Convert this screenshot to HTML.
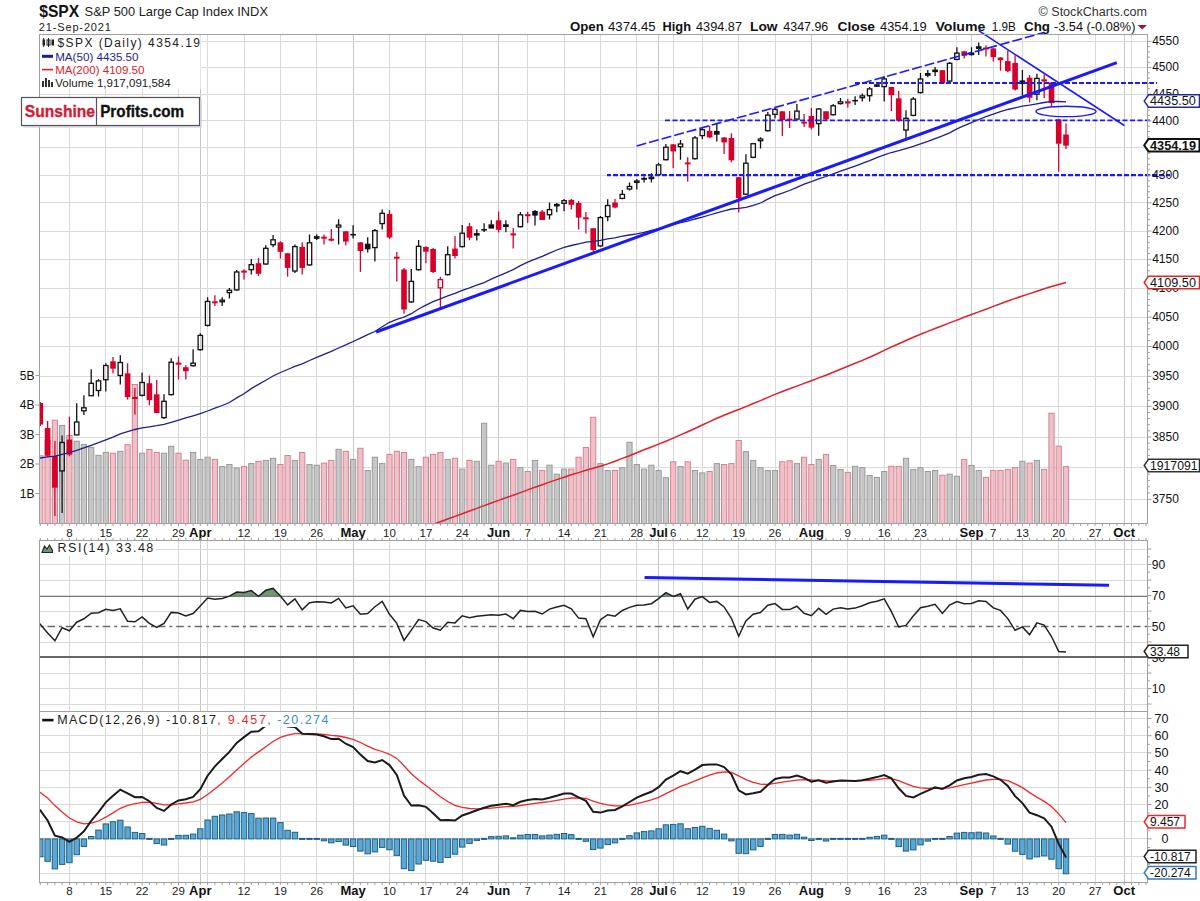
<!DOCTYPE html>
<html><head><meta charset="utf-8"><style>
html,body{margin:0;padding:0;background:#fff;width:1200px;height:901px;overflow:hidden}
svg{position:absolute;left:0;top:0}
text{font-family:"Liberation Sans", sans-serif}
</style></head><body>
<svg width="1200" height="901" viewBox="0 0 1200 901">
<defs><clipPath id="pc"><rect x="39.5" y="34.5" width="1108.0" height="489.0"/></clipPath>
<clipPath id="rc"><rect x="39.5" y="540.5" width="1108.0" height="171.0"/></clipPath>
<clipPath id="mc"><rect x="39.5" y="711.5" width="1108.0" height="171.0"/></clipPath></defs>
<g shape-rendering="crispEdges"><line x1="69.4" y1="34.5" x2="69.4" y2="523.5" stroke="#dadada"/>
<line x1="105.8" y1="34.5" x2="105.8" y2="523.5" stroke="#dadada"/>
<line x1="142.1" y1="34.5" x2="142.1" y2="523.5" stroke="#dadada"/>
<line x1="178.5" y1="34.5" x2="178.5" y2="523.5" stroke="#dadada"/>
<line x1="207.6" y1="34.5" x2="207.6" y2="523.5" stroke="#dadada"/>
<line x1="244.0" y1="34.5" x2="244.0" y2="523.5" stroke="#dadada"/>
<line x1="280.4" y1="34.5" x2="280.4" y2="523.5" stroke="#dadada"/>
<line x1="316.7" y1="34.5" x2="316.7" y2="523.5" stroke="#dadada"/>
<line x1="353.1" y1="34.5" x2="353.1" y2="523.5" stroke="#dadada"/>
<line x1="389.5" y1="34.5" x2="389.5" y2="523.5" stroke="#dadada"/>
<line x1="425.9" y1="34.5" x2="425.9" y2="523.5" stroke="#dadada"/>
<line x1="462.2" y1="34.5" x2="462.2" y2="523.5" stroke="#dadada"/>
<line x1="498.6" y1="34.5" x2="498.6" y2="523.5" stroke="#dadada"/>
<line x1="527.7" y1="34.5" x2="527.7" y2="523.5" stroke="#dadada"/>
<line x1="564.1" y1="34.5" x2="564.1" y2="523.5" stroke="#dadada"/>
<line x1="600.4" y1="34.5" x2="600.4" y2="523.5" stroke="#dadada"/>
<line x1="636.8" y1="34.5" x2="636.8" y2="523.5" stroke="#dadada"/>
<line x1="673.2" y1="34.5" x2="673.2" y2="523.5" stroke="#dadada"/>
<line x1="702.3" y1="34.5" x2="702.3" y2="523.5" stroke="#dadada"/>
<line x1="738.7" y1="34.5" x2="738.7" y2="523.5" stroke="#dadada"/>
<line x1="775.0" y1="34.5" x2="775.0" y2="523.5" stroke="#dadada"/>
<line x1="811.4" y1="34.5" x2="811.4" y2="523.5" stroke="#dadada"/>
<line x1="847.8" y1="34.5" x2="847.8" y2="523.5" stroke="#dadada"/>
<line x1="884.2" y1="34.5" x2="884.2" y2="523.5" stroke="#dadada"/>
<line x1="920.5" y1="34.5" x2="920.5" y2="523.5" stroke="#dadada"/>
<line x1="956.9" y1="34.5" x2="956.9" y2="523.5" stroke="#dadada"/>
<line x1="993.3" y1="34.5" x2="993.3" y2="523.5" stroke="#dadada"/>
<line x1="1022.4" y1="34.5" x2="1022.4" y2="523.5" stroke="#dadada"/>
<line x1="1058.7" y1="34.5" x2="1058.7" y2="523.5" stroke="#dadada"/>
<line x1="1095.1" y1="34.5" x2="1095.1" y2="523.5" stroke="#dadada"/>
<line x1="1131.5" y1="34.5" x2="1131.5" y2="523.5" stroke="#dadada"/>
<line x1="200.3" y1="34.5" x2="200.3" y2="523.5" stroke="#c8c8c8"/>
<line x1="353.1" y1="34.5" x2="353.1" y2="523.5" stroke="#c8c8c8"/>
<line x1="498.6" y1="34.5" x2="498.6" y2="523.5" stroke="#c8c8c8"/>
<line x1="658.6" y1="34.5" x2="658.6" y2="523.5" stroke="#c8c8c8"/>
<line x1="811.4" y1="34.5" x2="811.4" y2="523.5" stroke="#c8c8c8"/>
<line x1="971.5" y1="34.5" x2="971.5" y2="523.5" stroke="#c8c8c8"/>
<line x1="1124.2" y1="34.5" x2="1124.2" y2="523.5" stroke="#c8c8c8"/>
<line x1="39.5" y1="499.3" x2="1147.5" y2="499.3" stroke="#dadada"/>
<line x1="39.5" y1="467.9" x2="1147.5" y2="467.9" stroke="#dadada"/>
<line x1="39.5" y1="437.0" x2="1147.5" y2="437.0" stroke="#dadada"/>
<line x1="39.5" y1="406.4" x2="1147.5" y2="406.4" stroke="#dadada"/>
<line x1="39.5" y1="376.3" x2="1147.5" y2="376.3" stroke="#dadada"/>
<line x1="39.5" y1="346.5" x2="1147.5" y2="346.5" stroke="#dadada"/>
<line x1="39.5" y1="317.1" x2="1147.5" y2="317.1" stroke="#dadada"/>
<line x1="39.5" y1="288.0" x2="1147.5" y2="288.0" stroke="#dadada"/>
<line x1="39.5" y1="259.3" x2="1147.5" y2="259.3" stroke="#dadada"/>
<line x1="39.5" y1="231.0" x2="1147.5" y2="231.0" stroke="#dadada"/>
<line x1="39.5" y1="202.9" x2="1147.5" y2="202.9" stroke="#dadada"/>
<line x1="39.5" y1="175.2" x2="1147.5" y2="175.2" stroke="#dadada"/>
<line x1="39.5" y1="147.9" x2="1147.5" y2="147.9" stroke="#dadada"/>
<line x1="39.5" y1="120.8" x2="1147.5" y2="120.8" stroke="#dadada"/>
<line x1="39.5" y1="94.1" x2="1147.5" y2="94.1" stroke="#dadada"/>
<line x1="39.5" y1="67.6" x2="1147.5" y2="67.6" stroke="#dadada"/>
<line x1="39.5" y1="41.4" x2="1147.5" y2="41.4" stroke="#dadada"/>
<line x1="69.4" y1="540.5" x2="69.4" y2="711.5" stroke="#dadada"/>
<line x1="105.8" y1="540.5" x2="105.8" y2="711.5" stroke="#dadada"/>
<line x1="142.1" y1="540.5" x2="142.1" y2="711.5" stroke="#dadada"/>
<line x1="178.5" y1="540.5" x2="178.5" y2="711.5" stroke="#dadada"/>
<line x1="207.6" y1="540.5" x2="207.6" y2="711.5" stroke="#dadada"/>
<line x1="244.0" y1="540.5" x2="244.0" y2="711.5" stroke="#dadada"/>
<line x1="280.4" y1="540.5" x2="280.4" y2="711.5" stroke="#dadada"/>
<line x1="316.7" y1="540.5" x2="316.7" y2="711.5" stroke="#dadada"/>
<line x1="353.1" y1="540.5" x2="353.1" y2="711.5" stroke="#dadada"/>
<line x1="389.5" y1="540.5" x2="389.5" y2="711.5" stroke="#dadada"/>
<line x1="425.9" y1="540.5" x2="425.9" y2="711.5" stroke="#dadada"/>
<line x1="462.2" y1="540.5" x2="462.2" y2="711.5" stroke="#dadada"/>
<line x1="498.6" y1="540.5" x2="498.6" y2="711.5" stroke="#dadada"/>
<line x1="527.7" y1="540.5" x2="527.7" y2="711.5" stroke="#dadada"/>
<line x1="564.1" y1="540.5" x2="564.1" y2="711.5" stroke="#dadada"/>
<line x1="600.4" y1="540.5" x2="600.4" y2="711.5" stroke="#dadada"/>
<line x1="636.8" y1="540.5" x2="636.8" y2="711.5" stroke="#dadada"/>
<line x1="673.2" y1="540.5" x2="673.2" y2="711.5" stroke="#dadada"/>
<line x1="702.3" y1="540.5" x2="702.3" y2="711.5" stroke="#dadada"/>
<line x1="738.7" y1="540.5" x2="738.7" y2="711.5" stroke="#dadada"/>
<line x1="775.0" y1="540.5" x2="775.0" y2="711.5" stroke="#dadada"/>
<line x1="811.4" y1="540.5" x2="811.4" y2="711.5" stroke="#dadada"/>
<line x1="847.8" y1="540.5" x2="847.8" y2="711.5" stroke="#dadada"/>
<line x1="884.2" y1="540.5" x2="884.2" y2="711.5" stroke="#dadada"/>
<line x1="920.5" y1="540.5" x2="920.5" y2="711.5" stroke="#dadada"/>
<line x1="956.9" y1="540.5" x2="956.9" y2="711.5" stroke="#dadada"/>
<line x1="993.3" y1="540.5" x2="993.3" y2="711.5" stroke="#dadada"/>
<line x1="1022.4" y1="540.5" x2="1022.4" y2="711.5" stroke="#dadada"/>
<line x1="1058.7" y1="540.5" x2="1058.7" y2="711.5" stroke="#dadada"/>
<line x1="1095.1" y1="540.5" x2="1095.1" y2="711.5" stroke="#dadada"/>
<line x1="1131.5" y1="540.5" x2="1131.5" y2="711.5" stroke="#dadada"/>
<line x1="200.3" y1="540.5" x2="200.3" y2="711.5" stroke="#c8c8c8"/>
<line x1="353.1" y1="540.5" x2="353.1" y2="711.5" stroke="#c8c8c8"/>
<line x1="498.6" y1="540.5" x2="498.6" y2="711.5" stroke="#c8c8c8"/>
<line x1="658.6" y1="540.5" x2="658.6" y2="711.5" stroke="#c8c8c8"/>
<line x1="811.4" y1="540.5" x2="811.4" y2="711.5" stroke="#c8c8c8"/>
<line x1="971.5" y1="540.5" x2="971.5" y2="711.5" stroke="#c8c8c8"/>
<line x1="1124.2" y1="540.5" x2="1124.2" y2="711.5" stroke="#c8c8c8"/>
<line x1="39.5" y1="704.0" x2="1147.5" y2="704.0" stroke="#dadada"/>
<line x1="39.5" y1="688.5" x2="1147.5" y2="688.5" stroke="#dadada"/>
<line x1="39.5" y1="673.0" x2="1147.5" y2="673.0" stroke="#dadada"/>
<line x1="39.5" y1="642.0" x2="1147.5" y2="642.0" stroke="#dadada"/>
<line x1="39.5" y1="611.0" x2="1147.5" y2="611.0" stroke="#dadada"/>
<line x1="39.5" y1="580.0" x2="1147.5" y2="580.0" stroke="#dadada"/>
<line x1="39.5" y1="564.5" x2="1147.5" y2="564.5" stroke="#dadada"/>
<line x1="39.5" y1="549.0" x2="1147.5" y2="549.0" stroke="#dadada"/>
<line x1="69.4" y1="711.5" x2="69.4" y2="882.5" stroke="#dadada"/>
<line x1="105.8" y1="711.5" x2="105.8" y2="882.5" stroke="#dadada"/>
<line x1="142.1" y1="711.5" x2="142.1" y2="882.5" stroke="#dadada"/>
<line x1="178.5" y1="711.5" x2="178.5" y2="882.5" stroke="#dadada"/>
<line x1="207.6" y1="711.5" x2="207.6" y2="882.5" stroke="#dadada"/>
<line x1="244.0" y1="711.5" x2="244.0" y2="882.5" stroke="#dadada"/>
<line x1="280.4" y1="711.5" x2="280.4" y2="882.5" stroke="#dadada"/>
<line x1="316.7" y1="711.5" x2="316.7" y2="882.5" stroke="#dadada"/>
<line x1="353.1" y1="711.5" x2="353.1" y2="882.5" stroke="#dadada"/>
<line x1="389.5" y1="711.5" x2="389.5" y2="882.5" stroke="#dadada"/>
<line x1="425.9" y1="711.5" x2="425.9" y2="882.5" stroke="#dadada"/>
<line x1="462.2" y1="711.5" x2="462.2" y2="882.5" stroke="#dadada"/>
<line x1="498.6" y1="711.5" x2="498.6" y2="882.5" stroke="#dadada"/>
<line x1="527.7" y1="711.5" x2="527.7" y2="882.5" stroke="#dadada"/>
<line x1="564.1" y1="711.5" x2="564.1" y2="882.5" stroke="#dadada"/>
<line x1="600.4" y1="711.5" x2="600.4" y2="882.5" stroke="#dadada"/>
<line x1="636.8" y1="711.5" x2="636.8" y2="882.5" stroke="#dadada"/>
<line x1="673.2" y1="711.5" x2="673.2" y2="882.5" stroke="#dadada"/>
<line x1="702.3" y1="711.5" x2="702.3" y2="882.5" stroke="#dadada"/>
<line x1="738.7" y1="711.5" x2="738.7" y2="882.5" stroke="#dadada"/>
<line x1="775.0" y1="711.5" x2="775.0" y2="882.5" stroke="#dadada"/>
<line x1="811.4" y1="711.5" x2="811.4" y2="882.5" stroke="#dadada"/>
<line x1="847.8" y1="711.5" x2="847.8" y2="882.5" stroke="#dadada"/>
<line x1="884.2" y1="711.5" x2="884.2" y2="882.5" stroke="#dadada"/>
<line x1="920.5" y1="711.5" x2="920.5" y2="882.5" stroke="#dadada"/>
<line x1="956.9" y1="711.5" x2="956.9" y2="882.5" stroke="#dadada"/>
<line x1="993.3" y1="711.5" x2="993.3" y2="882.5" stroke="#dadada"/>
<line x1="1022.4" y1="711.5" x2="1022.4" y2="882.5" stroke="#dadada"/>
<line x1="1058.7" y1="711.5" x2="1058.7" y2="882.5" stroke="#dadada"/>
<line x1="1095.1" y1="711.5" x2="1095.1" y2="882.5" stroke="#dadada"/>
<line x1="1131.5" y1="711.5" x2="1131.5" y2="882.5" stroke="#dadada"/>
<line x1="200.3" y1="711.5" x2="200.3" y2="882.5" stroke="#c8c8c8"/>
<line x1="353.1" y1="711.5" x2="353.1" y2="882.5" stroke="#c8c8c8"/>
<line x1="498.6" y1="711.5" x2="498.6" y2="882.5" stroke="#c8c8c8"/>
<line x1="658.6" y1="711.5" x2="658.6" y2="882.5" stroke="#c8c8c8"/>
<line x1="811.4" y1="711.5" x2="811.4" y2="882.5" stroke="#c8c8c8"/>
<line x1="971.5" y1="711.5" x2="971.5" y2="882.5" stroke="#c8c8c8"/>
<line x1="1124.2" y1="711.5" x2="1124.2" y2="882.5" stroke="#c8c8c8"/>
<line x1="39.5" y1="873.3" x2="1147.5" y2="873.3" stroke="#dadada"/>
<line x1="39.5" y1="856.1" x2="1147.5" y2="856.1" stroke="#dadada"/>
<line x1="39.5" y1="838.9" x2="1147.5" y2="838.9" stroke="#dadada"/>
<line x1="39.5" y1="821.7" x2="1147.5" y2="821.7" stroke="#dadada"/>
<line x1="39.5" y1="804.5" x2="1147.5" y2="804.5" stroke="#dadada"/>
<line x1="39.5" y1="787.3" x2="1147.5" y2="787.3" stroke="#dadada"/>
<line x1="39.5" y1="770.1" x2="1147.5" y2="770.1" stroke="#dadada"/>
<line x1="39.5" y1="752.9" x2="1147.5" y2="752.9" stroke="#dadada"/>
<line x1="39.5" y1="735.7" x2="1147.5" y2="735.7" stroke="#dadada"/>
<line x1="39.5" y1="718.5" x2="1147.5" y2="718.5" stroke="#dadada"/></g>
<g clip-path="url(#pc)"><rect x="37.7" y="455.7" width="5.2" height="67.8" fill="#ebb7c1" stroke="#d9808f" stroke-width="1" fill-opacity="0.85"/>
<rect x="45.0" y="440.0" width="5.2" height="83.5" fill="#ebb7c1" stroke="#d9808f" stroke-width="1" fill-opacity="0.85"/>
<rect x="52.3" y="420.2" width="5.2" height="103.3" fill="#ebb7c1" stroke="#d9808f" stroke-width="1" fill-opacity="0.85"/>
<rect x="59.5" y="425.4" width="5.2" height="98.1" fill="#bdbdbd" stroke="#9a9a9a" stroke-width="1" fill-opacity="0.85"/>
<rect x="66.8" y="435.5" width="5.2" height="88.0" fill="#ebb7c1" stroke="#d9808f" stroke-width="1" fill-opacity="0.85"/>
<rect x="74.1" y="441.2" width="5.2" height="82.3" fill="#bdbdbd" stroke="#9a9a9a" stroke-width="1" fill-opacity="0.85"/>
<rect x="81.3" y="444.4" width="5.2" height="79.1" fill="#bdbdbd" stroke="#9a9a9a" stroke-width="1" fill-opacity="0.85"/>
<rect x="88.6" y="447.3" width="5.2" height="76.2" fill="#bdbdbd" stroke="#9a9a9a" stroke-width="1" fill-opacity="0.85"/>
<rect x="95.9" y="455.3" width="5.2" height="68.2" fill="#bdbdbd" stroke="#9a9a9a" stroke-width="1" fill-opacity="0.85"/>
<rect x="103.2" y="452.4" width="5.2" height="71.1" fill="#bdbdbd" stroke="#9a9a9a" stroke-width="1" fill-opacity="0.85"/>
<rect x="110.4" y="453.2" width="5.2" height="70.3" fill="#ebb7c1" stroke="#d9808f" stroke-width="1" fill-opacity="0.85"/>
<rect x="117.7" y="451.3" width="5.2" height="72.2" fill="#bdbdbd" stroke="#9a9a9a" stroke-width="1" fill-opacity="0.85"/>
<rect x="125.0" y="444.7" width="5.2" height="78.8" fill="#ebb7c1" stroke="#d9808f" stroke-width="1" fill-opacity="0.85"/>
<rect x="132.3" y="384.5" width="5.2" height="139.0" fill="#ebb7c1" stroke="#d9808f" stroke-width="1" fill-opacity="0.85"/>
<rect x="139.5" y="453.2" width="5.2" height="70.3" fill="#bdbdbd" stroke="#9a9a9a" stroke-width="1" fill-opacity="0.85"/>
<rect x="146.8" y="449.5" width="5.2" height="74.0" fill="#ebb7c1" stroke="#d9808f" stroke-width="1" fill-opacity="0.85"/>
<rect x="154.1" y="452.4" width="5.2" height="71.1" fill="#ebb7c1" stroke="#d9808f" stroke-width="1" fill-opacity="0.85"/>
<rect x="161.4" y="453.2" width="5.2" height="70.3" fill="#bdbdbd" stroke="#9a9a9a" stroke-width="1" fill-opacity="0.85"/>
<rect x="168.6" y="446.3" width="5.2" height="77.2" fill="#bdbdbd" stroke="#9a9a9a" stroke-width="1" fill-opacity="0.85"/>
<rect x="175.9" y="453.2" width="5.2" height="70.3" fill="#ebb7c1" stroke="#d9808f" stroke-width="1" fill-opacity="0.85"/>
<rect x="183.2" y="460.2" width="5.2" height="63.3" fill="#ebb7c1" stroke="#d9808f" stroke-width="1" fill-opacity="0.85"/>
<rect x="190.5" y="452.4" width="5.2" height="71.1" fill="#bdbdbd" stroke="#9a9a9a" stroke-width="1" fill-opacity="0.85"/>
<rect x="197.7" y="459.4" width="5.2" height="64.1" fill="#bdbdbd" stroke="#9a9a9a" stroke-width="1" fill-opacity="0.85"/>
<rect x="205.0" y="457.2" width="5.2" height="66.3" fill="#bdbdbd" stroke="#9a9a9a" stroke-width="1" fill-opacity="0.85"/>
<rect x="212.3" y="459.4" width="5.2" height="64.1" fill="#ebb7c1" stroke="#d9808f" stroke-width="1" fill-opacity="0.85"/>
<rect x="219.6" y="466.6" width="5.2" height="56.9" fill="#bdbdbd" stroke="#9a9a9a" stroke-width="1" fill-opacity="0.85"/>
<rect x="226.8" y="464.5" width="5.2" height="59.0" fill="#bdbdbd" stroke="#9a9a9a" stroke-width="1" fill-opacity="0.85"/>
<rect x="234.1" y="468.0" width="5.2" height="55.5" fill="#bdbdbd" stroke="#9a9a9a" stroke-width="1" fill-opacity="0.85"/>
<rect x="241.4" y="466.6" width="5.2" height="56.9" fill="#ebb7c1" stroke="#d9808f" stroke-width="1" fill-opacity="0.85"/>
<rect x="248.7" y="463.6" width="5.2" height="59.9" fill="#bdbdbd" stroke="#9a9a9a" stroke-width="1" fill-opacity="0.85"/>
<rect x="255.9" y="461.3" width="5.2" height="62.2" fill="#ebb7c1" stroke="#d9808f" stroke-width="1" fill-opacity="0.85"/>
<rect x="263.2" y="460.4" width="5.2" height="63.1" fill="#bdbdbd" stroke="#9a9a9a" stroke-width="1" fill-opacity="0.85"/>
<rect x="270.5" y="458.3" width="5.2" height="65.2" fill="#bdbdbd" stroke="#9a9a9a" stroke-width="1" fill-opacity="0.85"/>
<rect x="277.8" y="464.5" width="5.2" height="59.0" fill="#ebb7c1" stroke="#d9808f" stroke-width="1" fill-opacity="0.85"/>
<rect x="285.0" y="455.5" width="5.2" height="68.0" fill="#ebb7c1" stroke="#d9808f" stroke-width="1" fill-opacity="0.85"/>
<rect x="292.3" y="460.4" width="5.2" height="63.1" fill="#bdbdbd" stroke="#9a9a9a" stroke-width="1" fill-opacity="0.85"/>
<rect x="299.6" y="452.5" width="5.2" height="71.0" fill="#ebb7c1" stroke="#d9808f" stroke-width="1" fill-opacity="0.85"/>
<rect x="306.9" y="464.5" width="5.2" height="59.0" fill="#bdbdbd" stroke="#9a9a9a" stroke-width="1" fill-opacity="0.85"/>
<rect x="314.1" y="465.2" width="5.2" height="58.3" fill="#bdbdbd" stroke="#9a9a9a" stroke-width="1" fill-opacity="0.85"/>
<rect x="321.4" y="463.1" width="5.2" height="60.4" fill="#ebb7c1" stroke="#d9808f" stroke-width="1" fill-opacity="0.85"/>
<rect x="328.7" y="460.4" width="5.2" height="63.1" fill="#ebb7c1" stroke="#d9808f" stroke-width="1" fill-opacity="0.85"/>
<rect x="336.0" y="449.3" width="5.2" height="74.2" fill="#bdbdbd" stroke="#9a9a9a" stroke-width="1" fill-opacity="0.85"/>
<rect x="343.2" y="451.3" width="5.2" height="72.2" fill="#ebb7c1" stroke="#d9808f" stroke-width="1" fill-opacity="0.85"/>
<rect x="350.5" y="459.4" width="5.2" height="64.1" fill="#bdbdbd" stroke="#9a9a9a" stroke-width="1" fill-opacity="0.85"/>
<rect x="357.8" y="448.3" width="5.2" height="75.2" fill="#ebb7c1" stroke="#d9808f" stroke-width="1" fill-opacity="0.85"/>
<rect x="365.1" y="470.5" width="5.2" height="53.0" fill="#bdbdbd" stroke="#9a9a9a" stroke-width="1" fill-opacity="0.85"/>
<rect x="372.3" y="457.2" width="5.2" height="66.3" fill="#bdbdbd" stroke="#9a9a9a" stroke-width="1" fill-opacity="0.85"/>
<rect x="379.6" y="463.4" width="5.2" height="60.1" fill="#bdbdbd" stroke="#9a9a9a" stroke-width="1" fill-opacity="0.85"/>
<rect x="386.9" y="454.4" width="5.2" height="69.1" fill="#ebb7c1" stroke="#d9808f" stroke-width="1" fill-opacity="0.85"/>
<rect x="394.2" y="451.3" width="5.2" height="72.2" fill="#ebb7c1" stroke="#d9808f" stroke-width="1" fill-opacity="0.85"/>
<rect x="401.4" y="452.5" width="5.2" height="71.0" fill="#ebb7c1" stroke="#d9808f" stroke-width="1" fill-opacity="0.85"/>
<rect x="408.7" y="459.4" width="5.2" height="64.1" fill="#bdbdbd" stroke="#9a9a9a" stroke-width="1" fill-opacity="0.85"/>
<rect x="416.0" y="466.6" width="5.2" height="56.9" fill="#bdbdbd" stroke="#9a9a9a" stroke-width="1" fill-opacity="0.85"/>
<rect x="423.3" y="457.2" width="5.2" height="66.3" fill="#ebb7c1" stroke="#d9808f" stroke-width="1" fill-opacity="0.85"/>
<rect x="430.5" y="454.4" width="5.2" height="69.1" fill="#ebb7c1" stroke="#d9808f" stroke-width="1" fill-opacity="0.85"/>
<rect x="437.8" y="452.5" width="5.2" height="71.0" fill="#ebb7c1" stroke="#d9808f" stroke-width="1" fill-opacity="0.85"/>
<rect x="445.1" y="459.4" width="5.2" height="64.1" fill="#bdbdbd" stroke="#9a9a9a" stroke-width="1" fill-opacity="0.85"/>
<rect x="452.4" y="458.3" width="5.2" height="65.2" fill="#ebb7c1" stroke="#d9808f" stroke-width="1" fill-opacity="0.85"/>
<rect x="459.6" y="469.1" width="5.2" height="54.4" fill="#bdbdbd" stroke="#9a9a9a" stroke-width="1" fill-opacity="0.85"/>
<rect x="466.9" y="460.4" width="5.2" height="63.1" fill="#ebb7c1" stroke="#d9808f" stroke-width="1" fill-opacity="0.85"/>
<rect x="474.2" y="461.3" width="5.2" height="62.2" fill="#bdbdbd" stroke="#9a9a9a" stroke-width="1" fill-opacity="0.85"/>
<rect x="481.5" y="423.3" width="5.2" height="100.2" fill="#bdbdbd" stroke="#9a9a9a" stroke-width="1" fill-opacity="0.85"/>
<rect x="488.7" y="465.2" width="5.2" height="58.3" fill="#bdbdbd" stroke="#9a9a9a" stroke-width="1" fill-opacity="0.85"/>
<rect x="496.0" y="461.3" width="5.2" height="62.2" fill="#ebb7c1" stroke="#d9808f" stroke-width="1" fill-opacity="0.85"/>
<rect x="503.3" y="463.1" width="5.2" height="60.4" fill="#bdbdbd" stroke="#9a9a9a" stroke-width="1" fill-opacity="0.85"/>
<rect x="510.6" y="459.4" width="5.2" height="64.1" fill="#ebb7c1" stroke="#d9808f" stroke-width="1" fill-opacity="0.85"/>
<rect x="517.8" y="467.7" width="5.2" height="55.8" fill="#bdbdbd" stroke="#9a9a9a" stroke-width="1" fill-opacity="0.85"/>
<rect x="525.1" y="471.5" width="5.2" height="52.0" fill="#ebb7c1" stroke="#d9808f" stroke-width="1" fill-opacity="0.85"/>
<rect x="532.4" y="460.4" width="5.2" height="63.1" fill="#bdbdbd" stroke="#9a9a9a" stroke-width="1" fill-opacity="0.85"/>
<rect x="539.6" y="470.5" width="5.2" height="53.0" fill="#ebb7c1" stroke="#d9808f" stroke-width="1" fill-opacity="0.85"/>
<rect x="546.9" y="465.2" width="5.2" height="58.3" fill="#bdbdbd" stroke="#9a9a9a" stroke-width="1" fill-opacity="0.85"/>
<rect x="554.2" y="474.2" width="5.2" height="49.3" fill="#bdbdbd" stroke="#9a9a9a" stroke-width="1" fill-opacity="0.85"/>
<rect x="561.5" y="469.1" width="5.2" height="54.4" fill="#bdbdbd" stroke="#9a9a9a" stroke-width="1" fill-opacity="0.85"/>
<rect x="568.7" y="469.1" width="5.2" height="54.4" fill="#ebb7c1" stroke="#d9808f" stroke-width="1" fill-opacity="0.85"/>
<rect x="576.0" y="457.2" width="5.2" height="66.3" fill="#ebb7c1" stroke="#d9808f" stroke-width="1" fill-opacity="0.85"/>
<rect x="583.3" y="447.5" width="5.2" height="76.0" fill="#ebb7c1" stroke="#d9808f" stroke-width="1" fill-opacity="0.85"/>
<rect x="590.6" y="417.3" width="5.2" height="106.2" fill="#ebb7c1" stroke="#d9808f" stroke-width="1" fill-opacity="0.85"/>
<rect x="597.8" y="463.6" width="5.2" height="59.9" fill="#bdbdbd" stroke="#9a9a9a" stroke-width="1" fill-opacity="0.85"/>
<rect x="605.1" y="470.5" width="5.2" height="53.0" fill="#bdbdbd" stroke="#9a9a9a" stroke-width="1" fill-opacity="0.85"/>
<rect x="612.4" y="470.5" width="5.2" height="53.0" fill="#ebb7c1" stroke="#d9808f" stroke-width="1" fill-opacity="0.85"/>
<rect x="619.7" y="467.7" width="5.2" height="55.8" fill="#bdbdbd" stroke="#9a9a9a" stroke-width="1" fill-opacity="0.85"/>
<rect x="626.9" y="442.3" width="5.2" height="81.2" fill="#bdbdbd" stroke="#9a9a9a" stroke-width="1" fill-opacity="0.85"/>
<rect x="634.2" y="464.5" width="5.2" height="59.0" fill="#bdbdbd" stroke="#9a9a9a" stroke-width="1" fill-opacity="0.85"/>
<rect x="641.5" y="469.1" width="5.2" height="54.4" fill="#bdbdbd" stroke="#9a9a9a" stroke-width="1" fill-opacity="0.85"/>
<rect x="648.8" y="465.2" width="5.2" height="58.3" fill="#bdbdbd" stroke="#9a9a9a" stroke-width="1" fill-opacity="0.85"/>
<rect x="656.0" y="470.5" width="5.2" height="53.0" fill="#bdbdbd" stroke="#9a9a9a" stroke-width="1" fill-opacity="0.85"/>
<rect x="663.3" y="477.7" width="5.2" height="45.8" fill="#bdbdbd" stroke="#9a9a9a" stroke-width="1" fill-opacity="0.85"/>
<rect x="670.6" y="461.8" width="5.2" height="61.7" fill="#ebb7c1" stroke="#d9808f" stroke-width="1" fill-opacity="0.85"/>
<rect x="677.9" y="466.6" width="5.2" height="56.9" fill="#bdbdbd" stroke="#9a9a9a" stroke-width="1" fill-opacity="0.85"/>
<rect x="685.1" y="461.8" width="5.2" height="61.7" fill="#ebb7c1" stroke="#d9808f" stroke-width="1" fill-opacity="0.85"/>
<rect x="692.4" y="470.5" width="5.2" height="53.0" fill="#bdbdbd" stroke="#9a9a9a" stroke-width="1" fill-opacity="0.85"/>
<rect x="699.7" y="472.9" width="5.2" height="50.6" fill="#bdbdbd" stroke="#9a9a9a" stroke-width="1" fill-opacity="0.85"/>
<rect x="707.0" y="471.5" width="5.2" height="52.0" fill="#ebb7c1" stroke="#d9808f" stroke-width="1" fill-opacity="0.85"/>
<rect x="714.2" y="463.6" width="5.2" height="59.9" fill="#bdbdbd" stroke="#9a9a9a" stroke-width="1" fill-opacity="0.85"/>
<rect x="721.5" y="464.5" width="5.2" height="59.0" fill="#ebb7c1" stroke="#d9808f" stroke-width="1" fill-opacity="0.85"/>
<rect x="728.8" y="463.6" width="5.2" height="59.9" fill="#ebb7c1" stroke="#d9808f" stroke-width="1" fill-opacity="0.85"/>
<rect x="736.1" y="440.5" width="5.2" height="83.0" fill="#ebb7c1" stroke="#d9808f" stroke-width="1" fill-opacity="0.85"/>
<rect x="743.3" y="451.6" width="5.2" height="71.9" fill="#bdbdbd" stroke="#9a9a9a" stroke-width="1" fill-opacity="0.85"/>
<rect x="750.6" y="460.4" width="5.2" height="63.1" fill="#bdbdbd" stroke="#9a9a9a" stroke-width="1" fill-opacity="0.85"/>
<rect x="757.9" y="467.7" width="5.2" height="55.8" fill="#bdbdbd" stroke="#9a9a9a" stroke-width="1" fill-opacity="0.85"/>
<rect x="765.2" y="470.5" width="5.2" height="53.0" fill="#bdbdbd" stroke="#9a9a9a" stroke-width="1" fill-opacity="0.85"/>
<rect x="772.4" y="470.5" width="5.2" height="53.0" fill="#bdbdbd" stroke="#9a9a9a" stroke-width="1" fill-opacity="0.85"/>
<rect x="779.7" y="461.8" width="5.2" height="61.7" fill="#ebb7c1" stroke="#d9808f" stroke-width="1" fill-opacity="0.85"/>
<rect x="787.0" y="460.8" width="5.2" height="62.7" fill="#ebb7c1" stroke="#d9808f" stroke-width="1" fill-opacity="0.85"/>
<rect x="794.3" y="463.6" width="5.2" height="59.9" fill="#bdbdbd" stroke="#9a9a9a" stroke-width="1" fill-opacity="0.85"/>
<rect x="801.5" y="457.2" width="5.2" height="66.3" fill="#ebb7c1" stroke="#d9808f" stroke-width="1" fill-opacity="0.85"/>
<rect x="808.8" y="464.5" width="5.2" height="59.0" fill="#ebb7c1" stroke="#d9808f" stroke-width="1" fill-opacity="0.85"/>
<rect x="816.1" y="459.4" width="5.2" height="64.1" fill="#bdbdbd" stroke="#9a9a9a" stroke-width="1" fill-opacity="0.85"/>
<rect x="823.4" y="454.4" width="5.2" height="69.1" fill="#ebb7c1" stroke="#d9808f" stroke-width="1" fill-opacity="0.85"/>
<rect x="830.6" y="465.5" width="5.2" height="58.0" fill="#bdbdbd" stroke="#9a9a9a" stroke-width="1" fill-opacity="0.85"/>
<rect x="837.9" y="469.4" width="5.2" height="54.1" fill="#bdbdbd" stroke="#9a9a9a" stroke-width="1" fill-opacity="0.85"/>
<rect x="845.2" y="472.4" width="5.2" height="51.1" fill="#ebb7c1" stroke="#d9808f" stroke-width="1" fill-opacity="0.85"/>
<rect x="852.5" y="466.3" width="5.2" height="57.2" fill="#bdbdbd" stroke="#9a9a9a" stroke-width="1" fill-opacity="0.85"/>
<rect x="859.7" y="467.7" width="5.2" height="55.8" fill="#bdbdbd" stroke="#9a9a9a" stroke-width="1" fill-opacity="0.85"/>
<rect x="867.0" y="475.6" width="5.2" height="47.9" fill="#bdbdbd" stroke="#9a9a9a" stroke-width="1" fill-opacity="0.85"/>
<rect x="874.3" y="477.4" width="5.2" height="46.1" fill="#bdbdbd" stroke="#9a9a9a" stroke-width="1" fill-opacity="0.85"/>
<rect x="881.6" y="471.5" width="5.2" height="52.0" fill="#bdbdbd" stroke="#9a9a9a" stroke-width="1" fill-opacity="0.85"/>
<rect x="888.8" y="466.3" width="5.2" height="57.2" fill="#ebb7c1" stroke="#d9808f" stroke-width="1" fill-opacity="0.85"/>
<rect x="896.1" y="466.3" width="5.2" height="57.2" fill="#ebb7c1" stroke="#d9808f" stroke-width="1" fill-opacity="0.85"/>
<rect x="903.4" y="458.3" width="5.2" height="65.2" fill="#bdbdbd" stroke="#9a9a9a" stroke-width="1" fill-opacity="0.85"/>
<rect x="910.7" y="469.4" width="5.2" height="54.1" fill="#bdbdbd" stroke="#9a9a9a" stroke-width="1" fill-opacity="0.85"/>
<rect x="917.9" y="467.7" width="5.2" height="55.8" fill="#bdbdbd" stroke="#9a9a9a" stroke-width="1" fill-opacity="0.85"/>
<rect x="925.2" y="471.5" width="5.2" height="52.0" fill="#bdbdbd" stroke="#9a9a9a" stroke-width="1" fill-opacity="0.85"/>
<rect x="932.5" y="470.5" width="5.2" height="53.0" fill="#bdbdbd" stroke="#9a9a9a" stroke-width="1" fill-opacity="0.85"/>
<rect x="939.8" y="475.2" width="5.2" height="48.3" fill="#ebb7c1" stroke="#d9808f" stroke-width="1" fill-opacity="0.85"/>
<rect x="947.0" y="474.2" width="5.2" height="49.3" fill="#bdbdbd" stroke="#9a9a9a" stroke-width="1" fill-opacity="0.85"/>
<rect x="954.3" y="476.3" width="5.2" height="47.2" fill="#bdbdbd" stroke="#9a9a9a" stroke-width="1" fill-opacity="0.85"/>
<rect x="961.6" y="459.4" width="5.2" height="64.1" fill="#ebb7c1" stroke="#d9808f" stroke-width="1" fill-opacity="0.85"/>
<rect x="968.9" y="465.5" width="5.2" height="58.0" fill="#bdbdbd" stroke="#9a9a9a" stroke-width="1" fill-opacity="0.85"/>
<rect x="976.1" y="470.5" width="5.2" height="53.0" fill="#bdbdbd" stroke="#9a9a9a" stroke-width="1" fill-opacity="0.85"/>
<rect x="983.4" y="477.4" width="5.2" height="46.1" fill="#ebb7c1" stroke="#d9808f" stroke-width="1" fill-opacity="0.85"/>
<rect x="990.7" y="470.5" width="5.2" height="53.0" fill="#ebb7c1" stroke="#d9808f" stroke-width="1" fill-opacity="0.85"/>
<rect x="997.9" y="470.5" width="5.2" height="53.0" fill="#ebb7c1" stroke="#d9808f" stroke-width="1" fill-opacity="0.85"/>
<rect x="1005.2" y="469.4" width="5.2" height="54.1" fill="#ebb7c1" stroke="#d9808f" stroke-width="1" fill-opacity="0.85"/>
<rect x="1012.5" y="467.7" width="5.2" height="55.8" fill="#ebb7c1" stroke="#d9808f" stroke-width="1" fill-opacity="0.85"/>
<rect x="1019.8" y="461.3" width="5.2" height="62.2" fill="#bdbdbd" stroke="#9a9a9a" stroke-width="1" fill-opacity="0.85"/>
<rect x="1027.0" y="463.1" width="5.2" height="60.4" fill="#ebb7c1" stroke="#d9808f" stroke-width="1" fill-opacity="0.85"/>
<rect x="1034.3" y="460.4" width="5.2" height="63.1" fill="#bdbdbd" stroke="#9a9a9a" stroke-width="1" fill-opacity="0.85"/>
<rect x="1041.6" y="469.4" width="5.2" height="54.1" fill="#ebb7c1" stroke="#d9808f" stroke-width="1" fill-opacity="0.85"/>
<rect x="1048.9" y="413.2" width="5.2" height="110.3" fill="#ebb7c1" stroke="#d9808f" stroke-width="1" fill-opacity="0.85"/>
<rect x="1056.1" y="446.1" width="5.2" height="77.4" fill="#ebb7c1" stroke="#d9808f" stroke-width="1" fill-opacity="0.85"/>
<rect x="1063.4" y="466.6" width="5.2" height="56.9" fill="#ebb7c1" stroke="#d9808f" stroke-width="1" fill-opacity="0.85"/>
<line x1="40.3" y1="402.0" x2="40.3" y2="403.5" stroke="#d8002a" stroke-width="1.3"/>
<line x1="40.3" y1="424.0" x2="40.3" y2="426.0" stroke="#d8002a" stroke-width="1.3"/>
<rect x="37.5" y="403.0" width="5.6" height="21.5" fill="#d8002a"/>
<line x1="47.6" y1="421.0" x2="47.6" y2="428.5" stroke="#d8002a" stroke-width="1.3"/>
<line x1="47.6" y1="455.2" x2="47.6" y2="457.0" stroke="#d8002a" stroke-width="1.3"/>
<rect x="44.8" y="428.0" width="5.6" height="27.7" fill="#d8002a"/>
<line x1="54.9" y1="441.0" x2="54.9" y2="456.5" stroke="#d8002a" stroke-width="1.3"/>
<line x1="54.9" y1="487.2" x2="54.9" y2="516.0" stroke="#d8002a" stroke-width="1.3"/>
<rect x="52.1" y="456.0" width="5.6" height="31.7" fill="#d8002a"/>
<line x1="62.1" y1="435.4" x2="62.1" y2="442.4" stroke="#111" stroke-width="1.3"/>
<line x1="62.1" y1="471.0" x2="62.1" y2="513.0" stroke="#111" stroke-width="1.3"/>
<rect x="59.9" y="442.5" width="4.3999999999999995" height="28.4" fill="none" stroke="#111" stroke-width="1.3"/>
<line x1="69.4" y1="416.7" x2="69.4" y2="440.1" stroke="#d8002a" stroke-width="1.3"/>
<line x1="69.4" y1="454.2" x2="69.4" y2="456.3" stroke="#d8002a" stroke-width="1.3"/>
<rect x="66.6" y="439.6" width="5.6" height="15.1" fill="#d8002a"/>
<line x1="76.7" y1="403.3" x2="76.7" y2="421.9" stroke="#111" stroke-width="1.3"/>
<rect x="74.5" y="422.0" width="4.3999999999999995" height="12.9" fill="none" stroke="#111" stroke-width="1.3"/>
<line x1="83.9" y1="395.2" x2="83.9" y2="407.7" stroke="#111" stroke-width="1.3"/>
<line x1="83.9" y1="410.9" x2="83.9" y2="415.0" stroke="#111" stroke-width="1.3"/>
<rect x="81.7" y="407.8" width="4.3999999999999995" height="3.0" fill="none" stroke="#111" stroke-width="1.3"/>
<line x1="91.2" y1="369.2" x2="91.2" y2="383.2" stroke="#111" stroke-width="1.3"/>
<rect x="89.0" y="383.3" width="4.3999999999999995" height="12.4" fill="none" stroke="#111" stroke-width="1.3"/>
<line x1="98.5" y1="379.0" x2="98.5" y2="380.8" stroke="#111" stroke-width="1.3"/>
<line x1="98.5" y1="390.6" x2="98.5" y2="396.6" stroke="#111" stroke-width="1.3"/>
<rect x="96.3" y="380.9" width="4.3999999999999995" height="9.6" fill="none" stroke="#111" stroke-width="1.3"/>
<line x1="105.8" y1="363.3" x2="105.8" y2="365.4" stroke="#111" stroke-width="1.3"/>
<line x1="105.8" y1="379.8" x2="105.8" y2="391.6" stroke="#111" stroke-width="1.3"/>
<rect x="103.6" y="365.5" width="4.3999999999999995" height="14.2" fill="none" stroke="#111" stroke-width="1.3"/>
<line x1="113.0" y1="357.0" x2="113.0" y2="361.8" stroke="#d8002a" stroke-width="1.3"/>
<line x1="113.0" y1="368.2" x2="113.0" y2="373.6" stroke="#d8002a" stroke-width="1.3"/>
<rect x="110.2" y="361.3" width="5.6" height="7.4" fill="#d8002a"/>
<line x1="120.3" y1="355.2" x2="120.3" y2="362.4" stroke="#111" stroke-width="1.3"/>
<line x1="120.3" y1="375.6" x2="120.3" y2="384.4" stroke="#111" stroke-width="1.3"/>
<rect x="118.1" y="362.5" width="4.3999999999999995" height="13.0" fill="none" stroke="#111" stroke-width="1.3"/>
<line x1="127.6" y1="363.3" x2="127.6" y2="373.8" stroke="#d8002a" stroke-width="1.3"/>
<line x1="127.6" y1="396.6" x2="127.6" y2="399.4" stroke="#d8002a" stroke-width="1.3"/>
<rect x="124.8" y="373.3" width="5.6" height="23.8" fill="#d8002a"/>
<line x1="134.9" y1="388.0" x2="134.9" y2="397.5" stroke="#d8002a" stroke-width="1.3"/>
<line x1="134.9" y1="398.5" x2="134.9" y2="414.5" stroke="#d8002a" stroke-width="1.3"/>
<rect x="132.1" y="397.0" width="5.6" height="2.0" fill="#d8002a"/>
<line x1="142.1" y1="372.6" x2="142.1" y2="382.4" stroke="#111" stroke-width="1.3"/>
<line x1="142.1" y1="395.4" x2="142.1" y2="396.5" stroke="#111" stroke-width="1.3"/>
<rect x="139.9" y="382.5" width="4.3999999999999995" height="12.8" fill="none" stroke="#111" stroke-width="1.3"/>
<line x1="149.4" y1="375.6" x2="149.4" y2="383.7" stroke="#d8002a" stroke-width="1.3"/>
<line x1="149.4" y1="399.6" x2="149.4" y2="405.2" stroke="#d8002a" stroke-width="1.3"/>
<rect x="146.6" y="383.2" width="5.6" height="16.9" fill="#d8002a"/>
<line x1="156.7" y1="379.9" x2="156.7" y2="394.8" stroke="#d8002a" stroke-width="1.3"/>
<rect x="153.9" y="394.3" width="5.6" height="18.7" fill="#d8002a"/>
<line x1="164.0" y1="394.3" x2="164.0" y2="401.2" stroke="#111" stroke-width="1.3"/>
<line x1="164.0" y1="417.7" x2="164.0" y2="419.0" stroke="#111" stroke-width="1.3"/>
<rect x="161.8" y="401.3" width="4.3999999999999995" height="16.3" fill="none" stroke="#111" stroke-width="1.3"/>
<line x1="171.2" y1="358.3" x2="171.2" y2="362.1" stroke="#111" stroke-width="1.3"/>
<line x1="171.2" y1="394.7" x2="171.2" y2="395.5" stroke="#111" stroke-width="1.3"/>
<rect x="169.0" y="362.2" width="4.3999999999999995" height="32.4" fill="none" stroke="#111" stroke-width="1.3"/>
<line x1="178.5" y1="356.6" x2="178.5" y2="363.1" stroke="#d8002a" stroke-width="1.3"/>
<line x1="178.5" y1="364.1" x2="178.5" y2="379.6" stroke="#d8002a" stroke-width="1.3"/>
<rect x="175.7" y="362.6" width="5.6" height="2.0" fill="#d8002a"/>
<line x1="185.8" y1="365.2" x2="185.8" y2="367.7" stroke="#d8002a" stroke-width="1.3"/>
<line x1="185.8" y1="370.7" x2="185.8" y2="379.6" stroke="#d8002a" stroke-width="1.3"/>
<rect x="183.0" y="367.2" width="5.6" height="4.0" fill="#d8002a"/>
<line x1="193.1" y1="349.3" x2="193.1" y2="363.1" stroke="#111" stroke-width="1.3"/>
<line x1="193.1" y1="365.8" x2="193.1" y2="366.5" stroke="#111" stroke-width="1.3"/>
<rect x="190.9" y="363.2" width="4.3999999999999995" height="2.5" fill="none" stroke="#111" stroke-width="1.3"/>
<line x1="200.3" y1="333.3" x2="200.3" y2="335.3" stroke="#111" stroke-width="1.3"/>
<line x1="200.3" y1="349.8" x2="200.3" y2="350.5" stroke="#111" stroke-width="1.3"/>
<rect x="198.1" y="335.4" width="4.3999999999999995" height="14.3" fill="none" stroke="#111" stroke-width="1.3"/>
<line x1="207.6" y1="297.2" x2="207.6" y2="301.3" stroke="#111" stroke-width="1.3"/>
<line x1="207.6" y1="325.5" x2="207.6" y2="326.5" stroke="#111" stroke-width="1.3"/>
<rect x="205.4" y="301.4" width="4.3999999999999995" height="24.0" fill="none" stroke="#111" stroke-width="1.3"/>
<line x1="214.9" y1="295.2" x2="214.9" y2="301.8" stroke="#d8002a" stroke-width="1.3"/>
<line x1="214.9" y1="302.8" x2="214.9" y2="305.9" stroke="#d8002a" stroke-width="1.3"/>
<rect x="212.1" y="301.3" width="5.6" height="2.0" fill="#d8002a"/>
<line x1="222.2" y1="297.2" x2="222.2" y2="300.1" stroke="#111" stroke-width="1.3"/>
<line x1="222.2" y1="301.8" x2="222.2" y2="305.9" stroke="#111" stroke-width="1.3"/>
<rect x="220.0" y="300.2" width="4.3999999999999995" height="1.5" fill="none" stroke="#111" stroke-width="1.3"/>
<line x1="229.4" y1="287.9" x2="229.4" y2="290.2" stroke="#111" stroke-width="1.3"/>
<line x1="229.4" y1="292.7" x2="229.4" y2="298.5" stroke="#111" stroke-width="1.3"/>
<rect x="227.2" y="290.3" width="4.3999999999999995" height="2.3" fill="none" stroke="#111" stroke-width="1.3"/>
<line x1="236.7" y1="269.9" x2="236.7" y2="271.9" stroke="#111" stroke-width="1.3"/>
<line x1="236.7" y1="290.0" x2="236.7" y2="290.8" stroke="#111" stroke-width="1.3"/>
<rect x="234.5" y="272.0" width="4.3999999999999995" height="17.9" fill="none" stroke="#111" stroke-width="1.3"/>
<line x1="244.0" y1="269.2" x2="244.0" y2="271.1" stroke="#d8002a" stroke-width="1.3"/>
<line x1="244.0" y1="272.1" x2="244.0" y2="279.6" stroke="#d8002a" stroke-width="1.3"/>
<rect x="241.2" y="270.6" width="5.6" height="2.0" fill="#d8002a"/>
<line x1="251.3" y1="258.9" x2="251.3" y2="264.6" stroke="#111" stroke-width="1.3"/>
<line x1="251.3" y1="269.8" x2="251.3" y2="274.6" stroke="#111" stroke-width="1.3"/>
<rect x="249.1" y="264.7" width="4.3999999999999995" height="5.0" fill="none" stroke="#111" stroke-width="1.3"/>
<line x1="258.5" y1="257.9" x2="258.5" y2="263.7" stroke="#d8002a" stroke-width="1.3"/>
<line x1="258.5" y1="273.3" x2="258.5" y2="275.9" stroke="#d8002a" stroke-width="1.3"/>
<rect x="255.7" y="263.2" width="5.6" height="10.6" fill="#d8002a"/>
<line x1="265.8" y1="245.3" x2="265.8" y2="248.2" stroke="#111" stroke-width="1.3"/>
<line x1="265.8" y1="264.1" x2="265.8" y2="264.8" stroke="#111" stroke-width="1.3"/>
<rect x="263.6" y="248.3" width="4.3999999999999995" height="15.7" fill="none" stroke="#111" stroke-width="1.3"/>
<line x1="273.1" y1="234.9" x2="273.1" y2="239.7" stroke="#111" stroke-width="1.3"/>
<line x1="273.1" y1="244.8" x2="273.1" y2="247.3" stroke="#111" stroke-width="1.3"/>
<rect x="270.9" y="239.8" width="4.3999999999999995" height="4.9" fill="none" stroke="#111" stroke-width="1.3"/>
<line x1="280.4" y1="241.3" x2="280.4" y2="242.8" stroke="#d8002a" stroke-width="1.3"/>
<line x1="280.4" y1="251.3" x2="280.4" y2="258.6" stroke="#d8002a" stroke-width="1.3"/>
<rect x="277.6" y="242.3" width="5.6" height="9.5" fill="#d8002a"/>
<line x1="287.6" y1="253.0" x2="287.6" y2="253.8" stroke="#d8002a" stroke-width="1.3"/>
<line x1="287.6" y1="267.4" x2="287.6" y2="276.6" stroke="#d8002a" stroke-width="1.3"/>
<rect x="284.8" y="253.3" width="5.6" height="14.6" fill="#d8002a"/>
<line x1="294.9" y1="244.6" x2="294.9" y2="246.5" stroke="#111" stroke-width="1.3"/>
<line x1="294.9" y1="271.1" x2="294.9" y2="273.0" stroke="#111" stroke-width="1.3"/>
<rect x="292.7" y="246.6" width="4.3999999999999995" height="24.4" fill="none" stroke="#111" stroke-width="1.3"/>
<line x1="302.2" y1="242.3" x2="302.2" y2="247.4" stroke="#d8002a" stroke-width="1.3"/>
<line x1="302.2" y1="267.4" x2="302.2" y2="274.6" stroke="#d8002a" stroke-width="1.3"/>
<rect x="299.4" y="246.9" width="5.6" height="21.0" fill="#d8002a"/>
<line x1="309.5" y1="234.4" x2="309.5" y2="242.7" stroke="#111" stroke-width="1.3"/>
<line x1="309.5" y1="265.0" x2="309.5" y2="265.8" stroke="#111" stroke-width="1.3"/>
<rect x="307.3" y="242.8" width="4.3999999999999995" height="22.1" fill="none" stroke="#111" stroke-width="1.3"/>
<line x1="316.7" y1="234.4" x2="316.7" y2="236.6" stroke="#111" stroke-width="1.3"/>
<line x1="316.7" y1="238.4" x2="316.7" y2="240.0" stroke="#111" stroke-width="1.3"/>
<rect x="313.9" y="236.1" width="5.6" height="2.8" fill="#111"/>
<line x1="324.0" y1="234.4" x2="324.0" y2="237.2" stroke="#d8002a" stroke-width="1.3"/>
<line x1="324.0" y1="238.2" x2="324.0" y2="244.6" stroke="#d8002a" stroke-width="1.3"/>
<rect x="321.2" y="236.7" width="5.6" height="2.0" fill="#d8002a"/>
<line x1="331.3" y1="229.0" x2="331.3" y2="239.2" stroke="#d8002a" stroke-width="1.3"/>
<line x1="331.3" y1="240.2" x2="331.3" y2="241.5" stroke="#d8002a" stroke-width="1.3"/>
<rect x="328.5" y="238.7" width="5.6" height="2.0" fill="#d8002a"/>
<line x1="338.6" y1="219.3" x2="338.6" y2="225.0" stroke="#111" stroke-width="1.3"/>
<line x1="338.6" y1="227.2" x2="338.6" y2="244.6" stroke="#111" stroke-width="1.3"/>
<rect x="336.4" y="225.1" width="4.3999999999999995" height="2.0" fill="none" stroke="#111" stroke-width="1.3"/>
<line x1="345.8" y1="231.0" x2="345.8" y2="231.8" stroke="#d8002a" stroke-width="1.3"/>
<line x1="345.8" y1="241.1" x2="345.8" y2="245.5" stroke="#d8002a" stroke-width="1.3"/>
<rect x="343.0" y="231.3" width="5.6" height="10.3" fill="#d8002a"/>
<line x1="353.1" y1="225.3" x2="353.1" y2="234.4" stroke="#111" stroke-width="1.3"/>
<line x1="353.1" y1="235.0" x2="353.1" y2="238.6" stroke="#111" stroke-width="1.3"/>
<rect x="350.3" y="233.9" width="5.6" height="1.6" fill="#111"/>
<line x1="360.4" y1="242.0" x2="360.4" y2="242.8" stroke="#d8002a" stroke-width="1.3"/>
<line x1="360.4" y1="250.5" x2="360.4" y2="271.9" stroke="#d8002a" stroke-width="1.3"/>
<rect x="357.6" y="242.3" width="5.6" height="8.7" fill="#d8002a"/>
<line x1="367.7" y1="237.3" x2="367.7" y2="244.2" stroke="#111" stroke-width="1.3"/>
<line x1="367.7" y1="248.8" x2="367.7" y2="252.6" stroke="#111" stroke-width="1.3"/>
<rect x="364.9" y="243.7" width="5.6" height="5.6" fill="#111"/>
<line x1="374.9" y1="229.0" x2="374.9" y2="230.5" stroke="#111" stroke-width="1.3"/>
<line x1="374.9" y1="247.7" x2="374.9" y2="261.5" stroke="#111" stroke-width="1.3"/>
<rect x="372.7" y="230.6" width="4.3999999999999995" height="17.0" fill="none" stroke="#111" stroke-width="1.3"/>
<line x1="382.2" y1="209.6" x2="382.2" y2="213.2" stroke="#111" stroke-width="1.3"/>
<line x1="382.2" y1="223.7" x2="382.2" y2="229.6" stroke="#111" stroke-width="1.3"/>
<rect x="380.0" y="213.3" width="4.3999999999999995" height="10.3" fill="none" stroke="#111" stroke-width="1.3"/>
<line x1="389.5" y1="210.0" x2="389.5" y2="214.5" stroke="#d8002a" stroke-width="1.3"/>
<line x1="389.5" y1="237.0" x2="389.5" y2="239.0" stroke="#d8002a" stroke-width="1.3"/>
<rect x="386.7" y="214.0" width="5.6" height="23.5" fill="#d8002a"/>
<line x1="396.8" y1="251.9" x2="396.8" y2="257.2" stroke="#d8002a" stroke-width="1.3"/>
<line x1="396.8" y1="258.2" x2="396.8" y2="281.5" stroke="#d8002a" stroke-width="1.3"/>
<rect x="394.0" y="256.7" width="5.6" height="2.0" fill="#d8002a"/>
<line x1="404.0" y1="267.9" x2="404.0" y2="270.0" stroke="#d8002a" stroke-width="1.3"/>
<line x1="404.0" y1="309.0" x2="404.0" y2="313.8" stroke="#d8002a" stroke-width="1.3"/>
<rect x="401.2" y="269.5" width="5.6" height="40.0" fill="#d8002a"/>
<line x1="411.3" y1="269.0" x2="411.3" y2="281.3" stroke="#111" stroke-width="1.3"/>
<line x1="411.3" y1="302.0" x2="411.3" y2="303.0" stroke="#111" stroke-width="1.3"/>
<rect x="409.1" y="281.4" width="4.3999999999999995" height="20.5" fill="none" stroke="#111" stroke-width="1.3"/>
<line x1="418.6" y1="240.0" x2="418.6" y2="246.2" stroke="#111" stroke-width="1.3"/>
<line x1="418.6" y1="269.8" x2="418.6" y2="270.6" stroke="#111" stroke-width="1.3"/>
<rect x="416.4" y="246.3" width="4.3999999999999995" height="23.4" fill="none" stroke="#111" stroke-width="1.3"/>
<line x1="425.9" y1="246.5" x2="425.9" y2="247.4" stroke="#d8002a" stroke-width="1.3"/>
<line x1="425.9" y1="251.2" x2="425.9" y2="263.2" stroke="#d8002a" stroke-width="1.3"/>
<rect x="423.1" y="246.9" width="5.6" height="4.8" fill="#d8002a"/>
<line x1="433.1" y1="248.0" x2="433.1" y2="249.5" stroke="#d8002a" stroke-width="1.3"/>
<line x1="433.1" y1="271.5" x2="433.1" y2="273.0" stroke="#d8002a" stroke-width="1.3"/>
<rect x="430.3" y="249.0" width="5.6" height="23.0" fill="#d8002a"/>
<line x1="440.4" y1="277.0" x2="440.4" y2="279.5" stroke="#d8002a" stroke-width="1.3"/>
<line x1="440.4" y1="287.9" x2="440.4" y2="308.1" stroke="#d8002a" stroke-width="1.3"/>
<rect x="438.2" y="279.6" width="4.3999999999999995" height="8.2" fill="none" stroke="#d8002a" stroke-width="1.3"/>
<line x1="447.7" y1="246.2" x2="447.7" y2="254.6" stroke="#111" stroke-width="1.3"/>
<line x1="447.7" y1="274.7" x2="447.7" y2="275.5" stroke="#111" stroke-width="1.3"/>
<rect x="445.5" y="254.7" width="4.3999999999999995" height="19.9" fill="none" stroke="#111" stroke-width="1.3"/>
<line x1="455.0" y1="235.9" x2="455.0" y2="249.1" stroke="#d8002a" stroke-width="1.3"/>
<line x1="455.0" y1="255.5" x2="455.0" y2="258.5" stroke="#d8002a" stroke-width="1.3"/>
<rect x="452.2" y="248.6" width="5.6" height="7.4" fill="#d8002a"/>
<line x1="462.2" y1="224.9" x2="462.2" y2="233.1" stroke="#111" stroke-width="1.3"/>
<line x1="462.2" y1="246.7" x2="462.2" y2="247.5" stroke="#111" stroke-width="1.3"/>
<rect x="460.0" y="233.2" width="4.3999999999999995" height="13.4" fill="none" stroke="#111" stroke-width="1.3"/>
<line x1="469.5" y1="223.0" x2="469.5" y2="226.7" stroke="#d8002a" stroke-width="1.3"/>
<line x1="469.5" y1="237.2" x2="469.5" y2="240.3" stroke="#d8002a" stroke-width="1.3"/>
<rect x="466.7" y="226.2" width="5.6" height="11.5" fill="#d8002a"/>
<line x1="476.8" y1="229.3" x2="476.8" y2="233.6" stroke="#111" stroke-width="1.3"/>
<line x1="476.8" y1="235.1" x2="476.8" y2="240.6" stroke="#111" stroke-width="1.3"/>
<rect x="474.6" y="233.7" width="4.3999999999999995" height="1.3" fill="none" stroke="#111" stroke-width="1.3"/>
<line x1="484.1" y1="223.3" x2="484.1" y2="229.5" stroke="#111" stroke-width="1.3"/>
<line x1="484.1" y1="230.1" x2="484.1" y2="231.9" stroke="#111" stroke-width="1.3"/>
<rect x="481.3" y="229.0" width="5.6" height="1.6" fill="#111"/>
<line x1="491.3" y1="220.3" x2="491.3" y2="224.8" stroke="#111" stroke-width="1.3"/>
<rect x="488.5" y="224.3" width="5.6" height="4.3" fill="#111"/>
<line x1="498.6" y1="211.5" x2="498.6" y2="220.8" stroke="#d8002a" stroke-width="1.3"/>
<line x1="498.6" y1="229.3" x2="498.6" y2="232.6" stroke="#d8002a" stroke-width="1.3"/>
<rect x="495.8" y="220.3" width="5.6" height="9.5" fill="#d8002a"/>
<line x1="505.9" y1="220.3" x2="505.9" y2="224.7" stroke="#111" stroke-width="1.3"/>
<line x1="505.9" y1="226.5" x2="505.9" y2="232.3" stroke="#111" stroke-width="1.3"/>
<rect x="503.1" y="224.2" width="5.6" height="2.8" fill="#111"/>
<line x1="513.2" y1="227.9" x2="513.2" y2="233.9" stroke="#d8002a" stroke-width="1.3"/>
<line x1="513.2" y1="234.9" x2="513.2" y2="248.6" stroke="#d8002a" stroke-width="1.3"/>
<rect x="510.4" y="233.4" width="5.6" height="2.0" fill="#d8002a"/>
<line x1="520.4" y1="212.0" x2="520.4" y2="214.7" stroke="#111" stroke-width="1.3"/>
<line x1="520.4" y1="226.8" x2="520.4" y2="227.6" stroke="#111" stroke-width="1.3"/>
<rect x="518.2" y="214.8" width="4.3999999999999995" height="11.9" fill="none" stroke="#111" stroke-width="1.3"/>
<line x1="527.7" y1="211.9" x2="527.7" y2="214.7" stroke="#d8002a" stroke-width="1.3"/>
<line x1="527.7" y1="215.7" x2="527.7" y2="222.9" stroke="#d8002a" stroke-width="1.3"/>
<rect x="524.9" y="214.2" width="5.6" height="2.0" fill="#d8002a"/>
<line x1="535.0" y1="210.0" x2="535.0" y2="211.4" stroke="#111" stroke-width="1.3"/>
<line x1="535.0" y1="215.1" x2="535.0" y2="225.6" stroke="#111" stroke-width="1.3"/>
<rect x="532.2" y="210.9" width="5.6" height="4.7" fill="#111"/>
<line x1="542.2" y1="210.0" x2="542.2" y2="212.1" stroke="#d8002a" stroke-width="1.3"/>
<rect x="539.4" y="211.6" width="5.6" height="8.4" fill="#d8002a"/>
<line x1="549.5" y1="202.5" x2="549.5" y2="209.5" stroke="#111" stroke-width="1.3"/>
<line x1="549.5" y1="214.8" x2="549.5" y2="219.6" stroke="#111" stroke-width="1.3"/>
<rect x="547.3" y="209.6" width="4.3999999999999995" height="5.1" fill="none" stroke="#111" stroke-width="1.3"/>
<line x1="556.8" y1="203.0" x2="556.8" y2="204.4" stroke="#111" stroke-width="1.3"/>
<line x1="556.8" y1="205.9" x2="556.8" y2="212.3" stroke="#111" stroke-width="1.3"/>
<rect x="554.6" y="204.5" width="4.3999999999999995" height="1.3" fill="none" stroke="#111" stroke-width="1.3"/>
<line x1="564.1" y1="199.0" x2="564.1" y2="200.6" stroke="#111" stroke-width="1.3"/>
<line x1="564.1" y1="203.4" x2="564.1" y2="211.3" stroke="#111" stroke-width="1.3"/>
<rect x="561.9" y="200.7" width="4.3999999999999995" height="2.6" fill="none" stroke="#111" stroke-width="1.3"/>
<line x1="571.3" y1="199.0" x2="571.3" y2="200.4" stroke="#d8002a" stroke-width="1.3"/>
<line x1="571.3" y1="204.3" x2="571.3" y2="209.6" stroke="#d8002a" stroke-width="1.3"/>
<rect x="568.5" y="199.9" width="5.6" height="4.9" fill="#d8002a"/>
<line x1="578.6" y1="201.0" x2="578.6" y2="203.5" stroke="#d8002a" stroke-width="1.3"/>
<line x1="578.6" y1="217.1" x2="578.6" y2="229.6" stroke="#d8002a" stroke-width="1.3"/>
<rect x="575.8" y="203.0" width="5.6" height="14.6" fill="#d8002a"/>
<line x1="585.9" y1="211.9" x2="585.9" y2="217.8" stroke="#d8002a" stroke-width="1.3"/>
<line x1="585.9" y1="218.8" x2="585.9" y2="233.6" stroke="#d8002a" stroke-width="1.3"/>
<rect x="583.1" y="217.3" width="5.6" height="2.0" fill="#d8002a"/>
<line x1="593.2" y1="228.0" x2="593.2" y2="228.7" stroke="#d8002a" stroke-width="1.3"/>
<line x1="593.2" y1="249.5" x2="593.2" y2="251.5" stroke="#d8002a" stroke-width="1.3"/>
<rect x="590.4" y="228.2" width="5.6" height="21.8" fill="#d8002a"/>
<line x1="600.4" y1="215.9" x2="600.4" y2="217.5" stroke="#111" stroke-width="1.3"/>
<line x1="600.4" y1="246.0" x2="600.4" y2="246.8" stroke="#111" stroke-width="1.3"/>
<rect x="598.2" y="217.6" width="4.3999999999999995" height="28.3" fill="none" stroke="#111" stroke-width="1.3"/>
<line x1="607.7" y1="199.2" x2="607.7" y2="205.4" stroke="#111" stroke-width="1.3"/>
<line x1="607.7" y1="216.7" x2="607.7" y2="221.2" stroke="#111" stroke-width="1.3"/>
<rect x="605.5" y="205.5" width="4.3999999999999995" height="11.1" fill="none" stroke="#111" stroke-width="1.3"/>
<line x1="615.0" y1="199.0" x2="615.0" y2="203.0" stroke="#d8002a" stroke-width="1.3"/>
<line x1="615.0" y1="207.0" x2="615.0" y2="208.2" stroke="#d8002a" stroke-width="1.3"/>
<rect x="612.2" y="202.5" width="5.6" height="5.0" fill="#d8002a"/>
<line x1="622.3" y1="189.9" x2="622.3" y2="194.3" stroke="#111" stroke-width="1.3"/>
<line x1="622.3" y1="198.5" x2="622.3" y2="199.3" stroke="#111" stroke-width="1.3"/>
<rect x="620.1" y="194.4" width="4.3999999999999995" height="4.0" fill="none" stroke="#111" stroke-width="1.3"/>
<line x1="629.5" y1="182.6" x2="629.5" y2="186.4" stroke="#111" stroke-width="1.3"/>
<line x1="629.5" y1="189.1" x2="629.5" y2="190.6" stroke="#111" stroke-width="1.3"/>
<rect x="627.3" y="186.5" width="4.3999999999999995" height="2.5" fill="none" stroke="#111" stroke-width="1.3"/>
<line x1="636.8" y1="179.2" x2="636.8" y2="180.9" stroke="#111" stroke-width="1.3"/>
<line x1="636.8" y1="182.5" x2="636.8" y2="189.6" stroke="#111" stroke-width="1.3"/>
<rect x="634.6" y="181.0" width="4.3999999999999995" height="1.4" fill="none" stroke="#111" stroke-width="1.3"/>
<line x1="644.1" y1="176.6" x2="644.1" y2="178.3" stroke="#111" stroke-width="1.3"/>
<line x1="644.1" y1="179.3" x2="644.1" y2="182.6" stroke="#111" stroke-width="1.3"/>
<rect x="641.3" y="177.8" width="5.6" height="2.0" fill="#111"/>
<line x1="651.4" y1="173.2" x2="651.4" y2="177.1" stroke="#111" stroke-width="1.3"/>
<line x1="651.4" y1="178.7" x2="651.4" y2="182.6" stroke="#111" stroke-width="1.3"/>
<rect x="649.2" y="177.2" width="4.3999999999999995" height="1.4" fill="none" stroke="#111" stroke-width="1.3"/>
<line x1="658.6" y1="163.0" x2="658.6" y2="164.8" stroke="#111" stroke-width="1.3"/>
<line x1="658.6" y1="174.7" x2="658.6" y2="175.5" stroke="#111" stroke-width="1.3"/>
<rect x="656.4" y="164.9" width="4.3999999999999995" height="9.7" fill="none" stroke="#111" stroke-width="1.3"/>
<line x1="665.9" y1="144.0" x2="665.9" y2="147.1" stroke="#111" stroke-width="1.3"/>
<line x1="665.9" y1="159.8" x2="665.9" y2="160.6" stroke="#111" stroke-width="1.3"/>
<rect x="663.7" y="147.2" width="4.3999999999999995" height="12.5" fill="none" stroke="#111" stroke-width="1.3"/>
<line x1="673.2" y1="144.0" x2="673.2" y2="144.9" stroke="#d8002a" stroke-width="1.3"/>
<line x1="673.2" y1="150.9" x2="673.2" y2="167.9" stroke="#d8002a" stroke-width="1.3"/>
<rect x="670.4" y="144.4" width="5.6" height="7.0" fill="#d8002a"/>
<line x1="680.5" y1="140.0" x2="680.5" y2="143.9" stroke="#111" stroke-width="1.3"/>
<line x1="680.5" y1="146.8" x2="680.5" y2="159.7" stroke="#111" stroke-width="1.3"/>
<rect x="678.3" y="144.0" width="4.3999999999999995" height="2.7" fill="none" stroke="#111" stroke-width="1.3"/>
<line x1="687.7" y1="157.3" x2="687.7" y2="162.9" stroke="#d8002a" stroke-width="1.3"/>
<line x1="687.7" y1="163.9" x2="687.7" y2="181.5" stroke="#d8002a" stroke-width="1.3"/>
<rect x="684.9" y="162.4" width="5.6" height="2.0" fill="#d8002a"/>
<line x1="695.0" y1="136.0" x2="695.0" y2="137.8" stroke="#111" stroke-width="1.3"/>
<line x1="695.0" y1="158.8" x2="695.0" y2="159.6" stroke="#111" stroke-width="1.3"/>
<rect x="692.8" y="137.9" width="4.3999999999999995" height="20.8" fill="none" stroke="#111" stroke-width="1.3"/>
<line x1="702.3" y1="127.3" x2="702.3" y2="129.6" stroke="#111" stroke-width="1.3"/>
<line x1="702.3" y1="135.7" x2="702.3" y2="139.3" stroke="#111" stroke-width="1.3"/>
<rect x="700.1" y="129.7" width="4.3999999999999995" height="5.9" fill="none" stroke="#111" stroke-width="1.3"/>
<line x1="709.6" y1="126.0" x2="709.6" y2="131.4" stroke="#d8002a" stroke-width="1.3"/>
<line x1="709.6" y1="136.9" x2="709.6" y2="138.3" stroke="#d8002a" stroke-width="1.3"/>
<rect x="706.8" y="130.9" width="5.6" height="6.5" fill="#d8002a"/>
<line x1="716.8" y1="124.0" x2="716.8" y2="131.4" stroke="#111" stroke-width="1.3"/>
<line x1="716.8" y1="134.2" x2="716.8" y2="141.5" stroke="#111" stroke-width="1.3"/>
<rect x="714.0" y="130.9" width="5.6" height="3.8" fill="#111"/>
<line x1="724.1" y1="137.0" x2="724.1" y2="138.0" stroke="#d8002a" stroke-width="1.3"/>
<line x1="724.1" y1="141.9" x2="724.1" y2="153.9" stroke="#d8002a" stroke-width="1.3"/>
<rect x="721.3" y="137.5" width="5.6" height="4.9" fill="#d8002a"/>
<line x1="731.4" y1="133.3" x2="731.4" y2="138.5" stroke="#d8002a" stroke-width="1.3"/>
<line x1="731.4" y1="159.8" x2="731.4" y2="162.3" stroke="#d8002a" stroke-width="1.3"/>
<rect x="728.6" y="138.0" width="5.6" height="22.3" fill="#d8002a"/>
<line x1="738.7" y1="177.0" x2="738.7" y2="177.7" stroke="#d8002a" stroke-width="1.3"/>
<line x1="738.7" y1="197.7" x2="738.7" y2="212.5" stroke="#d8002a" stroke-width="1.3"/>
<rect x="735.9" y="177.2" width="5.6" height="21.0" fill="#d8002a"/>
<line x1="745.9" y1="154.3" x2="745.9" y2="163.1" stroke="#111" stroke-width="1.3"/>
<line x1="745.9" y1="194.3" x2="745.9" y2="195.1" stroke="#111" stroke-width="1.3"/>
<rect x="743.7" y="163.2" width="4.3999999999999995" height="31.0" fill="none" stroke="#111" stroke-width="1.3"/>
<line x1="753.2" y1="143.0" x2="753.2" y2="143.6" stroke="#111" stroke-width="1.3"/>
<line x1="753.2" y1="157.4" x2="753.2" y2="158.2" stroke="#111" stroke-width="1.3"/>
<rect x="751.0" y="143.7" width="4.3999999999999995" height="13.6" fill="none" stroke="#111" stroke-width="1.3"/>
<line x1="760.5" y1="137.3" x2="760.5" y2="138.9" stroke="#111" stroke-width="1.3"/>
<line x1="760.5" y1="140.8" x2="760.5" y2="148.6" stroke="#111" stroke-width="1.3"/>
<rect x="758.3" y="139.0" width="4.3999999999999995" height="1.7" fill="none" stroke="#111" stroke-width="1.3"/>
<line x1="767.8" y1="112.0" x2="767.8" y2="115.0" stroke="#111" stroke-width="1.3"/>
<line x1="767.8" y1="130.8" x2="767.8" y2="131.6" stroke="#111" stroke-width="1.3"/>
<rect x="765.6" y="115.1" width="4.3999999999999995" height="15.6" fill="none" stroke="#111" stroke-width="1.3"/>
<line x1="775.0" y1="107.3" x2="775.0" y2="109.3" stroke="#111" stroke-width="1.3"/>
<line x1="775.0" y1="114.4" x2="775.0" y2="118.6" stroke="#111" stroke-width="1.3"/>
<rect x="772.8" y="109.4" width="4.3999999999999995" height="4.9" fill="none" stroke="#111" stroke-width="1.3"/>
<line x1="782.3" y1="111.0" x2="782.3" y2="111.8" stroke="#d8002a" stroke-width="1.3"/>
<line x1="782.3" y1="119.5" x2="782.3" y2="135.9" stroke="#d8002a" stroke-width="1.3"/>
<rect x="779.5" y="111.3" width="5.6" height="8.7" fill="#d8002a"/>
<line x1="789.6" y1="110.9" x2="789.6" y2="119.1" stroke="#d8002a" stroke-width="1.3"/>
<line x1="789.6" y1="120.1" x2="789.6" y2="127.9" stroke="#d8002a" stroke-width="1.3"/>
<rect x="786.8" y="118.6" width="5.6" height="2.0" fill="#d8002a"/>
<line x1="796.9" y1="104.0" x2="796.9" y2="111.0" stroke="#111" stroke-width="1.3"/>
<line x1="796.9" y1="119.2" x2="796.9" y2="120.0" stroke="#111" stroke-width="1.3"/>
<rect x="794.7" y="111.1" width="4.3999999999999995" height="8.0" fill="none" stroke="#111" stroke-width="1.3"/>
<line x1="804.1" y1="114.0" x2="804.1" y2="122.1" stroke="#d8002a" stroke-width="1.3"/>
<line x1="804.1" y1="123.1" x2="804.1" y2="126.9" stroke="#d8002a" stroke-width="1.3"/>
<rect x="801.3" y="121.6" width="5.6" height="2.0" fill="#d8002a"/>
<line x1="811.4" y1="108.0" x2="811.4" y2="116.5" stroke="#d8002a" stroke-width="1.3"/>
<line x1="811.4" y1="127.2" x2="811.4" y2="129.5" stroke="#d8002a" stroke-width="1.3"/>
<rect x="808.6" y="116.0" width="5.6" height="11.7" fill="#d8002a"/>
<line x1="818.7" y1="108.0" x2="818.7" y2="108.9" stroke="#111" stroke-width="1.3"/>
<line x1="818.7" y1="123.7" x2="818.7" y2="135.7" stroke="#111" stroke-width="1.3"/>
<rect x="816.5" y="109.0" width="4.3999999999999995" height="14.6" fill="none" stroke="#111" stroke-width="1.3"/>
<line x1="826.0" y1="111.0" x2="826.0" y2="111.8" stroke="#d8002a" stroke-width="1.3"/>
<line x1="826.0" y1="118.9" x2="826.0" y2="120.0" stroke="#d8002a" stroke-width="1.3"/>
<rect x="823.2" y="111.3" width="5.6" height="8.1" fill="#d8002a"/>
<line x1="833.2" y1="104.0" x2="833.2" y2="105.7" stroke="#111" stroke-width="1.3"/>
<line x1="833.2" y1="114.8" x2="833.2" y2="115.6" stroke="#111" stroke-width="1.3"/>
<rect x="831.0" y="105.8" width="4.3999999999999995" height="8.9" fill="none" stroke="#111" stroke-width="1.3"/>
<line x1="840.5" y1="98.0" x2="840.5" y2="101.7" stroke="#111" stroke-width="1.3"/>
<line x1="840.5" y1="103.7" x2="840.5" y2="104.5" stroke="#111" stroke-width="1.3"/>
<rect x="838.3" y="101.8" width="4.3999999999999995" height="1.8" fill="none" stroke="#111" stroke-width="1.3"/>
<line x1="847.8" y1="98.9" x2="847.8" y2="101.8" stroke="#d8002a" stroke-width="1.3"/>
<line x1="847.8" y1="103.0" x2="847.8" y2="107.6" stroke="#d8002a" stroke-width="1.3"/>
<rect x="845.0" y="101.3" width="5.6" height="2.2" fill="#d8002a"/>
<line x1="855.1" y1="96.3" x2="855.1" y2="100.4" stroke="#111" stroke-width="1.3"/>
<line x1="855.1" y1="101.0" x2="855.1" y2="105.0" stroke="#111" stroke-width="1.3"/>
<rect x="852.3" y="99.9" width="5.6" height="1.6" fill="#111"/>
<line x1="862.3" y1="93.6" x2="862.3" y2="95.8" stroke="#111" stroke-width="1.3"/>
<line x1="862.3" y1="97.8" x2="862.3" y2="101.6" stroke="#111" stroke-width="1.3"/>
<rect x="860.1" y="95.9" width="4.3999999999999995" height="1.8" fill="none" stroke="#111" stroke-width="1.3"/>
<line x1="869.6" y1="87.0" x2="869.6" y2="88.8" stroke="#111" stroke-width="1.3"/>
<line x1="869.6" y1="95.8" x2="869.6" y2="101.6" stroke="#111" stroke-width="1.3"/>
<rect x="867.4" y="88.9" width="4.3999999999999995" height="6.8" fill="none" stroke="#111" stroke-width="1.3"/>
<line x1="876.9" y1="84.3" x2="876.9" y2="84.8" stroke="#111" stroke-width="1.3"/>
<line x1="876.9" y1="86.3" x2="876.9" y2="87.0" stroke="#111" stroke-width="1.3"/>
<rect x="874.7" y="84.9" width="4.3999999999999995" height="1.3" fill="none" stroke="#111" stroke-width="1.3"/>
<line x1="884.2" y1="76.3" x2="884.2" y2="78.8" stroke="#111" stroke-width="1.3"/>
<line x1="884.2" y1="86.7" x2="884.2" y2="101.6" stroke="#111" stroke-width="1.3"/>
<rect x="882.0" y="78.9" width="4.3999999999999995" height="7.7" fill="none" stroke="#111" stroke-width="1.3"/>
<line x1="891.4" y1="86.7" x2="891.4" y2="87.5" stroke="#d8002a" stroke-width="1.3"/>
<line x1="891.4" y1="94.6" x2="891.4" y2="110.9" stroke="#d8002a" stroke-width="1.3"/>
<rect x="888.6" y="87.0" width="5.6" height="8.1" fill="#d8002a"/>
<line x1="898.7" y1="91.0" x2="898.7" y2="98.8" stroke="#d8002a" stroke-width="1.3"/>
<line x1="898.7" y1="120.2" x2="898.7" y2="121.8" stroke="#d8002a" stroke-width="1.3"/>
<rect x="895.9" y="98.3" width="5.6" height="22.4" fill="#d8002a"/>
<line x1="906.0" y1="110.3" x2="906.0" y2="118.2" stroke="#111" stroke-width="1.3"/>
<line x1="906.0" y1="130.1" x2="906.0" y2="138.2" stroke="#111" stroke-width="1.3"/>
<rect x="903.8" y="118.3" width="4.3999999999999995" height="11.7" fill="none" stroke="#111" stroke-width="1.3"/>
<line x1="913.3" y1="97.0" x2="913.3" y2="99.0" stroke="#111" stroke-width="1.3"/>
<line x1="913.3" y1="115.5" x2="913.3" y2="116.3" stroke="#111" stroke-width="1.3"/>
<rect x="911.1" y="99.1" width="4.3999999999999995" height="16.3" fill="none" stroke="#111" stroke-width="1.3"/>
<line x1="920.5" y1="72.9" x2="920.5" y2="78.9" stroke="#111" stroke-width="1.3"/>
<line x1="920.5" y1="92.7" x2="920.5" y2="93.5" stroke="#111" stroke-width="1.3"/>
<rect x="918.3" y="79.0" width="4.3999999999999995" height="13.6" fill="none" stroke="#111" stroke-width="1.3"/>
<line x1="927.8" y1="70.0" x2="927.8" y2="73.5" stroke="#111" stroke-width="1.3"/>
<line x1="927.8" y1="75.3" x2="927.8" y2="77.3" stroke="#111" stroke-width="1.3"/>
<rect x="925.0" y="73.0" width="5.6" height="2.8" fill="#111"/>
<line x1="935.1" y1="67.0" x2="935.1" y2="70.1" stroke="#111" stroke-width="1.3"/>
<line x1="935.1" y1="71.6" x2="935.1" y2="75.9" stroke="#111" stroke-width="1.3"/>
<rect x="932.9" y="70.2" width="4.3999999999999995" height="1.3" fill="none" stroke="#111" stroke-width="1.3"/>
<line x1="942.4" y1="70.0" x2="942.4" y2="70.7" stroke="#d8002a" stroke-width="1.3"/>
<line x1="942.4" y1="82.9" x2="942.4" y2="83.6" stroke="#d8002a" stroke-width="1.3"/>
<rect x="939.6" y="70.2" width="5.6" height="13.2" fill="#d8002a"/>
<line x1="949.6" y1="62.0" x2="949.6" y2="63.2" stroke="#111" stroke-width="1.3"/>
<line x1="949.6" y1="81.2" x2="949.6" y2="82.0" stroke="#111" stroke-width="1.3"/>
<rect x="947.4" y="63.3" width="4.3999999999999995" height="17.8" fill="none" stroke="#111" stroke-width="1.3"/>
<line x1="956.9" y1="47.3" x2="956.9" y2="53.0" stroke="#111" stroke-width="1.3"/>
<line x1="956.9" y1="59.5" x2="956.9" y2="60.3" stroke="#111" stroke-width="1.3"/>
<rect x="954.7" y="53.1" width="4.3999999999999995" height="6.3" fill="none" stroke="#111" stroke-width="1.3"/>
<line x1="964.2" y1="51.0" x2="964.2" y2="51.8" stroke="#d8002a" stroke-width="1.3"/>
<line x1="964.2" y1="55.2" x2="964.2" y2="58.6" stroke="#d8002a" stroke-width="1.3"/>
<rect x="961.4" y="51.3" width="5.6" height="4.4" fill="#d8002a"/>
<line x1="971.5" y1="47.3" x2="971.5" y2="52.9" stroke="#111" stroke-width="1.3"/>
<line x1="971.5" y1="54.7" x2="971.5" y2="55.6" stroke="#111" stroke-width="1.3"/>
<rect x="968.7" y="52.4" width="5.6" height="2.8" fill="#111"/>
<line x1="978.7" y1="42.6" x2="978.7" y2="46.7" stroke="#111" stroke-width="1.3"/>
<line x1="978.7" y1="48.5" x2="978.7" y2="55.0" stroke="#111" stroke-width="1.3"/>
<rect x="975.9" y="46.2" width="5.6" height="2.8" fill="#111"/>
<line x1="986.0" y1="45.3" x2="986.0" y2="48.0" stroke="#d8002a" stroke-width="1.3"/>
<line x1="986.0" y1="49.0" x2="986.0" y2="56.6" stroke="#d8002a" stroke-width="1.3"/>
<rect x="983.2" y="47.5" width="5.6" height="2.0" fill="#d8002a"/>
<line x1="993.3" y1="48.0" x2="993.3" y2="48.9" stroke="#d8002a" stroke-width="1.3"/>
<line x1="993.3" y1="56.6" x2="993.3" y2="61.4" stroke="#d8002a" stroke-width="1.3"/>
<rect x="990.5" y="48.4" width="5.6" height="8.7" fill="#d8002a"/>
<line x1="1000.5" y1="57.3" x2="1000.5" y2="58.0" stroke="#d8002a" stroke-width="1.3"/>
<line x1="1000.5" y1="59.7" x2="1000.5" y2="70.7" stroke="#d8002a" stroke-width="1.3"/>
<rect x="997.7" y="57.5" width="5.6" height="2.7" fill="#d8002a"/>
<line x1="1007.8" y1="50.5" x2="1007.8" y2="61.6" stroke="#d8002a" stroke-width="1.3"/>
<line x1="1007.8" y1="70.6" x2="1007.8" y2="72.3" stroke="#d8002a" stroke-width="1.3"/>
<rect x="1005.0" y="61.1" width="5.6" height="10.0" fill="#d8002a"/>
<line x1="1015.1" y1="55.2" x2="1015.1" y2="63.5" stroke="#d8002a" stroke-width="1.3"/>
<line x1="1015.1" y1="89.0" x2="1015.1" y2="90.5" stroke="#d8002a" stroke-width="1.3"/>
<rect x="1012.3" y="63.0" width="5.6" height="26.5" fill="#d8002a"/>
<line x1="1022.4" y1="70.0" x2="1022.4" y2="80.9" stroke="#111" stroke-width="1.3"/>
<line x1="1022.4" y1="83.6" x2="1022.4" y2="95.6" stroke="#111" stroke-width="1.3"/>
<rect x="1019.6" y="80.4" width="5.6" height="3.7" fill="#111"/>
<line x1="1029.6" y1="75.1" x2="1029.6" y2="78.2" stroke="#d8002a" stroke-width="1.3"/>
<line x1="1029.6" y1="97.3" x2="1029.6" y2="102.6" stroke="#d8002a" stroke-width="1.3"/>
<rect x="1026.8" y="77.7" width="5.6" height="20.1" fill="#d8002a"/>
<line x1="1036.9" y1="73.8" x2="1036.9" y2="78.3" stroke="#111" stroke-width="1.3"/>
<line x1="1036.9" y1="94.3" x2="1036.9" y2="100.3" stroke="#111" stroke-width="1.3"/>
<rect x="1034.7" y="78.4" width="4.3999999999999995" height="15.8" fill="none" stroke="#111" stroke-width="1.3"/>
<line x1="1044.2" y1="74.6" x2="1044.2" y2="79.8" stroke="#d8002a" stroke-width="1.3"/>
<line x1="1044.2" y1="81.0" x2="1044.2" y2="97.9" stroke="#d8002a" stroke-width="1.3"/>
<rect x="1041.4" y="79.3" width="5.6" height="2.2" fill="#d8002a"/>
<line x1="1051.5" y1="82.0" x2="1051.5" y2="82.9" stroke="#d8002a" stroke-width="1.3"/>
<line x1="1051.5" y1="102.6" x2="1051.5" y2="106.5" stroke="#d8002a" stroke-width="1.3"/>
<rect x="1048.7" y="82.4" width="5.6" height="20.7" fill="#d8002a"/>
<line x1="1058.7" y1="119.0" x2="1058.7" y2="119.8" stroke="#d8002a" stroke-width="1.3"/>
<line x1="1058.7" y1="143.2" x2="1058.7" y2="171.7" stroke="#d8002a" stroke-width="1.3"/>
<rect x="1055.9" y="119.3" width="5.6" height="24.4" fill="#d8002a"/>
<line x1="1066.0" y1="123.5" x2="1066.0" y2="135.0" stroke="#d8002a" stroke-width="1.3"/>
<line x1="1066.0" y1="145.1" x2="1066.0" y2="148.9" stroke="#d8002a" stroke-width="1.3"/>
<rect x="1063.2" y="134.5" width="5.6" height="11.1" fill="#d8002a"/>
<polyline points="435.5,523.5 440.4,521.7 447.7,519.0 455.0,516.4 462.2,513.7 469.5,511.0 476.8,508.4 484.1,505.6 491.3,503.0 498.6,500.4 505.9,497.8 513.2,495.2 520.4,492.6 527.7,489.9 535.0,487.3 542.2,484.7 549.5,482.1 556.8,479.6 564.1,477.2 571.3,474.8 578.6,472.6 585.9,470.3 593.2,468.3 600.4,466.3 607.7,463.9 615.0,461.3 622.3,458.4 629.5,455.7 636.8,452.7 644.1,449.8 651.4,447.0 658.6,444.1 665.9,441.2 673.2,438.1 680.5,434.9 687.7,431.7 695.0,428.5 702.3,425.0 709.6,421.6 716.8,418.3 724.1,415.2 731.4,412.2 738.7,409.5 745.9,406.6 753.2,403.5 760.5,400.6 767.8,397.4 775.0,394.4 782.3,391.5 789.6,388.8 796.9,386.1 804.1,383.4 811.4,380.7 818.7,377.9 826.0,375.2 833.2,372.2 840.5,369.2 847.8,366.2 855.1,363.3 862.3,360.4 869.6,357.2 876.9,354.0 884.2,350.4 891.4,347.0 898.7,343.7 906.0,340.5 913.3,337.3 920.5,334.2 927.8,331.4 935.1,328.5 942.4,325.8 949.6,322.9 956.9,320.1 964.2,317.3 971.5,314.5 978.7,311.9 986.0,309.2 993.3,306.4 1000.5,303.7 1007.8,301.0 1015.1,298.4 1022.4,296.0 1029.6,293.6 1036.9,291.2 1044.2,288.7 1051.5,286.5 1058.7,284.5 1066.0,282.5" fill="none" stroke="#e0202a" stroke-width="1.5"/>
<polyline points="39.5,458.3 40.3,458.0 47.6,456.8 54.9,456.1 62.1,454.3 69.4,452.6 76.7,450.3 83.9,447.9 91.2,445.4 98.5,442.7 105.8,439.8 113.0,437.2 120.3,433.9 127.6,431.6 134.9,429.5 142.1,427.9 149.4,426.8 156.7,425.7 164.0,424.4 171.2,422.4 178.5,420.2 185.8,417.9 193.1,415.8 200.3,413.7 207.6,411.0 214.9,408.2 222.2,405.5 229.4,402.5 236.7,397.9 244.0,393.8 251.3,388.6 258.5,384.4 265.8,380.2 273.1,376.0 280.4,372.5 287.6,369.5 294.9,366.4 302.2,363.8 309.5,360.5 316.7,357.3 324.0,354.3 331.3,351.4 338.6,348.0 345.8,344.9 353.1,341.5 360.4,338.1 367.7,334.7 374.9,331.5 382.2,326.7 389.5,322.3 396.8,319.4 404.0,317.1 411.3,313.7 418.6,309.0 425.9,305.2 433.1,301.7 440.4,298.9 447.7,295.8 455.0,293.3 462.2,290.4 469.5,287.9 476.8,285.2 484.1,282.6 491.3,279.2 498.6,275.9 505.9,272.8 513.2,269.6 520.4,265.7 527.7,262.1 535.0,259.2 542.2,256.4 549.5,253.2 556.8,250.0 564.1,247.4 571.3,245.5 578.6,243.8 585.9,242.1 593.2,241.4 600.4,240.3 607.7,238.9 615.0,237.8 622.3,236.2 629.5,235.0 636.8,233.8 644.1,232.3 651.4,230.5 658.6,228.8 665.9,226.4 673.2,224.5 680.5,222.6 687.7,221.1 695.0,219.0 702.3,217.1 709.6,215.0 716.8,212.9 724.1,210.8 731.4,209.0 738.7,208.3 745.9,207.3 753.2,205.4 760.5,203.0 767.8,199.2 775.0,195.7 782.3,193.2 789.6,190.5 796.9,187.3 804.1,184.2 811.4,181.7 818.7,178.8 826.0,176.5 833.2,173.8 840.5,171.2 847.8,168.6 855.1,166.1 862.3,163.4 869.6,160.6 876.9,157.6 884.2,154.9 891.4,152.5 898.7,150.6 906.0,148.6 913.3,146.4 920.5,143.8 927.8,141.3 935.1,138.6 942.4,135.9 949.6,132.8 956.9,128.9 964.2,125.7 971.5,122.7 978.7,119.5 986.0,116.6 993.3,114.1 1000.5,111.7 1007.8,109.5 1015.1,107.8 1022.4,106.2 1029.6,105.2 1036.9,103.8 1044.2,102.5 1051.5,101.3 1058.7,101.5 1066.0,101.8" fill="none" stroke="#1f1f8f" stroke-width="1.3"/></g>
<g><line x1="376.0" y1="332.0" x2="1116.8" y2="62.7" stroke="#1a1aff" stroke-width="3"/>
<line x1="607.0" y1="175.2" x2="1170.0" y2="175.2" stroke="#1a1aff" stroke-width="2.2" stroke-dasharray="5 2" stroke-dashoffset="1"/>

<line x1="665.0" y1="120.4" x2="1150.0" y2="120.4" stroke="#1a1aff" stroke-width="1.6" stroke-dasharray="5 2.5" stroke-dashoffset="0"/>
<line x1="855.0" y1="83.0" x2="1157.0" y2="83.0" stroke="#1a1aff" stroke-width="2.2" stroke-dasharray="5 2" stroke-dashoffset="0"/>
<line x1="636.6" y1="146.0" x2="1044.0" y2="32.5" stroke="#1a1aff" stroke-width="1.6" stroke-dasharray="10 3" stroke-dashoffset="0"/>
<line x1="978.7" y1="30.7" x2="1124.3" y2="125.5" stroke="#1a1aff" stroke-width="1.5"/>
<ellipse cx="1066" cy="111.4" rx="30" ry="5.2" fill="none" stroke="#1a1aff" stroke-width="1.4"/>
<line x1="644.6" y1="577.5" x2="1109.0" y2="585.3" stroke="#1a1aff" stroke-width="3"/></g>
<g clip-path="url(#rc)"><polygon points="228.8,596.3 229.4,596.1 236.7,592.1 244.0,592.4 251.3,590.6 258.4,596.3 258.4,596.3 228.8,596.3" fill="#6f9772"/>
<polygon points="258.7,596.3 265.8,590.3 273.1,588.4 280.4,596.0 280.6,596.3 280.6,596.3 258.7,596.3" fill="#6f9772"/>
<polygon points="661.5,596.3 665.9,592.6 672.9,596.3 672.9,596.3 661.5,596.3" fill="#6f9772"/>
<polygon points="673.6,596.3 680.5,593.7 681.7,596.3 681.7,596.3 673.6,596.3" fill="#6f9772"/>
<line x1="39.5" y1="596.3" x2="1147.5" y2="596.3" stroke="#777" stroke-width="1.3"/>
<line x1="39.5" y1="657" x2="1147.5" y2="657" stroke="#666" stroke-width="2.2"/>
<line x1="39.5" y1="626.5" x2="1147.5" y2="626.5" stroke="#6a6a6a" stroke-width="1.6" stroke-dasharray="7.6 4 2.9 3.9" stroke-dashoffset="10.5"/>
<polyline points="39.5,623.6 40.3,624.2 47.6,633.1 54.9,640.8 62.1,627.7 69.4,630.8 76.7,622.2 83.9,618.8 91.2,613.2 98.5,612.7 105.8,609.2 113.0,610.5 120.3,608.8 127.6,621.3 134.9,621.8 142.1,617.0 149.4,623.3 156.7,627.5 164.0,623.5 171.2,612.4 178.5,613.1 185.8,616.0 193.1,613.5 200.3,605.9 207.6,598.1 214.9,599.2 222.2,598.4 229.4,596.1 236.7,592.1 244.0,592.4 251.3,590.6 258.5,596.4 265.8,590.3 273.1,588.4 280.4,596.0 287.6,604.9 294.9,598.9 302.2,609.8 309.5,602.7 316.7,601.7 324.0,601.9 331.3,603.0 338.6,598.4 345.8,607.9 353.1,605.8 360.4,614.2 367.7,613.6 374.9,606.7 382.2,601.3 389.5,614.3 396.8,623.4 404.0,640.4 411.3,630.1 418.6,619.6 425.9,621.6 433.1,628.0 440.4,630.2 447.7,622.2 455.0,622.9 462.2,615.8 469.5,617.7 476.8,616.3 484.1,615.4 491.3,614.8 498.6,615.3 505.9,614.0 513.2,618.7 520.4,610.4 527.7,611.4 535.0,611.3 542.2,614.0 549.5,609.1 556.8,607.1 564.1,605.3 571.3,608.9 578.6,618.1 585.9,618.8 593.2,636.8 600.4,619.8 607.7,614.7 615.0,616.2 622.3,610.5 629.5,607.4 636.8,605.3 644.1,605.0 651.4,603.7 658.6,598.7 665.9,592.6 673.2,596.4 680.5,593.7 687.7,609.0 695.0,599.2 702.3,596.6 709.6,602.4 716.8,601.4 724.1,606.9 731.4,618.3 738.7,636.2 745.9,621.0 753.2,614.2 760.5,612.6 767.8,605.2 775.0,603.6 782.3,609.4 789.6,609.6 796.9,606.2 804.1,613.3 811.4,615.7 818.7,608.3 826.0,614.4 833.2,609.1 840.5,607.7 847.8,609.0 855.1,608.1 862.3,605.7 869.6,602.8 876.9,601.3 884.2,598.8 891.4,611.7 898.7,627.0 906.0,625.4 913.3,615.9 920.5,607.7 927.8,606.3 935.1,604.3 942.4,613.4 949.6,605.1 956.9,601.5 964.2,603.7 971.5,603.4 978.7,600.7 986.0,601.4 993.3,607.9 1000.5,610.4 1007.8,618.6 1015.1,630.3 1022.4,626.9 1029.6,634.7 1036.9,622.9 1044.2,625.1 1051.5,636.5 1058.7,651.5 1066.0,652.1" fill="none" stroke="#222" stroke-width="1.5"/></g>
<g clip-path="url(#mc)"><rect x="37.6" y="838.9" width="5.4" height="17.9" fill="#5aa7d3" stroke="#1f5f87" stroke-width="1"/>
<rect x="44.9" y="838.9" width="5.4" height="22.4" fill="#5aa7d3" stroke="#1f5f87" stroke-width="1"/>
<rect x="52.2" y="838.9" width="5.4" height="30.0" fill="#5aa7d3" stroke="#1f5f87" stroke-width="1"/>
<rect x="59.4" y="838.9" width="5.4" height="25.5" fill="#5aa7d3" stroke="#1f5f87" stroke-width="1"/>
<rect x="66.7" y="838.9" width="5.4" height="23.8" fill="#5aa7d3" stroke="#1f5f87" stroke-width="1"/>
<rect x="74.0" y="838.9" width="5.4" height="15.8" fill="#5aa7d3" stroke="#1f5f87" stroke-width="1"/>
<rect x="81.2" y="838.9" width="5.4" height="7.5" fill="#5aa7d3" stroke="#1f5f87" stroke-width="1"/>
<rect x="88.5" y="836.5" width="5.4" height="2.4" fill="#5aa7d3" stroke="#1f5f87" stroke-width="1"/>
<rect x="95.8" y="830.1" width="5.4" height="8.8" fill="#5aa7d3" stroke="#1f5f87" stroke-width="1"/>
<rect x="103.1" y="823.9" width="5.4" height="15.0" fill="#5aa7d3" stroke="#1f5f87" stroke-width="1"/>
<rect x="110.3" y="821.7" width="5.4" height="17.2" fill="#5aa7d3" stroke="#1f5f87" stroke-width="1"/>
<rect x="117.6" y="820.2" width="5.4" height="18.7" fill="#5aa7d3" stroke="#1f5f87" stroke-width="1"/>
<rect x="124.9" y="827.0" width="5.4" height="11.9" fill="#5aa7d3" stroke="#1f5f87" stroke-width="1"/>
<rect x="132.2" y="832.4" width="5.4" height="6.5" fill="#5aa7d3" stroke="#1f5f87" stroke-width="1"/>
<rect x="139.4" y="833.5" width="5.4" height="5.4" fill="#5aa7d3" stroke="#1f5f87" stroke-width="1"/>
<rect x="146.7" y="838.4" width="5.4" height="1.0" fill="#5aa7d3" stroke="#1f5f87" stroke-width="1"/>
<rect x="154.0" y="838.9" width="5.4" height="4.7" fill="#5aa7d3" stroke="#1f5f87" stroke-width="1"/>
<rect x="161.3" y="838.9" width="5.4" height="6.1" fill="#5aa7d3" stroke="#1f5f87" stroke-width="1"/>
<rect x="168.5" y="838.4" width="5.4" height="1.0" fill="#5aa7d3" stroke="#1f5f87" stroke-width="1"/>
<rect x="175.8" y="835.4" width="5.4" height="3.5" fill="#5aa7d3" stroke="#1f5f87" stroke-width="1"/>
<rect x="183.1" y="835.3" width="5.4" height="3.6" fill="#5aa7d3" stroke="#1f5f87" stroke-width="1"/>
<rect x="190.4" y="834.1" width="5.4" height="4.8" fill="#5aa7d3" stroke="#1f5f87" stroke-width="1"/>
<rect x="197.6" y="828.8" width="5.4" height="10.1" fill="#5aa7d3" stroke="#1f5f87" stroke-width="1"/>
<rect x="204.9" y="820.0" width="5.4" height="18.9" fill="#5aa7d3" stroke="#1f5f87" stroke-width="1"/>
<rect x="212.2" y="816.3" width="5.4" height="22.6" fill="#5aa7d3" stroke="#1f5f87" stroke-width="1"/>
<rect x="219.5" y="815.0" width="5.4" height="23.9" fill="#5aa7d3" stroke="#1f5f87" stroke-width="1"/>
<rect x="226.7" y="814.0" width="5.4" height="24.9" fill="#5aa7d3" stroke="#1f5f87" stroke-width="1"/>
<rect x="234.0" y="811.8" width="5.4" height="27.1" fill="#5aa7d3" stroke="#1f5f87" stroke-width="1"/>
<rect x="241.3" y="812.6" width="5.4" height="26.3" fill="#5aa7d3" stroke="#1f5f87" stroke-width="1"/>
<rect x="248.6" y="813.6" width="5.4" height="25.3" fill="#5aa7d3" stroke="#1f5f87" stroke-width="1"/>
<rect x="255.8" y="818.2" width="5.4" height="20.7" fill="#5aa7d3" stroke="#1f5f87" stroke-width="1"/>
<rect x="263.1" y="818.0" width="5.4" height="20.9" fill="#5aa7d3" stroke="#1f5f87" stroke-width="1"/>
<rect x="270.4" y="818.1" width="5.4" height="20.8" fill="#5aa7d3" stroke="#1f5f87" stroke-width="1"/>
<rect x="277.7" y="822.6" width="5.4" height="16.3" fill="#5aa7d3" stroke="#1f5f87" stroke-width="1"/>
<rect x="284.9" y="830.3" width="5.4" height="8.6" fill="#5aa7d3" stroke="#1f5f87" stroke-width="1"/>
<rect x="292.2" y="832.3" width="5.4" height="6.6" fill="#5aa7d3" stroke="#1f5f87" stroke-width="1"/>
<rect x="299.5" y="838.4" width="5.4" height="1.0" fill="#5aa7d3" stroke="#1f5f87" stroke-width="1"/>
<rect x="306.8" y="838.4" width="5.4" height="1.0" fill="#5aa7d3" stroke="#1f5f87" stroke-width="1"/>
<rect x="314.0" y="838.4" width="5.4" height="1.0" fill="#5aa7d3" stroke="#1f5f87" stroke-width="1"/>
<rect x="321.3" y="838.9" width="5.4" height="1.9" fill="#5aa7d3" stroke="#1f5f87" stroke-width="1"/>
<rect x="328.6" y="838.9" width="5.4" height="3.9" fill="#5aa7d3" stroke="#1f5f87" stroke-width="1"/>
<rect x="335.9" y="838.9" width="5.4" height="2.7" fill="#5aa7d3" stroke="#1f5f87" stroke-width="1"/>
<rect x="343.1" y="838.9" width="5.4" height="6.2" fill="#5aa7d3" stroke="#1f5f87" stroke-width="1"/>
<rect x="350.4" y="838.9" width="5.4" height="7.6" fill="#5aa7d3" stroke="#1f5f87" stroke-width="1"/>
<rect x="357.7" y="838.9" width="5.4" height="12.2" fill="#5aa7d3" stroke="#1f5f87" stroke-width="1"/>
<rect x="365.0" y="838.9" width="5.4" height="14.9" fill="#5aa7d3" stroke="#1f5f87" stroke-width="1"/>
<rect x="372.2" y="838.9" width="5.4" height="13.0" fill="#5aa7d3" stroke="#1f5f87" stroke-width="1"/>
<rect x="379.5" y="838.9" width="5.4" height="8.5" fill="#5aa7d3" stroke="#1f5f87" stroke-width="1"/>
<rect x="386.8" y="838.9" width="5.4" height="10.9" fill="#5aa7d3" stroke="#1f5f87" stroke-width="1"/>
<rect x="394.1" y="838.9" width="5.4" height="16.5" fill="#5aa7d3" stroke="#1f5f87" stroke-width="1"/>
<rect x="401.3" y="838.9" width="5.4" height="29.8" fill="#5aa7d3" stroke="#1f5f87" stroke-width="1"/>
<rect x="408.6" y="838.9" width="5.4" height="31.7" fill="#5aa7d3" stroke="#1f5f87" stroke-width="1"/>
<rect x="415.9" y="838.9" width="5.4" height="25.1" fill="#5aa7d3" stroke="#1f5f87" stroke-width="1"/>
<rect x="423.2" y="838.9" width="5.4" height="21.4" fill="#5aa7d3" stroke="#1f5f87" stroke-width="1"/>
<rect x="430.4" y="838.9" width="5.4" height="22.3" fill="#5aa7d3" stroke="#1f5f87" stroke-width="1"/>
<rect x="437.7" y="838.9" width="5.4" height="23.5" fill="#5aa7d3" stroke="#1f5f87" stroke-width="1"/>
<rect x="445.0" y="838.9" width="5.4" height="18.6" fill="#5aa7d3" stroke="#1f5f87" stroke-width="1"/>
<rect x="452.3" y="838.9" width="5.4" height="15.3" fill="#5aa7d3" stroke="#1f5f87" stroke-width="1"/>
<rect x="459.5" y="838.9" width="5.4" height="8.2" fill="#5aa7d3" stroke="#1f5f87" stroke-width="1"/>
<rect x="466.8" y="838.9" width="5.4" height="4.5" fill="#5aa7d3" stroke="#1f5f87" stroke-width="1"/>
<rect x="474.1" y="838.9" width="5.4" height="1.5" fill="#5aa7d3" stroke="#1f5f87" stroke-width="1"/>
<rect x="481.4" y="838.4" width="5.4" height="1.0" fill="#5aa7d3" stroke="#1f5f87" stroke-width="1"/>
<rect x="488.6" y="836.6" width="5.4" height="2.3" fill="#5aa7d3" stroke="#1f5f87" stroke-width="1"/>
<rect x="495.9" y="836.3" width="5.4" height="2.6" fill="#5aa7d3" stroke="#1f5f87" stroke-width="1"/>
<rect x="503.2" y="835.9" width="5.4" height="3.0" fill="#5aa7d3" stroke="#1f5f87" stroke-width="1"/>
<rect x="510.5" y="837.8" width="5.4" height="1.1" fill="#5aa7d3" stroke="#1f5f87" stroke-width="1"/>
<rect x="517.7" y="835.2" width="5.4" height="3.7" fill="#5aa7d3" stroke="#1f5f87" stroke-width="1"/>
<rect x="525.0" y="834.5" width="5.4" height="4.4" fill="#5aa7d3" stroke="#1f5f87" stroke-width="1"/>
<rect x="532.3" y="834.5" width="5.4" height="4.4" fill="#5aa7d3" stroke="#1f5f87" stroke-width="1"/>
<rect x="539.5" y="835.9" width="5.4" height="3.0" fill="#5aa7d3" stroke="#1f5f87" stroke-width="1"/>
<rect x="546.8" y="835.1" width="5.4" height="3.8" fill="#5aa7d3" stroke="#1f5f87" stroke-width="1"/>
<rect x="554.1" y="834.3" width="5.4" height="4.6" fill="#5aa7d3" stroke="#1f5f87" stroke-width="1"/>
<rect x="561.4" y="833.5" width="5.4" height="5.4" fill="#5aa7d3" stroke="#1f5f87" stroke-width="1"/>
<rect x="568.6" y="834.6" width="5.4" height="4.3" fill="#5aa7d3" stroke="#1f5f87" stroke-width="1"/>
<rect x="575.9" y="838.4" width="5.4" height="1.0" fill="#5aa7d3" stroke="#1f5f87" stroke-width="1"/>
<rect x="583.2" y="838.9" width="5.4" height="2.4" fill="#5aa7d3" stroke="#1f5f87" stroke-width="1"/>
<rect x="590.5" y="838.9" width="5.4" height="10.6" fill="#5aa7d3" stroke="#1f5f87" stroke-width="1"/>
<rect x="597.7" y="838.9" width="5.4" height="9.2" fill="#5aa7d3" stroke="#1f5f87" stroke-width="1"/>
<rect x="605.0" y="838.9" width="5.4" height="5.7" fill="#5aa7d3" stroke="#1f5f87" stroke-width="1"/>
<rect x="612.3" y="838.9" width="5.4" height="4.0" fill="#5aa7d3" stroke="#1f5f87" stroke-width="1"/>
<rect x="619.6" y="838.4" width="5.4" height="1.0" fill="#5aa7d3" stroke="#1f5f87" stroke-width="1"/>
<rect x="626.8" y="835.7" width="5.4" height="3.2" fill="#5aa7d3" stroke="#1f5f87" stroke-width="1"/>
<rect x="634.1" y="832.9" width="5.4" height="6.0" fill="#5aa7d3" stroke="#1f5f87" stroke-width="1"/>
<rect x="641.4" y="831.6" width="5.4" height="7.3" fill="#5aa7d3" stroke="#1f5f87" stroke-width="1"/>
<rect x="648.7" y="830.9" width="5.4" height="8.0" fill="#5aa7d3" stroke="#1f5f87" stroke-width="1"/>
<rect x="655.9" y="828.8" width="5.4" height="10.1" fill="#5aa7d3" stroke="#1f5f87" stroke-width="1"/>
<rect x="663.2" y="824.8" width="5.4" height="14.1" fill="#5aa7d3" stroke="#1f5f87" stroke-width="1"/>
<rect x="670.5" y="824.4" width="5.4" height="14.5" fill="#5aa7d3" stroke="#1f5f87" stroke-width="1"/>
<rect x="677.8" y="823.8" width="5.4" height="15.1" fill="#5aa7d3" stroke="#1f5f87" stroke-width="1"/>
<rect x="685.0" y="828.7" width="5.4" height="10.2" fill="#5aa7d3" stroke="#1f5f87" stroke-width="1"/>
<rect x="692.3" y="827.5" width="5.4" height="11.4" fill="#5aa7d3" stroke="#1f5f87" stroke-width="1"/>
<rect x="699.6" y="826.3" width="5.4" height="12.6" fill="#5aa7d3" stroke="#1f5f87" stroke-width="1"/>
<rect x="706.9" y="828.4" width="5.4" height="10.5" fill="#5aa7d3" stroke="#1f5f87" stroke-width="1"/>
<rect x="714.1" y="830.3" width="5.4" height="8.6" fill="#5aa7d3" stroke="#1f5f87" stroke-width="1"/>
<rect x="721.4" y="834.1" width="5.4" height="4.8" fill="#5aa7d3" stroke="#1f5f87" stroke-width="1"/>
<rect x="728.7" y="838.9" width="5.4" height="2.0" fill="#5aa7d3" stroke="#1f5f87" stroke-width="1"/>
<rect x="736.0" y="838.9" width="5.4" height="14.4" fill="#5aa7d3" stroke="#1f5f87" stroke-width="1"/>
<rect x="743.2" y="838.9" width="5.4" height="14.8" fill="#5aa7d3" stroke="#1f5f87" stroke-width="1"/>
<rect x="750.5" y="838.9" width="5.4" height="11.0" fill="#5aa7d3" stroke="#1f5f87" stroke-width="1"/>
<rect x="757.8" y="838.9" width="5.4" height="7.5" fill="#5aa7d3" stroke="#1f5f87" stroke-width="1"/>
<rect x="765.1" y="838.4" width="5.4" height="1.0" fill="#5aa7d3" stroke="#1f5f87" stroke-width="1"/>
<rect x="772.3" y="834.5" width="5.4" height="4.4" fill="#5aa7d3" stroke="#1f5f87" stroke-width="1"/>
<rect x="779.6" y="834.4" width="5.4" height="4.5" fill="#5aa7d3" stroke="#1f5f87" stroke-width="1"/>
<rect x="786.9" y="835.1" width="5.4" height="3.8" fill="#5aa7d3" stroke="#1f5f87" stroke-width="1"/>
<rect x="794.2" y="834.3" width="5.4" height="4.6" fill="#5aa7d3" stroke="#1f5f87" stroke-width="1"/>
<rect x="801.4" y="837.2" width="5.4" height="1.7" fill="#5aa7d3" stroke="#1f5f87" stroke-width="1"/>
<rect x="808.7" y="838.9" width="5.4" height="1.6" fill="#5aa7d3" stroke="#1f5f87" stroke-width="1"/>
<rect x="816.0" y="838.4" width="5.4" height="1.0" fill="#5aa7d3" stroke="#1f5f87" stroke-width="1"/>
<rect x="823.3" y="838.9" width="5.4" height="2.1" fill="#5aa7d3" stroke="#1f5f87" stroke-width="1"/>
<rect x="830.5" y="838.4" width="5.4" height="1.0" fill="#5aa7d3" stroke="#1f5f87" stroke-width="1"/>
<rect x="837.8" y="838.4" width="5.4" height="1.0" fill="#5aa7d3" stroke="#1f5f87" stroke-width="1"/>
<rect x="845.1" y="838.4" width="5.4" height="1.0" fill="#5aa7d3" stroke="#1f5f87" stroke-width="1"/>
<rect x="852.4" y="838.4" width="5.4" height="1.0" fill="#5aa7d3" stroke="#1f5f87" stroke-width="1"/>
<rect x="859.6" y="838.4" width="5.4" height="1.0" fill="#5aa7d3" stroke="#1f5f87" stroke-width="1"/>
<rect x="866.9" y="837.3" width="5.4" height="1.6" fill="#5aa7d3" stroke="#1f5f87" stroke-width="1"/>
<rect x="874.2" y="836.4" width="5.4" height="2.5" fill="#5aa7d3" stroke="#1f5f87" stroke-width="1"/>
<rect x="881.5" y="835.2" width="5.4" height="3.7" fill="#5aa7d3" stroke="#1f5f87" stroke-width="1"/>
<rect x="888.7" y="838.4" width="5.4" height="1.0" fill="#5aa7d3" stroke="#1f5f87" stroke-width="1"/>
<rect x="896.0" y="838.9" width="5.4" height="7.7" fill="#5aa7d3" stroke="#1f5f87" stroke-width="1"/>
<rect x="903.3" y="838.9" width="5.4" height="12.2" fill="#5aa7d3" stroke="#1f5f87" stroke-width="1"/>
<rect x="910.6" y="838.9" width="5.4" height="11.0" fill="#5aa7d3" stroke="#1f5f87" stroke-width="1"/>
<rect x="917.8" y="838.9" width="5.4" height="6.0" fill="#5aa7d3" stroke="#1f5f87" stroke-width="1"/>
<rect x="925.1" y="838.9" width="5.4" height="2.2" fill="#5aa7d3" stroke="#1f5f87" stroke-width="1"/>
<rect x="932.4" y="838.4" width="5.4" height="1.0" fill="#5aa7d3" stroke="#1f5f87" stroke-width="1"/>
<rect x="939.7" y="838.4" width="5.4" height="1.0" fill="#5aa7d3" stroke="#1f5f87" stroke-width="1"/>
<rect x="946.9" y="836.5" width="5.4" height="2.4" fill="#5aa7d3" stroke="#1f5f87" stroke-width="1"/>
<rect x="954.2" y="833.1" width="5.4" height="5.8" fill="#5aa7d3" stroke="#1f5f87" stroke-width="1"/>
<rect x="961.5" y="832.4" width="5.4" height="6.5" fill="#5aa7d3" stroke="#1f5f87" stroke-width="1"/>
<rect x="968.8" y="832.7" width="5.4" height="6.2" fill="#5aa7d3" stroke="#1f5f87" stroke-width="1"/>
<rect x="976.0" y="832.2" width="5.4" height="6.7" fill="#5aa7d3" stroke="#1f5f87" stroke-width="1"/>
<rect x="983.3" y="833.0" width="5.4" height="5.9" fill="#5aa7d3" stroke="#1f5f87" stroke-width="1"/>
<rect x="990.6" y="836.0" width="5.4" height="2.9" fill="#5aa7d3" stroke="#1f5f87" stroke-width="1"/>
<rect x="997.8" y="838.4" width="5.4" height="1.0" fill="#5aa7d3" stroke="#1f5f87" stroke-width="1"/>
<rect x="1005.1" y="838.9" width="5.4" height="5.2" fill="#5aa7d3" stroke="#1f5f87" stroke-width="1"/>
<rect x="1012.4" y="838.9" width="5.4" height="12.3" fill="#5aa7d3" stroke="#1f5f87" stroke-width="1"/>
<rect x="1019.7" y="838.9" width="5.4" height="15.5" fill="#5aa7d3" stroke="#1f5f87" stroke-width="1"/>
<rect x="1026.9" y="838.9" width="5.4" height="20.0" fill="#5aa7d3" stroke="#1f5f87" stroke-width="1"/>
<rect x="1034.2" y="838.9" width="5.4" height="18.0" fill="#5aa7d3" stroke="#1f5f87" stroke-width="1"/>
<rect x="1041.5" y="838.9" width="5.4" height="17.0" fill="#5aa7d3" stroke="#1f5f87" stroke-width="1"/>
<rect x="1048.8" y="838.9" width="5.4" height="20.3" fill="#5aa7d3" stroke="#1f5f87" stroke-width="1"/>
<rect x="1056.0" y="838.9" width="5.4" height="29.8" fill="#5aa7d3" stroke="#1f5f87" stroke-width="1"/>
<rect x="1063.3" y="838.9" width="5.4" height="34.9" fill="#5aa7d3" stroke="#1f5f87" stroke-width="1"/>
<polyline points="39.5,792.0 40.3,792.5 47.6,798.1 54.9,805.6 62.1,812.0 69.4,818.0 76.7,821.9 83.9,823.8 91.2,823.2 98.5,821.0 105.8,817.2 113.0,812.9 120.3,808.3 127.6,805.3 134.9,803.7 142.1,802.3 149.4,802.1 156.7,803.3 164.0,804.8 171.2,804.8 178.5,803.9 185.8,803.0 193.1,801.8 200.3,799.3 207.6,794.5 214.9,788.9 222.2,782.9 229.4,776.7 236.7,770.0 244.0,763.4 251.3,757.1 258.5,751.9 265.8,746.7 273.1,741.5 280.4,737.4 287.6,735.2 294.9,733.6 302.2,733.6 309.5,733.7 316.7,733.9 324.0,734.3 331.3,735.3 338.6,736.0 345.8,737.5 353.1,739.4 360.4,742.5 367.7,746.2 374.9,749.4 382.2,751.5 389.5,754.3 396.8,758.4 404.0,765.8 411.3,773.8 418.6,780.0 425.9,785.4 433.1,791.0 440.4,796.8 447.7,801.5 455.0,805.3 462.2,807.3 469.5,808.5 476.8,808.8 484.1,808.6 491.3,808.1 498.6,807.4 505.9,806.7 513.2,806.4 520.4,805.5 527.7,804.4 535.0,803.3 542.2,802.5 549.5,801.6 556.8,800.4 564.1,799.1 571.3,798.0 578.6,797.8 585.9,798.4 593.2,801.1 600.4,803.4 607.7,804.8 615.0,805.8 622.3,805.9 629.5,805.1 636.8,803.6 644.1,801.8 651.4,799.8 658.6,797.3 665.9,793.7 673.2,790.1 680.5,786.3 687.7,783.8 695.0,780.9 702.3,777.8 709.6,775.2 716.8,773.0 724.1,771.8 731.4,772.3 738.7,775.9 745.9,779.6 753.2,782.3 760.5,784.2 767.8,784.4 775.0,783.3 782.3,782.2 789.6,781.2 796.9,780.1 804.1,779.6 811.4,780.0 818.7,780.1 826.0,780.6 833.2,780.8 840.5,780.7 847.8,780.7 855.1,780.8 862.3,780.7 869.6,780.3 876.9,779.6 884.2,778.7 891.4,778.6 898.7,780.6 906.0,783.6 913.3,786.4 920.5,787.9 927.8,788.4 935.1,788.2 942.4,788.4 949.6,787.8 956.9,786.3 964.2,784.7 971.5,783.1 978.7,781.5 986.0,780.0 993.3,779.3 1000.5,779.4 1007.8,780.7 1015.1,783.8 1022.4,787.6 1029.6,792.6 1036.9,797.1 1044.2,801.4 1051.5,806.5 1058.7,813.9 1066.0,822.6" fill="none" stroke="#ee2a2a" stroke-width="1.3"/>
<polyline points="39.5,810.0 40.3,810.4 47.6,820.5 54.9,835.7 62.1,837.5 69.4,841.8 76.7,837.7 83.9,831.3 91.2,820.8 98.5,812.2 105.8,802.3 113.0,795.8 120.3,789.6 127.6,793.4 134.9,797.2 142.1,796.9 149.4,801.2 156.7,808.0 164.0,810.9 171.2,804.5 178.5,800.4 185.8,799.3 193.1,797.0 200.3,789.2 207.6,775.7 214.9,766.3 222.2,759.0 229.4,751.9 236.7,742.9 244.0,737.1 251.3,731.8 258.5,731.2 265.8,725.7 273.1,720.6 280.4,721.0 287.6,726.6 294.9,726.9 302.2,733.7 309.5,734.1 316.7,734.5 324.0,736.2 331.3,739.1 338.6,738.7 345.8,743.7 353.1,747.1 360.4,754.6 367.7,761.1 374.9,762.4 382.2,760.0 389.5,765.1 396.8,774.9 404.0,795.6 411.3,805.5 418.6,805.2 425.9,806.8 433.1,813.3 440.4,820.3 447.7,820.1 455.0,820.6 462.2,815.5 469.5,813.0 476.8,810.3 484.1,807.8 491.3,805.8 498.6,804.8 505.9,803.7 513.2,805.2 520.4,801.8 527.7,800.0 535.0,798.9 542.2,799.5 549.5,797.8 556.8,795.8 564.1,793.6 571.3,793.6 578.6,797.3 585.9,800.9 593.2,811.7 600.4,812.6 607.7,810.5 615.0,809.9 622.3,806.3 629.5,802.0 636.8,797.6 644.1,794.5 651.4,791.8 658.6,787.1 665.9,779.6 673.2,775.6 680.5,771.2 687.7,773.6 695.0,769.6 702.3,765.1 709.6,764.6 716.8,764.4 724.1,767.0 731.4,774.3 738.7,790.3 745.9,794.4 753.2,793.3 760.5,791.8 767.8,785.0 775.0,778.9 782.3,777.6 789.6,777.5 796.9,775.5 804.1,777.9 811.4,781.7 818.7,780.3 826.0,782.7 833.2,781.6 840.5,780.4 847.8,780.7 855.1,780.9 862.3,780.3 869.6,778.7 876.9,777.1 884.2,775.0 891.4,778.4 898.7,788.3 906.0,795.9 913.3,797.4 920.5,793.9 927.8,790.7 935.1,787.4 942.4,789.0 949.6,785.4 956.9,780.5 964.2,778.2 971.5,776.9 978.7,774.8 986.0,774.1 993.3,776.4 1000.5,779.8 1007.8,785.9 1015.1,796.1 1022.4,803.1 1029.6,812.6 1036.9,815.2 1044.2,818.4 1051.5,826.7 1058.7,843.7 1066.0,857.5" fill="none" stroke="#1a1a1a" stroke-width="2"/></g>
<g><rect x="39.5" y="34.5" width="1108.0" height="489.0" fill="none" stroke="#a0a0a0" stroke-width="1"/>
<rect x="39.5" y="540.5" width="1108.0" height="171.0" fill="none" stroke="#a0a0a0" stroke-width="1"/>
<rect x="39.5" y="711.5" width="1108.0" height="171.0" fill="none" stroke="#a0a0a0" stroke-width="1"/>
<line x1="1147.5" y1="499.3" x2="1151.5" y2="499.3" stroke="#a0a0a0"/>
<line x1="1147.5" y1="493.0" x2="1150.0" y2="493.0" stroke="#a0a0a0"/>
<line x1="1147.5" y1="486.7" x2="1150.0" y2="486.7" stroke="#a0a0a0"/>
<line x1="1147.5" y1="480.4" x2="1150.0" y2="480.4" stroke="#a0a0a0"/>
<line x1="1147.5" y1="474.2" x2="1150.0" y2="474.2" stroke="#a0a0a0"/>
<line x1="1147.5" y1="467.9" x2="1151.5" y2="467.9" stroke="#a0a0a0"/>
<line x1="1147.5" y1="461.7" x2="1150.0" y2="461.7" stroke="#a0a0a0"/>
<line x1="1147.5" y1="455.5" x2="1150.0" y2="455.5" stroke="#a0a0a0"/>
<line x1="1147.5" y1="449.3" x2="1150.0" y2="449.3" stroke="#a0a0a0"/>
<line x1="1147.5" y1="443.1" x2="1150.0" y2="443.1" stroke="#a0a0a0"/>
<line x1="1147.5" y1="437.0" x2="1151.5" y2="437.0" stroke="#a0a0a0"/>
<line x1="1147.5" y1="430.8" x2="1150.0" y2="430.8" stroke="#a0a0a0"/>
<line x1="1147.5" y1="424.7" x2="1150.0" y2="424.7" stroke="#a0a0a0"/>
<line x1="1147.5" y1="418.6" x2="1150.0" y2="418.6" stroke="#a0a0a0"/>
<line x1="1147.5" y1="412.5" x2="1150.0" y2="412.5" stroke="#a0a0a0"/>
<line x1="1147.5" y1="406.4" x2="1151.5" y2="406.4" stroke="#a0a0a0"/>
<line x1="1147.5" y1="400.4" x2="1150.0" y2="400.4" stroke="#a0a0a0"/>
<line x1="1147.5" y1="394.3" x2="1150.0" y2="394.3" stroke="#a0a0a0"/>
<line x1="1147.5" y1="388.3" x2="1150.0" y2="388.3" stroke="#a0a0a0"/>
<line x1="1147.5" y1="382.3" x2="1150.0" y2="382.3" stroke="#a0a0a0"/>
<line x1="1147.5" y1="376.3" x2="1151.5" y2="376.3" stroke="#a0a0a0"/>
<line x1="1147.5" y1="370.3" x2="1150.0" y2="370.3" stroke="#a0a0a0"/>
<line x1="1147.5" y1="364.3" x2="1150.0" y2="364.3" stroke="#a0a0a0"/>
<line x1="1147.5" y1="358.4" x2="1150.0" y2="358.4" stroke="#a0a0a0"/>
<line x1="1147.5" y1="352.4" x2="1150.0" y2="352.4" stroke="#a0a0a0"/>
<line x1="1147.5" y1="346.5" x2="1151.5" y2="346.5" stroke="#a0a0a0"/>
<line x1="1147.5" y1="340.6" x2="1150.0" y2="340.6" stroke="#a0a0a0"/>
<line x1="1147.5" y1="334.7" x2="1150.0" y2="334.7" stroke="#a0a0a0"/>
<line x1="1147.5" y1="328.8" x2="1150.0" y2="328.8" stroke="#a0a0a0"/>
<line x1="1147.5" y1="322.9" x2="1150.0" y2="322.9" stroke="#a0a0a0"/>
<line x1="1147.5" y1="317.1" x2="1151.5" y2="317.1" stroke="#a0a0a0"/>
<line x1="1147.5" y1="311.2" x2="1150.0" y2="311.2" stroke="#a0a0a0"/>
<line x1="1147.5" y1="305.4" x2="1150.0" y2="305.4" stroke="#a0a0a0"/>
<line x1="1147.5" y1="299.6" x2="1150.0" y2="299.6" stroke="#a0a0a0"/>
<line x1="1147.5" y1="293.8" x2="1150.0" y2="293.8" stroke="#a0a0a0"/>
<line x1="1147.5" y1="288.0" x2="1151.5" y2="288.0" stroke="#a0a0a0"/>
<line x1="1147.5" y1="282.3" x2="1150.0" y2="282.3" stroke="#a0a0a0"/>
<line x1="1147.5" y1="276.5" x2="1150.0" y2="276.5" stroke="#a0a0a0"/>
<line x1="1147.5" y1="270.8" x2="1150.0" y2="270.8" stroke="#a0a0a0"/>
<line x1="1147.5" y1="265.0" x2="1150.0" y2="265.0" stroke="#a0a0a0"/>
<line x1="1147.5" y1="259.3" x2="1151.5" y2="259.3" stroke="#a0a0a0"/>
<line x1="1147.5" y1="253.6" x2="1150.0" y2="253.6" stroke="#a0a0a0"/>
<line x1="1147.5" y1="247.9" x2="1150.0" y2="247.9" stroke="#a0a0a0"/>
<line x1="1147.5" y1="242.3" x2="1150.0" y2="242.3" stroke="#a0a0a0"/>
<line x1="1147.5" y1="236.6" x2="1150.0" y2="236.6" stroke="#a0a0a0"/>
<line x1="1147.5" y1="231.0" x2="1151.5" y2="231.0" stroke="#a0a0a0"/>
<line x1="1147.5" y1="225.3" x2="1150.0" y2="225.3" stroke="#a0a0a0"/>
<line x1="1147.5" y1="219.7" x2="1150.0" y2="219.7" stroke="#a0a0a0"/>
<line x1="1147.5" y1="214.1" x2="1150.0" y2="214.1" stroke="#a0a0a0"/>
<line x1="1147.5" y1="208.5" x2="1150.0" y2="208.5" stroke="#a0a0a0"/>
<line x1="1147.5" y1="202.9" x2="1151.5" y2="202.9" stroke="#a0a0a0"/>
<line x1="1147.5" y1="197.4" x2="1150.0" y2="197.4" stroke="#a0a0a0"/>
<line x1="1147.5" y1="191.8" x2="1150.0" y2="191.8" stroke="#a0a0a0"/>
<line x1="1147.5" y1="186.3" x2="1150.0" y2="186.3" stroke="#a0a0a0"/>
<line x1="1147.5" y1="180.8" x2="1150.0" y2="180.8" stroke="#a0a0a0"/>
<line x1="1147.5" y1="175.2" x2="1151.5" y2="175.2" stroke="#a0a0a0"/>
<line x1="1147.5" y1="169.7" x2="1150.0" y2="169.7" stroke="#a0a0a0"/>
<line x1="1147.5" y1="164.3" x2="1150.0" y2="164.3" stroke="#a0a0a0"/>
<line x1="1147.5" y1="158.8" x2="1150.0" y2="158.8" stroke="#a0a0a0"/>
<line x1="1147.5" y1="153.3" x2="1150.0" y2="153.3" stroke="#a0a0a0"/>
<line x1="1147.5" y1="147.9" x2="1151.5" y2="147.9" stroke="#a0a0a0"/>
<line x1="1147.5" y1="142.4" x2="1150.0" y2="142.4" stroke="#a0a0a0"/>
<line x1="1147.5" y1="137.0" x2="1150.0" y2="137.0" stroke="#a0a0a0"/>
<line x1="1147.5" y1="131.6" x2="1150.0" y2="131.6" stroke="#a0a0a0"/>
<line x1="1147.5" y1="126.2" x2="1150.0" y2="126.2" stroke="#a0a0a0"/>
<line x1="1147.5" y1="120.8" x2="1151.5" y2="120.8" stroke="#a0a0a0"/>
<line x1="1147.5" y1="115.4" x2="1150.0" y2="115.4" stroke="#a0a0a0"/>
<line x1="1147.5" y1="110.1" x2="1150.0" y2="110.1" stroke="#a0a0a0"/>
<line x1="1147.5" y1="104.7" x2="1150.0" y2="104.7" stroke="#a0a0a0"/>
<line x1="1147.5" y1="99.4" x2="1150.0" y2="99.4" stroke="#a0a0a0"/>
<line x1="1147.5" y1="94.1" x2="1151.5" y2="94.1" stroke="#a0a0a0"/>
<line x1="1147.5" y1="88.7" x2="1150.0" y2="88.7" stroke="#a0a0a0"/>
<line x1="1147.5" y1="83.4" x2="1150.0" y2="83.4" stroke="#a0a0a0"/>
<line x1="1147.5" y1="78.1" x2="1150.0" y2="78.1" stroke="#a0a0a0"/>
<line x1="1147.5" y1="72.9" x2="1150.0" y2="72.9" stroke="#a0a0a0"/>
<line x1="1147.5" y1="67.6" x2="1151.5" y2="67.6" stroke="#a0a0a0"/>
<line x1="1147.5" y1="62.3" x2="1150.0" y2="62.3" stroke="#a0a0a0"/>
<line x1="1147.5" y1="57.1" x2="1150.0" y2="57.1" stroke="#a0a0a0"/>
<line x1="1147.5" y1="51.9" x2="1150.0" y2="51.9" stroke="#a0a0a0"/>
<line x1="1147.5" y1="46.6" x2="1150.0" y2="46.6" stroke="#a0a0a0"/>
<line x1="1147.5" y1="41.4" x2="1151.5" y2="41.4" stroke="#a0a0a0"/>
<text x="1152.2" y="503.1" font-size="12.5" textLength="26.7" lengthAdjust="spacingAndGlyphs" fill="#111">3750</text>
<text x="1152.2" y="471.7" font-size="12.5" textLength="26.7" lengthAdjust="spacingAndGlyphs" fill="#111">3800</text>
<text x="1152.2" y="440.8" font-size="12.5" textLength="26.7" lengthAdjust="spacingAndGlyphs" fill="#111">3850</text>
<text x="1152.2" y="410.2" font-size="12.5" textLength="26.7" lengthAdjust="spacingAndGlyphs" fill="#111">3900</text>
<text x="1152.2" y="380.1" font-size="12.5" textLength="26.7" lengthAdjust="spacingAndGlyphs" fill="#111">3950</text>
<text x="1152.2" y="350.3" font-size="12.5" textLength="26.7" lengthAdjust="spacingAndGlyphs" fill="#111">4000</text>
<text x="1152.2" y="320.9" font-size="12.5" textLength="26.7" lengthAdjust="spacingAndGlyphs" fill="#111">4050</text>
<text x="1152.2" y="291.8" font-size="12.5" textLength="26.7" lengthAdjust="spacingAndGlyphs" fill="#111">4100</text>
<text x="1152.2" y="263.1" font-size="12.5" textLength="26.7" lengthAdjust="spacingAndGlyphs" fill="#111">4150</text>
<text x="1152.2" y="234.8" font-size="12.5" textLength="26.7" lengthAdjust="spacingAndGlyphs" fill="#111">4200</text>
<text x="1152.2" y="206.7" font-size="12.5" textLength="26.7" lengthAdjust="spacingAndGlyphs" fill="#111">4250</text>
<text x="1152.2" y="179.0" font-size="12.5" textLength="26.7" lengthAdjust="spacingAndGlyphs" fill="#111">4300</text>
<text x="1152.2" y="151.7" font-size="12.5" textLength="26.7" lengthAdjust="spacingAndGlyphs" fill="#111">4350</text>
<text x="1152.2" y="124.6" font-size="12.5" textLength="26.7" lengthAdjust="spacingAndGlyphs" fill="#111">4400</text>
<text x="1152.2" y="97.9" font-size="12.5" textLength="26.7" lengthAdjust="spacingAndGlyphs" fill="#111">4450</text>
<text x="1152.2" y="71.4" font-size="12.5" textLength="26.7" lengthAdjust="spacingAndGlyphs" fill="#111">4500</text>
<text x="1152.2" y="45.2" font-size="12.5" textLength="26.7" lengthAdjust="spacingAndGlyphs" fill="#111">4550</text>
<line x1="35.5" y1="493.5" x2="39.5" y2="493.5" stroke="#a0a0a0"/>
<text x="34.5" y="497.8" font-size="12" text-anchor="end" fill="#111">1B</text>
<line x1="35.5" y1="464.0" x2="39.5" y2="464.0" stroke="#a0a0a0"/>
<text x="34.5" y="468.3" font-size="12" text-anchor="end" fill="#111">2B</text>
<line x1="35.5" y1="434.5" x2="39.5" y2="434.5" stroke="#a0a0a0"/>
<text x="34.5" y="438.8" font-size="12" text-anchor="end" fill="#111">3B</text>
<line x1="35.5" y1="405.0" x2="39.5" y2="405.0" stroke="#a0a0a0"/>
<text x="34.5" y="409.3" font-size="12" text-anchor="end" fill="#111">4B</text>
<line x1="35.5" y1="375.5" x2="39.5" y2="375.5" stroke="#a0a0a0"/>
<text x="34.5" y="379.8" font-size="12" text-anchor="end" fill="#111">5B</text>
<line x1="1147.5" y1="704.0" x2="1151.5" y2="704.0" stroke="#a0a0a0"/>
<line x1="1147.5" y1="696.2" x2="1150.0" y2="696.2" stroke="#a0a0a0"/>
<line x1="1147.5" y1="688.5" x2="1151.5" y2="688.5" stroke="#a0a0a0"/>
<line x1="1147.5" y1="680.8" x2="1150.0" y2="680.8" stroke="#a0a0a0"/>
<line x1="1147.5" y1="673.0" x2="1151.5" y2="673.0" stroke="#a0a0a0"/>
<line x1="1147.5" y1="665.2" x2="1150.0" y2="665.2" stroke="#a0a0a0"/>
<line x1="1147.5" y1="657.5" x2="1151.5" y2="657.5" stroke="#a0a0a0"/>
<line x1="1147.5" y1="649.8" x2="1150.0" y2="649.8" stroke="#a0a0a0"/>
<line x1="1147.5" y1="642.0" x2="1151.5" y2="642.0" stroke="#a0a0a0"/>
<line x1="1147.5" y1="634.2" x2="1150.0" y2="634.2" stroke="#a0a0a0"/>
<line x1="1147.5" y1="626.5" x2="1151.5" y2="626.5" stroke="#a0a0a0"/>
<line x1="1147.5" y1="618.8" x2="1150.0" y2="618.8" stroke="#a0a0a0"/>
<line x1="1147.5" y1="611.0" x2="1151.5" y2="611.0" stroke="#a0a0a0"/>
<line x1="1147.5" y1="603.2" x2="1150.0" y2="603.2" stroke="#a0a0a0"/>
<line x1="1147.5" y1="595.5" x2="1151.5" y2="595.5" stroke="#a0a0a0"/>
<line x1="1147.5" y1="587.8" x2="1150.0" y2="587.8" stroke="#a0a0a0"/>
<line x1="1147.5" y1="580.0" x2="1151.5" y2="580.0" stroke="#a0a0a0"/>
<line x1="1147.5" y1="572.2" x2="1150.0" y2="572.2" stroke="#a0a0a0"/>
<line x1="1147.5" y1="564.5" x2="1151.5" y2="564.5" stroke="#a0a0a0"/>
<line x1="1147.5" y1="556.8" x2="1150.0" y2="556.8" stroke="#a0a0a0"/>
<line x1="1147.5" y1="549.0" x2="1151.5" y2="549.0" stroke="#a0a0a0"/>
<text x="1151.8" y="693.0" font-size="12.5" textLength="13.4" lengthAdjust="spacingAndGlyphs" fill="#111">10</text>
<text x="1151.8" y="662.0" font-size="12.5" textLength="13.4" lengthAdjust="spacingAndGlyphs" fill="#111">30</text>
<text x="1151.8" y="631.0" font-size="12.5" textLength="13.4" lengthAdjust="spacingAndGlyphs" fill="#111">50</text>
<text x="1151.8" y="600.0" font-size="12.5" textLength="13.4" lengthAdjust="spacingAndGlyphs" fill="#111">70</text>
<text x="1151.8" y="569.0" font-size="12.5" textLength="13.4" lengthAdjust="spacingAndGlyphs" fill="#111">90</text>
<line x1="1147.5" y1="873.3" x2="1151.5" y2="873.3" stroke="#a0a0a0"/>
<line x1="1147.5" y1="864.7" x2="1150.0" y2="864.7" stroke="#a0a0a0"/>
<line x1="1147.5" y1="856.1" x2="1151.5" y2="856.1" stroke="#a0a0a0"/>
<line x1="1147.5" y1="847.5" x2="1150.0" y2="847.5" stroke="#a0a0a0"/>
<line x1="1147.5" y1="838.9" x2="1151.5" y2="838.9" stroke="#a0a0a0"/>
<line x1="1147.5" y1="830.3" x2="1150.0" y2="830.3" stroke="#a0a0a0"/>
<line x1="1147.5" y1="821.7" x2="1151.5" y2="821.7" stroke="#a0a0a0"/>
<line x1="1147.5" y1="813.1" x2="1150.0" y2="813.1" stroke="#a0a0a0"/>
<line x1="1147.5" y1="804.5" x2="1151.5" y2="804.5" stroke="#a0a0a0"/>
<line x1="1147.5" y1="795.9" x2="1150.0" y2="795.9" stroke="#a0a0a0"/>
<line x1="1147.5" y1="787.3" x2="1151.5" y2="787.3" stroke="#a0a0a0"/>
<line x1="1147.5" y1="778.7" x2="1150.0" y2="778.7" stroke="#a0a0a0"/>
<line x1="1147.5" y1="770.1" x2="1151.5" y2="770.1" stroke="#a0a0a0"/>
<line x1="1147.5" y1="761.5" x2="1150.0" y2="761.5" stroke="#a0a0a0"/>
<line x1="1147.5" y1="752.9" x2="1151.5" y2="752.9" stroke="#a0a0a0"/>
<line x1="1147.5" y1="744.3" x2="1150.0" y2="744.3" stroke="#a0a0a0"/>
<line x1="1147.5" y1="735.7" x2="1151.5" y2="735.7" stroke="#a0a0a0"/>
<line x1="1147.5" y1="727.1" x2="1150.0" y2="727.1" stroke="#a0a0a0"/>
<line x1="1147.5" y1="718.5" x2="1151.5" y2="718.5" stroke="#a0a0a0"/>
<text x="1168.5" y="843.4" font-size="12.5" text-anchor="end" fill="#111">0</text>
<text x="1168.5" y="809.0" font-size="12.5" text-anchor="end" fill="#111">20</text>
<text x="1168.5" y="791.8" font-size="12.5" text-anchor="end" fill="#111">30</text>
<text x="1168.5" y="774.6" font-size="12.5" text-anchor="end" fill="#111">40</text>
<text x="1168.5" y="757.4" font-size="12.5" text-anchor="end" fill="#111">50</text>
<text x="1168.5" y="740.2" font-size="12.5" text-anchor="end" fill="#111">60</text>
<text x="1168.5" y="723.0" font-size="12.5" text-anchor="end" fill="#111">70</text>
<line x1="40.3" y1="523.5" x2="40.3" y2="526.0" stroke="#a0a0a0"/>
<line x1="47.6" y1="523.5" x2="47.6" y2="526.0" stroke="#a0a0a0"/>
<line x1="54.9" y1="523.5" x2="54.9" y2="526.0" stroke="#a0a0a0"/>
<line x1="62.1" y1="523.5" x2="62.1" y2="526.0" stroke="#a0a0a0"/>
<line x1="69.4" y1="523.5" x2="69.4" y2="526.0" stroke="#a0a0a0"/>
<line x1="76.7" y1="523.5" x2="76.7" y2="526.0" stroke="#a0a0a0"/>
<line x1="83.9" y1="523.5" x2="83.9" y2="526.0" stroke="#a0a0a0"/>
<line x1="91.2" y1="523.5" x2="91.2" y2="526.0" stroke="#a0a0a0"/>
<line x1="98.5" y1="523.5" x2="98.5" y2="526.0" stroke="#a0a0a0"/>
<line x1="105.8" y1="523.5" x2="105.8" y2="526.0" stroke="#a0a0a0"/>
<line x1="113.0" y1="523.5" x2="113.0" y2="526.0" stroke="#a0a0a0"/>
<line x1="120.3" y1="523.5" x2="120.3" y2="526.0" stroke="#a0a0a0"/>
<line x1="127.6" y1="523.5" x2="127.6" y2="526.0" stroke="#a0a0a0"/>
<line x1="134.9" y1="523.5" x2="134.9" y2="526.0" stroke="#a0a0a0"/>
<line x1="142.1" y1="523.5" x2="142.1" y2="526.0" stroke="#a0a0a0"/>
<line x1="149.4" y1="523.5" x2="149.4" y2="526.0" stroke="#a0a0a0"/>
<line x1="156.7" y1="523.5" x2="156.7" y2="526.0" stroke="#a0a0a0"/>
<line x1="164.0" y1="523.5" x2="164.0" y2="526.0" stroke="#a0a0a0"/>
<line x1="171.2" y1="523.5" x2="171.2" y2="526.0" stroke="#a0a0a0"/>
<line x1="178.5" y1="523.5" x2="178.5" y2="526.0" stroke="#a0a0a0"/>
<line x1="185.8" y1="523.5" x2="185.8" y2="526.0" stroke="#a0a0a0"/>
<line x1="193.1" y1="523.5" x2="193.1" y2="526.0" stroke="#a0a0a0"/>
<line x1="200.3" y1="523.5" x2="200.3" y2="526.0" stroke="#a0a0a0"/>
<line x1="207.6" y1="523.5" x2="207.6" y2="526.0" stroke="#a0a0a0"/>
<line x1="214.9" y1="523.5" x2="214.9" y2="526.0" stroke="#a0a0a0"/>
<line x1="222.2" y1="523.5" x2="222.2" y2="526.0" stroke="#a0a0a0"/>
<line x1="229.4" y1="523.5" x2="229.4" y2="526.0" stroke="#a0a0a0"/>
<line x1="236.7" y1="523.5" x2="236.7" y2="526.0" stroke="#a0a0a0"/>
<line x1="244.0" y1="523.5" x2="244.0" y2="526.0" stroke="#a0a0a0"/>
<line x1="251.3" y1="523.5" x2="251.3" y2="526.0" stroke="#a0a0a0"/>
<line x1="258.5" y1="523.5" x2="258.5" y2="526.0" stroke="#a0a0a0"/>
<line x1="265.8" y1="523.5" x2="265.8" y2="526.0" stroke="#a0a0a0"/>
<line x1="273.1" y1="523.5" x2="273.1" y2="526.0" stroke="#a0a0a0"/>
<line x1="280.4" y1="523.5" x2="280.4" y2="526.0" stroke="#a0a0a0"/>
<line x1="287.6" y1="523.5" x2="287.6" y2="526.0" stroke="#a0a0a0"/>
<line x1="294.9" y1="523.5" x2="294.9" y2="526.0" stroke="#a0a0a0"/>
<line x1="302.2" y1="523.5" x2="302.2" y2="526.0" stroke="#a0a0a0"/>
<line x1="309.5" y1="523.5" x2="309.5" y2="526.0" stroke="#a0a0a0"/>
<line x1="316.7" y1="523.5" x2="316.7" y2="526.0" stroke="#a0a0a0"/>
<line x1="324.0" y1="523.5" x2="324.0" y2="526.0" stroke="#a0a0a0"/>
<line x1="331.3" y1="523.5" x2="331.3" y2="526.0" stroke="#a0a0a0"/>
<line x1="338.6" y1="523.5" x2="338.6" y2="526.0" stroke="#a0a0a0"/>
<line x1="345.8" y1="523.5" x2="345.8" y2="526.0" stroke="#a0a0a0"/>
<line x1="353.1" y1="523.5" x2="353.1" y2="526.0" stroke="#a0a0a0"/>
<line x1="360.4" y1="523.5" x2="360.4" y2="526.0" stroke="#a0a0a0"/>
<line x1="367.7" y1="523.5" x2="367.7" y2="526.0" stroke="#a0a0a0"/>
<line x1="374.9" y1="523.5" x2="374.9" y2="526.0" stroke="#a0a0a0"/>
<line x1="382.2" y1="523.5" x2="382.2" y2="526.0" stroke="#a0a0a0"/>
<line x1="389.5" y1="523.5" x2="389.5" y2="526.0" stroke="#a0a0a0"/>
<line x1="396.8" y1="523.5" x2="396.8" y2="526.0" stroke="#a0a0a0"/>
<line x1="404.0" y1="523.5" x2="404.0" y2="526.0" stroke="#a0a0a0"/>
<line x1="411.3" y1="523.5" x2="411.3" y2="526.0" stroke="#a0a0a0"/>
<line x1="418.6" y1="523.5" x2="418.6" y2="526.0" stroke="#a0a0a0"/>
<line x1="425.9" y1="523.5" x2="425.9" y2="526.0" stroke="#a0a0a0"/>
<line x1="433.1" y1="523.5" x2="433.1" y2="526.0" stroke="#a0a0a0"/>
<line x1="440.4" y1="523.5" x2="440.4" y2="526.0" stroke="#a0a0a0"/>
<line x1="447.7" y1="523.5" x2="447.7" y2="526.0" stroke="#a0a0a0"/>
<line x1="455.0" y1="523.5" x2="455.0" y2="526.0" stroke="#a0a0a0"/>
<line x1="462.2" y1="523.5" x2="462.2" y2="526.0" stroke="#a0a0a0"/>
<line x1="469.5" y1="523.5" x2="469.5" y2="526.0" stroke="#a0a0a0"/>
<line x1="476.8" y1="523.5" x2="476.8" y2="526.0" stroke="#a0a0a0"/>
<line x1="484.1" y1="523.5" x2="484.1" y2="526.0" stroke="#a0a0a0"/>
<line x1="491.3" y1="523.5" x2="491.3" y2="526.0" stroke="#a0a0a0"/>
<line x1="498.6" y1="523.5" x2="498.6" y2="526.0" stroke="#a0a0a0"/>
<line x1="505.9" y1="523.5" x2="505.9" y2="526.0" stroke="#a0a0a0"/>
<line x1="513.2" y1="523.5" x2="513.2" y2="526.0" stroke="#a0a0a0"/>
<line x1="520.4" y1="523.5" x2="520.4" y2="526.0" stroke="#a0a0a0"/>
<line x1="527.7" y1="523.5" x2="527.7" y2="526.0" stroke="#a0a0a0"/>
<line x1="535.0" y1="523.5" x2="535.0" y2="526.0" stroke="#a0a0a0"/>
<line x1="542.2" y1="523.5" x2="542.2" y2="526.0" stroke="#a0a0a0"/>
<line x1="549.5" y1="523.5" x2="549.5" y2="526.0" stroke="#a0a0a0"/>
<line x1="556.8" y1="523.5" x2="556.8" y2="526.0" stroke="#a0a0a0"/>
<line x1="564.1" y1="523.5" x2="564.1" y2="526.0" stroke="#a0a0a0"/>
<line x1="571.3" y1="523.5" x2="571.3" y2="526.0" stroke="#a0a0a0"/>
<line x1="578.6" y1="523.5" x2="578.6" y2="526.0" stroke="#a0a0a0"/>
<line x1="585.9" y1="523.5" x2="585.9" y2="526.0" stroke="#a0a0a0"/>
<line x1="593.2" y1="523.5" x2="593.2" y2="526.0" stroke="#a0a0a0"/>
<line x1="600.4" y1="523.5" x2="600.4" y2="526.0" stroke="#a0a0a0"/>
<line x1="607.7" y1="523.5" x2="607.7" y2="526.0" stroke="#a0a0a0"/>
<line x1="615.0" y1="523.5" x2="615.0" y2="526.0" stroke="#a0a0a0"/>
<line x1="622.3" y1="523.5" x2="622.3" y2="526.0" stroke="#a0a0a0"/>
<line x1="629.5" y1="523.5" x2="629.5" y2="526.0" stroke="#a0a0a0"/>
<line x1="636.8" y1="523.5" x2="636.8" y2="526.0" stroke="#a0a0a0"/>
<line x1="644.1" y1="523.5" x2="644.1" y2="526.0" stroke="#a0a0a0"/>
<line x1="651.4" y1="523.5" x2="651.4" y2="526.0" stroke="#a0a0a0"/>
<line x1="658.6" y1="523.5" x2="658.6" y2="526.0" stroke="#a0a0a0"/>
<line x1="665.9" y1="523.5" x2="665.9" y2="526.0" stroke="#a0a0a0"/>
<line x1="673.2" y1="523.5" x2="673.2" y2="526.0" stroke="#a0a0a0"/>
<line x1="680.5" y1="523.5" x2="680.5" y2="526.0" stroke="#a0a0a0"/>
<line x1="687.7" y1="523.5" x2="687.7" y2="526.0" stroke="#a0a0a0"/>
<line x1="695.0" y1="523.5" x2="695.0" y2="526.0" stroke="#a0a0a0"/>
<line x1="702.3" y1="523.5" x2="702.3" y2="526.0" stroke="#a0a0a0"/>
<line x1="709.6" y1="523.5" x2="709.6" y2="526.0" stroke="#a0a0a0"/>
<line x1="716.8" y1="523.5" x2="716.8" y2="526.0" stroke="#a0a0a0"/>
<line x1="724.1" y1="523.5" x2="724.1" y2="526.0" stroke="#a0a0a0"/>
<line x1="731.4" y1="523.5" x2="731.4" y2="526.0" stroke="#a0a0a0"/>
<line x1="738.7" y1="523.5" x2="738.7" y2="526.0" stroke="#a0a0a0"/>
<line x1="745.9" y1="523.5" x2="745.9" y2="526.0" stroke="#a0a0a0"/>
<line x1="753.2" y1="523.5" x2="753.2" y2="526.0" stroke="#a0a0a0"/>
<line x1="760.5" y1="523.5" x2="760.5" y2="526.0" stroke="#a0a0a0"/>
<line x1="767.8" y1="523.5" x2="767.8" y2="526.0" stroke="#a0a0a0"/>
<line x1="775.0" y1="523.5" x2="775.0" y2="526.0" stroke="#a0a0a0"/>
<line x1="782.3" y1="523.5" x2="782.3" y2="526.0" stroke="#a0a0a0"/>
<line x1="789.6" y1="523.5" x2="789.6" y2="526.0" stroke="#a0a0a0"/>
<line x1="796.9" y1="523.5" x2="796.9" y2="526.0" stroke="#a0a0a0"/>
<line x1="804.1" y1="523.5" x2="804.1" y2="526.0" stroke="#a0a0a0"/>
<line x1="811.4" y1="523.5" x2="811.4" y2="526.0" stroke="#a0a0a0"/>
<line x1="818.7" y1="523.5" x2="818.7" y2="526.0" stroke="#a0a0a0"/>
<line x1="826.0" y1="523.5" x2="826.0" y2="526.0" stroke="#a0a0a0"/>
<line x1="833.2" y1="523.5" x2="833.2" y2="526.0" stroke="#a0a0a0"/>
<line x1="840.5" y1="523.5" x2="840.5" y2="526.0" stroke="#a0a0a0"/>
<line x1="847.8" y1="523.5" x2="847.8" y2="526.0" stroke="#a0a0a0"/>
<line x1="855.1" y1="523.5" x2="855.1" y2="526.0" stroke="#a0a0a0"/>
<line x1="862.3" y1="523.5" x2="862.3" y2="526.0" stroke="#a0a0a0"/>
<line x1="869.6" y1="523.5" x2="869.6" y2="526.0" stroke="#a0a0a0"/>
<line x1="876.9" y1="523.5" x2="876.9" y2="526.0" stroke="#a0a0a0"/>
<line x1="884.2" y1="523.5" x2="884.2" y2="526.0" stroke="#a0a0a0"/>
<line x1="891.4" y1="523.5" x2="891.4" y2="526.0" stroke="#a0a0a0"/>
<line x1="898.7" y1="523.5" x2="898.7" y2="526.0" stroke="#a0a0a0"/>
<line x1="906.0" y1="523.5" x2="906.0" y2="526.0" stroke="#a0a0a0"/>
<line x1="913.3" y1="523.5" x2="913.3" y2="526.0" stroke="#a0a0a0"/>
<line x1="920.5" y1="523.5" x2="920.5" y2="526.0" stroke="#a0a0a0"/>
<line x1="927.8" y1="523.5" x2="927.8" y2="526.0" stroke="#a0a0a0"/>
<line x1="935.1" y1="523.5" x2="935.1" y2="526.0" stroke="#a0a0a0"/>
<line x1="942.4" y1="523.5" x2="942.4" y2="526.0" stroke="#a0a0a0"/>
<line x1="949.6" y1="523.5" x2="949.6" y2="526.0" stroke="#a0a0a0"/>
<line x1="956.9" y1="523.5" x2="956.9" y2="526.0" stroke="#a0a0a0"/>
<line x1="964.2" y1="523.5" x2="964.2" y2="526.0" stroke="#a0a0a0"/>
<line x1="971.5" y1="523.5" x2="971.5" y2="526.0" stroke="#a0a0a0"/>
<line x1="978.7" y1="523.5" x2="978.7" y2="526.0" stroke="#a0a0a0"/>
<line x1="986.0" y1="523.5" x2="986.0" y2="526.0" stroke="#a0a0a0"/>
<line x1="993.3" y1="523.5" x2="993.3" y2="526.0" stroke="#a0a0a0"/>
<line x1="1000.5" y1="523.5" x2="1000.5" y2="526.0" stroke="#a0a0a0"/>
<line x1="1007.8" y1="523.5" x2="1007.8" y2="526.0" stroke="#a0a0a0"/>
<line x1="1015.1" y1="523.5" x2="1015.1" y2="526.0" stroke="#a0a0a0"/>
<line x1="1022.4" y1="523.5" x2="1022.4" y2="526.0" stroke="#a0a0a0"/>
<line x1="1029.6" y1="523.5" x2="1029.6" y2="526.0" stroke="#a0a0a0"/>
<line x1="1036.9" y1="523.5" x2="1036.9" y2="526.0" stroke="#a0a0a0"/>
<line x1="1044.2" y1="523.5" x2="1044.2" y2="526.0" stroke="#a0a0a0"/>
<line x1="1051.5" y1="523.5" x2="1051.5" y2="526.0" stroke="#a0a0a0"/>
<line x1="1058.7" y1="523.5" x2="1058.7" y2="526.0" stroke="#a0a0a0"/>
<line x1="1066.0" y1="523.5" x2="1066.0" y2="526.0" stroke="#a0a0a0"/>
<line x1="1073.3" y1="523.5" x2="1073.3" y2="526.0" stroke="#a0a0a0"/>
<line x1="1080.6" y1="523.5" x2="1080.6" y2="526.0" stroke="#a0a0a0"/>
<line x1="1087.8" y1="523.5" x2="1087.8" y2="526.0" stroke="#a0a0a0"/>
<line x1="1095.1" y1="523.5" x2="1095.1" y2="526.0" stroke="#a0a0a0"/>
<line x1="1102.4" y1="523.5" x2="1102.4" y2="526.0" stroke="#a0a0a0"/>
<line x1="1109.7" y1="523.5" x2="1109.7" y2="526.0" stroke="#a0a0a0"/>
<line x1="1116.9" y1="523.5" x2="1116.9" y2="526.0" stroke="#a0a0a0"/>
<line x1="1124.2" y1="523.5" x2="1124.2" y2="526.0" stroke="#a0a0a0"/>
<line x1="1131.5" y1="523.5" x2="1131.5" y2="526.0" stroke="#a0a0a0"/>
<line x1="1138.8" y1="523.5" x2="1138.8" y2="526.0" stroke="#a0a0a0"/>
<line x1="1146.0" y1="523.5" x2="1146.0" y2="526.0" stroke="#a0a0a0"/>
<text x="200.3" y="536.5" font-size="13" font-weight="bold" text-anchor="middle" fill="#111">Apr</text>
<text x="353.1" y="536.5" font-size="13" font-weight="bold" text-anchor="middle" fill="#111">May</text>
<text x="498.6" y="536.5" font-size="13" font-weight="bold" text-anchor="middle" fill="#111">Jun</text>
<text x="658.6" y="536.5" font-size="13" font-weight="bold" text-anchor="middle" fill="#111">Jul</text>
<text x="811.4" y="536.5" font-size="13" font-weight="bold" text-anchor="middle" fill="#111">Aug</text>
<text x="971.5" y="536.5" font-size="13" font-weight="bold" text-anchor="middle" fill="#111">Sep</text>
<text x="1124.2" y="536.5" font-size="13" font-weight="bold" text-anchor="middle" fill="#111">Oct</text>
<text x="69.4" y="536.5" font-size="11.5" text-anchor="middle" fill="#222">8</text>
<text x="105.8" y="536.5" font-size="11.5" text-anchor="middle" fill="#222">15</text>
<text x="142.1" y="536.5" font-size="11.5" text-anchor="middle" fill="#222">22</text>
<text x="178.5" y="536.5" font-size="11.5" text-anchor="middle" fill="#222">29</text>
<text x="244.0" y="536.5" font-size="11.5" text-anchor="middle" fill="#222">12</text>
<text x="280.4" y="536.5" font-size="11.5" text-anchor="middle" fill="#222">19</text>
<text x="316.7" y="536.5" font-size="11.5" text-anchor="middle" fill="#222">26</text>
<text x="389.5" y="536.5" font-size="11.5" text-anchor="middle" fill="#222">10</text>
<text x="425.9" y="536.5" font-size="11.5" text-anchor="middle" fill="#222">17</text>
<text x="462.2" y="536.5" font-size="11.5" text-anchor="middle" fill="#222">24</text>
<text x="527.7" y="536.5" font-size="11.5" text-anchor="middle" fill="#222">7</text>
<text x="564.1" y="536.5" font-size="11.5" text-anchor="middle" fill="#222">14</text>
<text x="600.4" y="536.5" font-size="11.5" text-anchor="middle" fill="#222">21</text>
<text x="636.8" y="536.5" font-size="11.5" text-anchor="middle" fill="#222">28</text>
<text x="673.2" y="536.5" font-size="11.5" text-anchor="middle" fill="#222">6</text>
<text x="702.3" y="536.5" font-size="11.5" text-anchor="middle" fill="#222">12</text>
<text x="738.7" y="536.5" font-size="11.5" text-anchor="middle" fill="#222">19</text>
<text x="775.0" y="536.5" font-size="11.5" text-anchor="middle" fill="#222">26</text>
<text x="847.8" y="536.5" font-size="11.5" text-anchor="middle" fill="#222">9</text>
<text x="884.2" y="536.5" font-size="11.5" text-anchor="middle" fill="#222">16</text>
<text x="920.5" y="536.5" font-size="11.5" text-anchor="middle" fill="#222">23</text>
<text x="993.3" y="536.5" font-size="11.5" text-anchor="middle" fill="#222">7</text>
<text x="1022.4" y="536.5" font-size="11.5" text-anchor="middle" fill="#222">13</text>
<text x="1058.7" y="536.5" font-size="11.5" text-anchor="middle" fill="#222">20</text>
<text x="1095.1" y="536.5" font-size="11.5" text-anchor="middle" fill="#222">27</text>
<line x1="40.3" y1="538.0" x2="40.3" y2="540.5" stroke="#a0a0a0"/>
<line x1="47.6" y1="538.0" x2="47.6" y2="540.5" stroke="#a0a0a0"/>
<line x1="54.9" y1="538.0" x2="54.9" y2="540.5" stroke="#a0a0a0"/>
<line x1="62.1" y1="538.0" x2="62.1" y2="540.5" stroke="#a0a0a0"/>
<line x1="69.4" y1="538.0" x2="69.4" y2="540.5" stroke="#a0a0a0"/>
<line x1="76.7" y1="538.0" x2="76.7" y2="540.5" stroke="#a0a0a0"/>
<line x1="83.9" y1="538.0" x2="83.9" y2="540.5" stroke="#a0a0a0"/>
<line x1="91.2" y1="538.0" x2="91.2" y2="540.5" stroke="#a0a0a0"/>
<line x1="98.5" y1="538.0" x2="98.5" y2="540.5" stroke="#a0a0a0"/>
<line x1="105.8" y1="538.0" x2="105.8" y2="540.5" stroke="#a0a0a0"/>
<line x1="113.0" y1="538.0" x2="113.0" y2="540.5" stroke="#a0a0a0"/>
<line x1="120.3" y1="538.0" x2="120.3" y2="540.5" stroke="#a0a0a0"/>
<line x1="127.6" y1="538.0" x2="127.6" y2="540.5" stroke="#a0a0a0"/>
<line x1="134.9" y1="538.0" x2="134.9" y2="540.5" stroke="#a0a0a0"/>
<line x1="142.1" y1="538.0" x2="142.1" y2="540.5" stroke="#a0a0a0"/>
<line x1="149.4" y1="538.0" x2="149.4" y2="540.5" stroke="#a0a0a0"/>
<line x1="156.7" y1="538.0" x2="156.7" y2="540.5" stroke="#a0a0a0"/>
<line x1="164.0" y1="538.0" x2="164.0" y2="540.5" stroke="#a0a0a0"/>
<line x1="171.2" y1="538.0" x2="171.2" y2="540.5" stroke="#a0a0a0"/>
<line x1="178.5" y1="538.0" x2="178.5" y2="540.5" stroke="#a0a0a0"/>
<line x1="185.8" y1="538.0" x2="185.8" y2="540.5" stroke="#a0a0a0"/>
<line x1="193.1" y1="538.0" x2="193.1" y2="540.5" stroke="#a0a0a0"/>
<line x1="200.3" y1="538.0" x2="200.3" y2="540.5" stroke="#a0a0a0"/>
<line x1="207.6" y1="538.0" x2="207.6" y2="540.5" stroke="#a0a0a0"/>
<line x1="214.9" y1="538.0" x2="214.9" y2="540.5" stroke="#a0a0a0"/>
<line x1="222.2" y1="538.0" x2="222.2" y2="540.5" stroke="#a0a0a0"/>
<line x1="229.4" y1="538.0" x2="229.4" y2="540.5" stroke="#a0a0a0"/>
<line x1="236.7" y1="538.0" x2="236.7" y2="540.5" stroke="#a0a0a0"/>
<line x1="244.0" y1="538.0" x2="244.0" y2="540.5" stroke="#a0a0a0"/>
<line x1="251.3" y1="538.0" x2="251.3" y2="540.5" stroke="#a0a0a0"/>
<line x1="258.5" y1="538.0" x2="258.5" y2="540.5" stroke="#a0a0a0"/>
<line x1="265.8" y1="538.0" x2="265.8" y2="540.5" stroke="#a0a0a0"/>
<line x1="273.1" y1="538.0" x2="273.1" y2="540.5" stroke="#a0a0a0"/>
<line x1="280.4" y1="538.0" x2="280.4" y2="540.5" stroke="#a0a0a0"/>
<line x1="287.6" y1="538.0" x2="287.6" y2="540.5" stroke="#a0a0a0"/>
<line x1="294.9" y1="538.0" x2="294.9" y2="540.5" stroke="#a0a0a0"/>
<line x1="302.2" y1="538.0" x2="302.2" y2="540.5" stroke="#a0a0a0"/>
<line x1="309.5" y1="538.0" x2="309.5" y2="540.5" stroke="#a0a0a0"/>
<line x1="316.7" y1="538.0" x2="316.7" y2="540.5" stroke="#a0a0a0"/>
<line x1="324.0" y1="538.0" x2="324.0" y2="540.5" stroke="#a0a0a0"/>
<line x1="331.3" y1="538.0" x2="331.3" y2="540.5" stroke="#a0a0a0"/>
<line x1="338.6" y1="538.0" x2="338.6" y2="540.5" stroke="#a0a0a0"/>
<line x1="345.8" y1="538.0" x2="345.8" y2="540.5" stroke="#a0a0a0"/>
<line x1="353.1" y1="538.0" x2="353.1" y2="540.5" stroke="#a0a0a0"/>
<line x1="360.4" y1="538.0" x2="360.4" y2="540.5" stroke="#a0a0a0"/>
<line x1="367.7" y1="538.0" x2="367.7" y2="540.5" stroke="#a0a0a0"/>
<line x1="374.9" y1="538.0" x2="374.9" y2="540.5" stroke="#a0a0a0"/>
<line x1="382.2" y1="538.0" x2="382.2" y2="540.5" stroke="#a0a0a0"/>
<line x1="389.5" y1="538.0" x2="389.5" y2="540.5" stroke="#a0a0a0"/>
<line x1="396.8" y1="538.0" x2="396.8" y2="540.5" stroke="#a0a0a0"/>
<line x1="404.0" y1="538.0" x2="404.0" y2="540.5" stroke="#a0a0a0"/>
<line x1="411.3" y1="538.0" x2="411.3" y2="540.5" stroke="#a0a0a0"/>
<line x1="418.6" y1="538.0" x2="418.6" y2="540.5" stroke="#a0a0a0"/>
<line x1="425.9" y1="538.0" x2="425.9" y2="540.5" stroke="#a0a0a0"/>
<line x1="433.1" y1="538.0" x2="433.1" y2="540.5" stroke="#a0a0a0"/>
<line x1="440.4" y1="538.0" x2="440.4" y2="540.5" stroke="#a0a0a0"/>
<line x1="447.7" y1="538.0" x2="447.7" y2="540.5" stroke="#a0a0a0"/>
<line x1="455.0" y1="538.0" x2="455.0" y2="540.5" stroke="#a0a0a0"/>
<line x1="462.2" y1="538.0" x2="462.2" y2="540.5" stroke="#a0a0a0"/>
<line x1="469.5" y1="538.0" x2="469.5" y2="540.5" stroke="#a0a0a0"/>
<line x1="476.8" y1="538.0" x2="476.8" y2="540.5" stroke="#a0a0a0"/>
<line x1="484.1" y1="538.0" x2="484.1" y2="540.5" stroke="#a0a0a0"/>
<line x1="491.3" y1="538.0" x2="491.3" y2="540.5" stroke="#a0a0a0"/>
<line x1="498.6" y1="538.0" x2="498.6" y2="540.5" stroke="#a0a0a0"/>
<line x1="505.9" y1="538.0" x2="505.9" y2="540.5" stroke="#a0a0a0"/>
<line x1="513.2" y1="538.0" x2="513.2" y2="540.5" stroke="#a0a0a0"/>
<line x1="520.4" y1="538.0" x2="520.4" y2="540.5" stroke="#a0a0a0"/>
<line x1="527.7" y1="538.0" x2="527.7" y2="540.5" stroke="#a0a0a0"/>
<line x1="535.0" y1="538.0" x2="535.0" y2="540.5" stroke="#a0a0a0"/>
<line x1="542.2" y1="538.0" x2="542.2" y2="540.5" stroke="#a0a0a0"/>
<line x1="549.5" y1="538.0" x2="549.5" y2="540.5" stroke="#a0a0a0"/>
<line x1="556.8" y1="538.0" x2="556.8" y2="540.5" stroke="#a0a0a0"/>
<line x1="564.1" y1="538.0" x2="564.1" y2="540.5" stroke="#a0a0a0"/>
<line x1="571.3" y1="538.0" x2="571.3" y2="540.5" stroke="#a0a0a0"/>
<line x1="578.6" y1="538.0" x2="578.6" y2="540.5" stroke="#a0a0a0"/>
<line x1="585.9" y1="538.0" x2="585.9" y2="540.5" stroke="#a0a0a0"/>
<line x1="593.2" y1="538.0" x2="593.2" y2="540.5" stroke="#a0a0a0"/>
<line x1="600.4" y1="538.0" x2="600.4" y2="540.5" stroke="#a0a0a0"/>
<line x1="607.7" y1="538.0" x2="607.7" y2="540.5" stroke="#a0a0a0"/>
<line x1="615.0" y1="538.0" x2="615.0" y2="540.5" stroke="#a0a0a0"/>
<line x1="622.3" y1="538.0" x2="622.3" y2="540.5" stroke="#a0a0a0"/>
<line x1="629.5" y1="538.0" x2="629.5" y2="540.5" stroke="#a0a0a0"/>
<line x1="636.8" y1="538.0" x2="636.8" y2="540.5" stroke="#a0a0a0"/>
<line x1="644.1" y1="538.0" x2="644.1" y2="540.5" stroke="#a0a0a0"/>
<line x1="651.4" y1="538.0" x2="651.4" y2="540.5" stroke="#a0a0a0"/>
<line x1="658.6" y1="538.0" x2="658.6" y2="540.5" stroke="#a0a0a0"/>
<line x1="665.9" y1="538.0" x2="665.9" y2="540.5" stroke="#a0a0a0"/>
<line x1="673.2" y1="538.0" x2="673.2" y2="540.5" stroke="#a0a0a0"/>
<line x1="680.5" y1="538.0" x2="680.5" y2="540.5" stroke="#a0a0a0"/>
<line x1="687.7" y1="538.0" x2="687.7" y2="540.5" stroke="#a0a0a0"/>
<line x1="695.0" y1="538.0" x2="695.0" y2="540.5" stroke="#a0a0a0"/>
<line x1="702.3" y1="538.0" x2="702.3" y2="540.5" stroke="#a0a0a0"/>
<line x1="709.6" y1="538.0" x2="709.6" y2="540.5" stroke="#a0a0a0"/>
<line x1="716.8" y1="538.0" x2="716.8" y2="540.5" stroke="#a0a0a0"/>
<line x1="724.1" y1="538.0" x2="724.1" y2="540.5" stroke="#a0a0a0"/>
<line x1="731.4" y1="538.0" x2="731.4" y2="540.5" stroke="#a0a0a0"/>
<line x1="738.7" y1="538.0" x2="738.7" y2="540.5" stroke="#a0a0a0"/>
<line x1="745.9" y1="538.0" x2="745.9" y2="540.5" stroke="#a0a0a0"/>
<line x1="753.2" y1="538.0" x2="753.2" y2="540.5" stroke="#a0a0a0"/>
<line x1="760.5" y1="538.0" x2="760.5" y2="540.5" stroke="#a0a0a0"/>
<line x1="767.8" y1="538.0" x2="767.8" y2="540.5" stroke="#a0a0a0"/>
<line x1="775.0" y1="538.0" x2="775.0" y2="540.5" stroke="#a0a0a0"/>
<line x1="782.3" y1="538.0" x2="782.3" y2="540.5" stroke="#a0a0a0"/>
<line x1="789.6" y1="538.0" x2="789.6" y2="540.5" stroke="#a0a0a0"/>
<line x1="796.9" y1="538.0" x2="796.9" y2="540.5" stroke="#a0a0a0"/>
<line x1="804.1" y1="538.0" x2="804.1" y2="540.5" stroke="#a0a0a0"/>
<line x1="811.4" y1="538.0" x2="811.4" y2="540.5" stroke="#a0a0a0"/>
<line x1="818.7" y1="538.0" x2="818.7" y2="540.5" stroke="#a0a0a0"/>
<line x1="826.0" y1="538.0" x2="826.0" y2="540.5" stroke="#a0a0a0"/>
<line x1="833.2" y1="538.0" x2="833.2" y2="540.5" stroke="#a0a0a0"/>
<line x1="840.5" y1="538.0" x2="840.5" y2="540.5" stroke="#a0a0a0"/>
<line x1="847.8" y1="538.0" x2="847.8" y2="540.5" stroke="#a0a0a0"/>
<line x1="855.1" y1="538.0" x2="855.1" y2="540.5" stroke="#a0a0a0"/>
<line x1="862.3" y1="538.0" x2="862.3" y2="540.5" stroke="#a0a0a0"/>
<line x1="869.6" y1="538.0" x2="869.6" y2="540.5" stroke="#a0a0a0"/>
<line x1="876.9" y1="538.0" x2="876.9" y2="540.5" stroke="#a0a0a0"/>
<line x1="884.2" y1="538.0" x2="884.2" y2="540.5" stroke="#a0a0a0"/>
<line x1="891.4" y1="538.0" x2="891.4" y2="540.5" stroke="#a0a0a0"/>
<line x1="898.7" y1="538.0" x2="898.7" y2="540.5" stroke="#a0a0a0"/>
<line x1="906.0" y1="538.0" x2="906.0" y2="540.5" stroke="#a0a0a0"/>
<line x1="913.3" y1="538.0" x2="913.3" y2="540.5" stroke="#a0a0a0"/>
<line x1="920.5" y1="538.0" x2="920.5" y2="540.5" stroke="#a0a0a0"/>
<line x1="927.8" y1="538.0" x2="927.8" y2="540.5" stroke="#a0a0a0"/>
<line x1="935.1" y1="538.0" x2="935.1" y2="540.5" stroke="#a0a0a0"/>
<line x1="942.4" y1="538.0" x2="942.4" y2="540.5" stroke="#a0a0a0"/>
<line x1="949.6" y1="538.0" x2="949.6" y2="540.5" stroke="#a0a0a0"/>
<line x1="956.9" y1="538.0" x2="956.9" y2="540.5" stroke="#a0a0a0"/>
<line x1="964.2" y1="538.0" x2="964.2" y2="540.5" stroke="#a0a0a0"/>
<line x1="971.5" y1="538.0" x2="971.5" y2="540.5" stroke="#a0a0a0"/>
<line x1="978.7" y1="538.0" x2="978.7" y2="540.5" stroke="#a0a0a0"/>
<line x1="986.0" y1="538.0" x2="986.0" y2="540.5" stroke="#a0a0a0"/>
<line x1="993.3" y1="538.0" x2="993.3" y2="540.5" stroke="#a0a0a0"/>
<line x1="1000.5" y1="538.0" x2="1000.5" y2="540.5" stroke="#a0a0a0"/>
<line x1="1007.8" y1="538.0" x2="1007.8" y2="540.5" stroke="#a0a0a0"/>
<line x1="1015.1" y1="538.0" x2="1015.1" y2="540.5" stroke="#a0a0a0"/>
<line x1="1022.4" y1="538.0" x2="1022.4" y2="540.5" stroke="#a0a0a0"/>
<line x1="1029.6" y1="538.0" x2="1029.6" y2="540.5" stroke="#a0a0a0"/>
<line x1="1036.9" y1="538.0" x2="1036.9" y2="540.5" stroke="#a0a0a0"/>
<line x1="1044.2" y1="538.0" x2="1044.2" y2="540.5" stroke="#a0a0a0"/>
<line x1="1051.5" y1="538.0" x2="1051.5" y2="540.5" stroke="#a0a0a0"/>
<line x1="1058.7" y1="538.0" x2="1058.7" y2="540.5" stroke="#a0a0a0"/>
<line x1="1066.0" y1="538.0" x2="1066.0" y2="540.5" stroke="#a0a0a0"/>
<line x1="1073.3" y1="538.0" x2="1073.3" y2="540.5" stroke="#a0a0a0"/>
<line x1="1080.6" y1="538.0" x2="1080.6" y2="540.5" stroke="#a0a0a0"/>
<line x1="1087.8" y1="538.0" x2="1087.8" y2="540.5" stroke="#a0a0a0"/>
<line x1="1095.1" y1="538.0" x2="1095.1" y2="540.5" stroke="#a0a0a0"/>
<line x1="1102.4" y1="538.0" x2="1102.4" y2="540.5" stroke="#a0a0a0"/>
<line x1="1109.7" y1="538.0" x2="1109.7" y2="540.5" stroke="#a0a0a0"/>
<line x1="1116.9" y1="538.0" x2="1116.9" y2="540.5" stroke="#a0a0a0"/>
<line x1="1124.2" y1="538.0" x2="1124.2" y2="540.5" stroke="#a0a0a0"/>
<line x1="1131.5" y1="538.0" x2="1131.5" y2="540.5" stroke="#a0a0a0"/>
<line x1="1138.8" y1="538.0" x2="1138.8" y2="540.5" stroke="#a0a0a0"/>
<line x1="1146.0" y1="538.0" x2="1146.0" y2="540.5" stroke="#a0a0a0"/>
<line x1="40.3" y1="882.5" x2="40.3" y2="885.0" stroke="#a0a0a0"/>
<line x1="47.6" y1="882.5" x2="47.6" y2="885.0" stroke="#a0a0a0"/>
<line x1="54.9" y1="882.5" x2="54.9" y2="885.0" stroke="#a0a0a0"/>
<line x1="62.1" y1="882.5" x2="62.1" y2="885.0" stroke="#a0a0a0"/>
<line x1="69.4" y1="882.5" x2="69.4" y2="885.0" stroke="#a0a0a0"/>
<line x1="76.7" y1="882.5" x2="76.7" y2="885.0" stroke="#a0a0a0"/>
<line x1="83.9" y1="882.5" x2="83.9" y2="885.0" stroke="#a0a0a0"/>
<line x1="91.2" y1="882.5" x2="91.2" y2="885.0" stroke="#a0a0a0"/>
<line x1="98.5" y1="882.5" x2="98.5" y2="885.0" stroke="#a0a0a0"/>
<line x1="105.8" y1="882.5" x2="105.8" y2="885.0" stroke="#a0a0a0"/>
<line x1="113.0" y1="882.5" x2="113.0" y2="885.0" stroke="#a0a0a0"/>
<line x1="120.3" y1="882.5" x2="120.3" y2="885.0" stroke="#a0a0a0"/>
<line x1="127.6" y1="882.5" x2="127.6" y2="885.0" stroke="#a0a0a0"/>
<line x1="134.9" y1="882.5" x2="134.9" y2="885.0" stroke="#a0a0a0"/>
<line x1="142.1" y1="882.5" x2="142.1" y2="885.0" stroke="#a0a0a0"/>
<line x1="149.4" y1="882.5" x2="149.4" y2="885.0" stroke="#a0a0a0"/>
<line x1="156.7" y1="882.5" x2="156.7" y2="885.0" stroke="#a0a0a0"/>
<line x1="164.0" y1="882.5" x2="164.0" y2="885.0" stroke="#a0a0a0"/>
<line x1="171.2" y1="882.5" x2="171.2" y2="885.0" stroke="#a0a0a0"/>
<line x1="178.5" y1="882.5" x2="178.5" y2="885.0" stroke="#a0a0a0"/>
<line x1="185.8" y1="882.5" x2="185.8" y2="885.0" stroke="#a0a0a0"/>
<line x1="193.1" y1="882.5" x2="193.1" y2="885.0" stroke="#a0a0a0"/>
<line x1="200.3" y1="882.5" x2="200.3" y2="885.0" stroke="#a0a0a0"/>
<line x1="207.6" y1="882.5" x2="207.6" y2="885.0" stroke="#a0a0a0"/>
<line x1="214.9" y1="882.5" x2="214.9" y2="885.0" stroke="#a0a0a0"/>
<line x1="222.2" y1="882.5" x2="222.2" y2="885.0" stroke="#a0a0a0"/>
<line x1="229.4" y1="882.5" x2="229.4" y2="885.0" stroke="#a0a0a0"/>
<line x1="236.7" y1="882.5" x2="236.7" y2="885.0" stroke="#a0a0a0"/>
<line x1="244.0" y1="882.5" x2="244.0" y2="885.0" stroke="#a0a0a0"/>
<line x1="251.3" y1="882.5" x2="251.3" y2="885.0" stroke="#a0a0a0"/>
<line x1="258.5" y1="882.5" x2="258.5" y2="885.0" stroke="#a0a0a0"/>
<line x1="265.8" y1="882.5" x2="265.8" y2="885.0" stroke="#a0a0a0"/>
<line x1="273.1" y1="882.5" x2="273.1" y2="885.0" stroke="#a0a0a0"/>
<line x1="280.4" y1="882.5" x2="280.4" y2="885.0" stroke="#a0a0a0"/>
<line x1="287.6" y1="882.5" x2="287.6" y2="885.0" stroke="#a0a0a0"/>
<line x1="294.9" y1="882.5" x2="294.9" y2="885.0" stroke="#a0a0a0"/>
<line x1="302.2" y1="882.5" x2="302.2" y2="885.0" stroke="#a0a0a0"/>
<line x1="309.5" y1="882.5" x2="309.5" y2="885.0" stroke="#a0a0a0"/>
<line x1="316.7" y1="882.5" x2="316.7" y2="885.0" stroke="#a0a0a0"/>
<line x1="324.0" y1="882.5" x2="324.0" y2="885.0" stroke="#a0a0a0"/>
<line x1="331.3" y1="882.5" x2="331.3" y2="885.0" stroke="#a0a0a0"/>
<line x1="338.6" y1="882.5" x2="338.6" y2="885.0" stroke="#a0a0a0"/>
<line x1="345.8" y1="882.5" x2="345.8" y2="885.0" stroke="#a0a0a0"/>
<line x1="353.1" y1="882.5" x2="353.1" y2="885.0" stroke="#a0a0a0"/>
<line x1="360.4" y1="882.5" x2="360.4" y2="885.0" stroke="#a0a0a0"/>
<line x1="367.7" y1="882.5" x2="367.7" y2="885.0" stroke="#a0a0a0"/>
<line x1="374.9" y1="882.5" x2="374.9" y2="885.0" stroke="#a0a0a0"/>
<line x1="382.2" y1="882.5" x2="382.2" y2="885.0" stroke="#a0a0a0"/>
<line x1="389.5" y1="882.5" x2="389.5" y2="885.0" stroke="#a0a0a0"/>
<line x1="396.8" y1="882.5" x2="396.8" y2="885.0" stroke="#a0a0a0"/>
<line x1="404.0" y1="882.5" x2="404.0" y2="885.0" stroke="#a0a0a0"/>
<line x1="411.3" y1="882.5" x2="411.3" y2="885.0" stroke="#a0a0a0"/>
<line x1="418.6" y1="882.5" x2="418.6" y2="885.0" stroke="#a0a0a0"/>
<line x1="425.9" y1="882.5" x2="425.9" y2="885.0" stroke="#a0a0a0"/>
<line x1="433.1" y1="882.5" x2="433.1" y2="885.0" stroke="#a0a0a0"/>
<line x1="440.4" y1="882.5" x2="440.4" y2="885.0" stroke="#a0a0a0"/>
<line x1="447.7" y1="882.5" x2="447.7" y2="885.0" stroke="#a0a0a0"/>
<line x1="455.0" y1="882.5" x2="455.0" y2="885.0" stroke="#a0a0a0"/>
<line x1="462.2" y1="882.5" x2="462.2" y2="885.0" stroke="#a0a0a0"/>
<line x1="469.5" y1="882.5" x2="469.5" y2="885.0" stroke="#a0a0a0"/>
<line x1="476.8" y1="882.5" x2="476.8" y2="885.0" stroke="#a0a0a0"/>
<line x1="484.1" y1="882.5" x2="484.1" y2="885.0" stroke="#a0a0a0"/>
<line x1="491.3" y1="882.5" x2="491.3" y2="885.0" stroke="#a0a0a0"/>
<line x1="498.6" y1="882.5" x2="498.6" y2="885.0" stroke="#a0a0a0"/>
<line x1="505.9" y1="882.5" x2="505.9" y2="885.0" stroke="#a0a0a0"/>
<line x1="513.2" y1="882.5" x2="513.2" y2="885.0" stroke="#a0a0a0"/>
<line x1="520.4" y1="882.5" x2="520.4" y2="885.0" stroke="#a0a0a0"/>
<line x1="527.7" y1="882.5" x2="527.7" y2="885.0" stroke="#a0a0a0"/>
<line x1="535.0" y1="882.5" x2="535.0" y2="885.0" stroke="#a0a0a0"/>
<line x1="542.2" y1="882.5" x2="542.2" y2="885.0" stroke="#a0a0a0"/>
<line x1="549.5" y1="882.5" x2="549.5" y2="885.0" stroke="#a0a0a0"/>
<line x1="556.8" y1="882.5" x2="556.8" y2="885.0" stroke="#a0a0a0"/>
<line x1="564.1" y1="882.5" x2="564.1" y2="885.0" stroke="#a0a0a0"/>
<line x1="571.3" y1="882.5" x2="571.3" y2="885.0" stroke="#a0a0a0"/>
<line x1="578.6" y1="882.5" x2="578.6" y2="885.0" stroke="#a0a0a0"/>
<line x1="585.9" y1="882.5" x2="585.9" y2="885.0" stroke="#a0a0a0"/>
<line x1="593.2" y1="882.5" x2="593.2" y2="885.0" stroke="#a0a0a0"/>
<line x1="600.4" y1="882.5" x2="600.4" y2="885.0" stroke="#a0a0a0"/>
<line x1="607.7" y1="882.5" x2="607.7" y2="885.0" stroke="#a0a0a0"/>
<line x1="615.0" y1="882.5" x2="615.0" y2="885.0" stroke="#a0a0a0"/>
<line x1="622.3" y1="882.5" x2="622.3" y2="885.0" stroke="#a0a0a0"/>
<line x1="629.5" y1="882.5" x2="629.5" y2="885.0" stroke="#a0a0a0"/>
<line x1="636.8" y1="882.5" x2="636.8" y2="885.0" stroke="#a0a0a0"/>
<line x1="644.1" y1="882.5" x2="644.1" y2="885.0" stroke="#a0a0a0"/>
<line x1="651.4" y1="882.5" x2="651.4" y2="885.0" stroke="#a0a0a0"/>
<line x1="658.6" y1="882.5" x2="658.6" y2="885.0" stroke="#a0a0a0"/>
<line x1="665.9" y1="882.5" x2="665.9" y2="885.0" stroke="#a0a0a0"/>
<line x1="673.2" y1="882.5" x2="673.2" y2="885.0" stroke="#a0a0a0"/>
<line x1="680.5" y1="882.5" x2="680.5" y2="885.0" stroke="#a0a0a0"/>
<line x1="687.7" y1="882.5" x2="687.7" y2="885.0" stroke="#a0a0a0"/>
<line x1="695.0" y1="882.5" x2="695.0" y2="885.0" stroke="#a0a0a0"/>
<line x1="702.3" y1="882.5" x2="702.3" y2="885.0" stroke="#a0a0a0"/>
<line x1="709.6" y1="882.5" x2="709.6" y2="885.0" stroke="#a0a0a0"/>
<line x1="716.8" y1="882.5" x2="716.8" y2="885.0" stroke="#a0a0a0"/>
<line x1="724.1" y1="882.5" x2="724.1" y2="885.0" stroke="#a0a0a0"/>
<line x1="731.4" y1="882.5" x2="731.4" y2="885.0" stroke="#a0a0a0"/>
<line x1="738.7" y1="882.5" x2="738.7" y2="885.0" stroke="#a0a0a0"/>
<line x1="745.9" y1="882.5" x2="745.9" y2="885.0" stroke="#a0a0a0"/>
<line x1="753.2" y1="882.5" x2="753.2" y2="885.0" stroke="#a0a0a0"/>
<line x1="760.5" y1="882.5" x2="760.5" y2="885.0" stroke="#a0a0a0"/>
<line x1="767.8" y1="882.5" x2="767.8" y2="885.0" stroke="#a0a0a0"/>
<line x1="775.0" y1="882.5" x2="775.0" y2="885.0" stroke="#a0a0a0"/>
<line x1="782.3" y1="882.5" x2="782.3" y2="885.0" stroke="#a0a0a0"/>
<line x1="789.6" y1="882.5" x2="789.6" y2="885.0" stroke="#a0a0a0"/>
<line x1="796.9" y1="882.5" x2="796.9" y2="885.0" stroke="#a0a0a0"/>
<line x1="804.1" y1="882.5" x2="804.1" y2="885.0" stroke="#a0a0a0"/>
<line x1="811.4" y1="882.5" x2="811.4" y2="885.0" stroke="#a0a0a0"/>
<line x1="818.7" y1="882.5" x2="818.7" y2="885.0" stroke="#a0a0a0"/>
<line x1="826.0" y1="882.5" x2="826.0" y2="885.0" stroke="#a0a0a0"/>
<line x1="833.2" y1="882.5" x2="833.2" y2="885.0" stroke="#a0a0a0"/>
<line x1="840.5" y1="882.5" x2="840.5" y2="885.0" stroke="#a0a0a0"/>
<line x1="847.8" y1="882.5" x2="847.8" y2="885.0" stroke="#a0a0a0"/>
<line x1="855.1" y1="882.5" x2="855.1" y2="885.0" stroke="#a0a0a0"/>
<line x1="862.3" y1="882.5" x2="862.3" y2="885.0" stroke="#a0a0a0"/>
<line x1="869.6" y1="882.5" x2="869.6" y2="885.0" stroke="#a0a0a0"/>
<line x1="876.9" y1="882.5" x2="876.9" y2="885.0" stroke="#a0a0a0"/>
<line x1="884.2" y1="882.5" x2="884.2" y2="885.0" stroke="#a0a0a0"/>
<line x1="891.4" y1="882.5" x2="891.4" y2="885.0" stroke="#a0a0a0"/>
<line x1="898.7" y1="882.5" x2="898.7" y2="885.0" stroke="#a0a0a0"/>
<line x1="906.0" y1="882.5" x2="906.0" y2="885.0" stroke="#a0a0a0"/>
<line x1="913.3" y1="882.5" x2="913.3" y2="885.0" stroke="#a0a0a0"/>
<line x1="920.5" y1="882.5" x2="920.5" y2="885.0" stroke="#a0a0a0"/>
<line x1="927.8" y1="882.5" x2="927.8" y2="885.0" stroke="#a0a0a0"/>
<line x1="935.1" y1="882.5" x2="935.1" y2="885.0" stroke="#a0a0a0"/>
<line x1="942.4" y1="882.5" x2="942.4" y2="885.0" stroke="#a0a0a0"/>
<line x1="949.6" y1="882.5" x2="949.6" y2="885.0" stroke="#a0a0a0"/>
<line x1="956.9" y1="882.5" x2="956.9" y2="885.0" stroke="#a0a0a0"/>
<line x1="964.2" y1="882.5" x2="964.2" y2="885.0" stroke="#a0a0a0"/>
<line x1="971.5" y1="882.5" x2="971.5" y2="885.0" stroke="#a0a0a0"/>
<line x1="978.7" y1="882.5" x2="978.7" y2="885.0" stroke="#a0a0a0"/>
<line x1="986.0" y1="882.5" x2="986.0" y2="885.0" stroke="#a0a0a0"/>
<line x1="993.3" y1="882.5" x2="993.3" y2="885.0" stroke="#a0a0a0"/>
<line x1="1000.5" y1="882.5" x2="1000.5" y2="885.0" stroke="#a0a0a0"/>
<line x1="1007.8" y1="882.5" x2="1007.8" y2="885.0" stroke="#a0a0a0"/>
<line x1="1015.1" y1="882.5" x2="1015.1" y2="885.0" stroke="#a0a0a0"/>
<line x1="1022.4" y1="882.5" x2="1022.4" y2="885.0" stroke="#a0a0a0"/>
<line x1="1029.6" y1="882.5" x2="1029.6" y2="885.0" stroke="#a0a0a0"/>
<line x1="1036.9" y1="882.5" x2="1036.9" y2="885.0" stroke="#a0a0a0"/>
<line x1="1044.2" y1="882.5" x2="1044.2" y2="885.0" stroke="#a0a0a0"/>
<line x1="1051.5" y1="882.5" x2="1051.5" y2="885.0" stroke="#a0a0a0"/>
<line x1="1058.7" y1="882.5" x2="1058.7" y2="885.0" stroke="#a0a0a0"/>
<line x1="1066.0" y1="882.5" x2="1066.0" y2="885.0" stroke="#a0a0a0"/>
<line x1="1073.3" y1="882.5" x2="1073.3" y2="885.0" stroke="#a0a0a0"/>
<line x1="1080.6" y1="882.5" x2="1080.6" y2="885.0" stroke="#a0a0a0"/>
<line x1="1087.8" y1="882.5" x2="1087.8" y2="885.0" stroke="#a0a0a0"/>
<line x1="1095.1" y1="882.5" x2="1095.1" y2="885.0" stroke="#a0a0a0"/>
<line x1="1102.4" y1="882.5" x2="1102.4" y2="885.0" stroke="#a0a0a0"/>
<line x1="1109.7" y1="882.5" x2="1109.7" y2="885.0" stroke="#a0a0a0"/>
<line x1="1116.9" y1="882.5" x2="1116.9" y2="885.0" stroke="#a0a0a0"/>
<line x1="1124.2" y1="882.5" x2="1124.2" y2="885.0" stroke="#a0a0a0"/>
<line x1="1131.5" y1="882.5" x2="1131.5" y2="885.0" stroke="#a0a0a0"/>
<line x1="1138.8" y1="882.5" x2="1138.8" y2="885.0" stroke="#a0a0a0"/>
<line x1="1146.0" y1="882.5" x2="1146.0" y2="885.0" stroke="#a0a0a0"/>
<text x="200.3" y="895" font-size="13" font-weight="bold" text-anchor="middle" fill="#111">Apr</text>
<text x="353.1" y="895" font-size="13" font-weight="bold" text-anchor="middle" fill="#111">May</text>
<text x="498.6" y="895" font-size="13" font-weight="bold" text-anchor="middle" fill="#111">Jun</text>
<text x="658.6" y="895" font-size="13" font-weight="bold" text-anchor="middle" fill="#111">Jul</text>
<text x="811.4" y="895" font-size="13" font-weight="bold" text-anchor="middle" fill="#111">Aug</text>
<text x="971.5" y="895" font-size="13" font-weight="bold" text-anchor="middle" fill="#111">Sep</text>
<text x="1124.2" y="895" font-size="13" font-weight="bold" text-anchor="middle" fill="#111">Oct</text>
<text x="69.4" y="895" font-size="11.5" text-anchor="middle" fill="#222">8</text>
<text x="105.8" y="895" font-size="11.5" text-anchor="middle" fill="#222">15</text>
<text x="142.1" y="895" font-size="11.5" text-anchor="middle" fill="#222">22</text>
<text x="178.5" y="895" font-size="11.5" text-anchor="middle" fill="#222">29</text>
<text x="244.0" y="895" font-size="11.5" text-anchor="middle" fill="#222">12</text>
<text x="280.4" y="895" font-size="11.5" text-anchor="middle" fill="#222">19</text>
<text x="316.7" y="895" font-size="11.5" text-anchor="middle" fill="#222">26</text>
<text x="389.5" y="895" font-size="11.5" text-anchor="middle" fill="#222">10</text>
<text x="425.9" y="895" font-size="11.5" text-anchor="middle" fill="#222">17</text>
<text x="462.2" y="895" font-size="11.5" text-anchor="middle" fill="#222">24</text>
<text x="527.7" y="895" font-size="11.5" text-anchor="middle" fill="#222">7</text>
<text x="564.1" y="895" font-size="11.5" text-anchor="middle" fill="#222">14</text>
<text x="600.4" y="895" font-size="11.5" text-anchor="middle" fill="#222">21</text>
<text x="636.8" y="895" font-size="11.5" text-anchor="middle" fill="#222">28</text>
<text x="673.2" y="895" font-size="11.5" text-anchor="middle" fill="#222">6</text>
<text x="702.3" y="895" font-size="11.5" text-anchor="middle" fill="#222">12</text>
<text x="738.7" y="895" font-size="11.5" text-anchor="middle" fill="#222">19</text>
<text x="775.0" y="895" font-size="11.5" text-anchor="middle" fill="#222">26</text>
<text x="847.8" y="895" font-size="11.5" text-anchor="middle" fill="#222">9</text>
<text x="884.2" y="895" font-size="11.5" text-anchor="middle" fill="#222">16</text>
<text x="920.5" y="895" font-size="11.5" text-anchor="middle" fill="#222">23</text>
<text x="993.3" y="895" font-size="11.5" text-anchor="middle" fill="#222">7</text>
<text x="1022.4" y="895" font-size="11.5" text-anchor="middle" fill="#222">13</text>
<text x="1058.7" y="895" font-size="11.5" text-anchor="middle" fill="#222">20</text>
<text x="1095.1" y="895" font-size="11.5" text-anchor="middle" fill="#222">27</text>
<path d="M1144.2,101.1 L1148.5,94.8 L1199.5,94.8 L1199.5,107.3 L1148.5,107.3 Z" fill="#fff" stroke="#2a2a8c" stroke-width="1.5"/>
<text x="1150.0" y="105.4" font-size="12" textLength="45.8" lengthAdjust="spacingAndGlyphs" fill="#111">4435.50</text>
<path d="M1144.2,145.2 L1148.5,138.9 L1199.5,138.9 L1199.5,151.4 L1148.5,151.4 Z" fill="#fff" stroke="#111" stroke-width="2"/>
<text x="1150.0" y="149.5" font-size="12" font-weight="bold" textLength="46" lengthAdjust="spacingAndGlyphs" fill="#111">4354.19</text>
<path d="M1144.2,282.5 L1148.5,276.2 L1199.5,276.2 L1199.5,288.8 L1148.5,288.8 Z" fill="#fff" stroke="#e02a2a" stroke-width="1.5"/>
<text x="1150.0" y="286.8" font-size="12" textLength="46" lengthAdjust="spacingAndGlyphs" fill="#111">4109.50</text>
<path d="M1144.2,465.5 L1148.5,459.2 L1199.5,459.2 L1199.5,471.8 L1148.5,471.8 Z" fill="#fff" stroke="#333" stroke-width="1.5"/>
<text x="1150.0" y="469.8" font-size="12.5" textLength="47.5" lengthAdjust="spacingAndGlyphs" fill="#111">1917091</text>
<path d="M1144.2,651.5 L1148.5,645.2 L1188,645.2 L1188,657.8 L1148.5,657.8 Z" fill="#fff" stroke="#222" stroke-width="1.5"/>
<text x="1150.0" y="655.8" font-size="12" fill="#111">33.48</text>
<path d="M1144.2,821.8 L1148.5,815.5 L1185,815.5 L1185,828.0 L1148.5,828.0 Z" fill="#fff" stroke="#ee2a2a" stroke-width="1.5"/>
<text x="1150.0" y="826.1" font-size="12" fill="#111">9.457</text>
<path d="M1144.2,856.5 L1148.5,850.2 L1196,850.2 L1196,862.8 L1148.5,862.8 Z" fill="#fff" stroke="#222" stroke-width="1.5"/>
<text x="1150.0" y="860.8" font-size="12" fill="#111">-10.817</text>
<path d="M1144.2,872.8 L1148.5,866.5 L1196,866.5 L1196,879.0 L1148.5,879.0 Z" fill="#fff" stroke="#3a78b8" stroke-width="1.5"/>
<text x="1150.0" y="877.1" font-size="12" fill="#111">-20.274</text></g>
<g><text x="39.2" y="17" font-size="16.5" font-weight="bold" textLength="40" lengthAdjust="spacingAndGlyphs" fill="#111" xml:space="preserve">$SPX</text>
<text x="84.6" y="16" font-size="13" textLength="183.4" lengthAdjust="spacingAndGlyphs" fill="#222" xml:space="preserve">S&amp;P 500 Large Cap Index INDX</text>
<text x="38.75" y="31" font-size="11" textLength="72.2" lengthAdjust="spacing" fill="#222" xml:space="preserve">21-Sep-2021</text>
<text x="1038.5" y="15.6" font-size="13" textLength="108.4" lengthAdjust="spacingAndGlyphs" fill="#333" xml:space="preserve">© StockCharts.com</text>
<text x="570" y="30.6" font-size="13" font-weight="bold" textLength="33.75" lengthAdjust="spacingAndGlyphs" fill="#111" xml:space="preserve">Open</text>
<text x="608" y="30.6" font-size="12.5" textLength="47.6" lengthAdjust="spacingAndGlyphs" fill="#111" xml:space="preserve">4374.45</text>
<text x="662.5" y="30.6" font-size="13" font-weight="bold" textLength="28.5" lengthAdjust="spacingAndGlyphs" fill="#111" xml:space="preserve">High</text>
<text x="696" y="30.6" font-size="12.5" textLength="46" lengthAdjust="spacingAndGlyphs" fill="#111" xml:space="preserve">4394.87</text>
<text x="750" y="30.6" font-size="13" font-weight="bold" textLength="27.5" lengthAdjust="spacingAndGlyphs" fill="#111" xml:space="preserve">Low</text>
<text x="783.3" y="30.6" font-size="12.5" textLength="45" lengthAdjust="spacingAndGlyphs" fill="#111" xml:space="preserve">4347.96</text>
<text x="837.5" y="30.6" font-size="13" font-weight="bold" textLength="37.5" lengthAdjust="spacingAndGlyphs" fill="#111" xml:space="preserve">Close</text>
<text x="880" y="30.6" font-size="12.5" textLength="46.7" lengthAdjust="spacingAndGlyphs" fill="#111" xml:space="preserve">4354.19</text>
<text x="935.4" y="30.6" font-size="13" font-weight="bold" textLength="50" lengthAdjust="spacingAndGlyphs" fill="#111" xml:space="preserve">Volume</text>
<text x="991.7" y="30.6" font-size="12.5" textLength="24" lengthAdjust="spacingAndGlyphs" fill="#111" xml:space="preserve">1.9B</text>
<text x="1024" y="30.6" font-size="13" font-weight="bold" textLength="26" lengthAdjust="spacingAndGlyphs" fill="#111" xml:space="preserve">Chg</text>
<text x="1054" y="30.6" font-size="12.5" textLength="81.4" lengthAdjust="spacingAndGlyphs" fill="#111" xml:space="preserve">-3.54 (-0.08%)</text>
<path d="M1137.5,25 L1147,25 L1142.2,29.5 Z" fill="#9b1a2a"/>
<rect x="40" y="35" width="160.5" height="54" fill="#fff"/>
<text x="57.5" y="46.5" font-size="12" textLength="142.5" lengthAdjust="spacing" fill="#222" xml:space="preserve">$SPX (Daily) 4354.19</text>
<rect x="42" y="54.8" width="11" height="3" fill="#1f1f8f"/>
<text x="55.2" y="60.5" font-size="11.5" textLength="83.3" lengthAdjust="spacingAndGlyphs" fill="#1f1f8f" xml:space="preserve">MA(50) 4435.50</text>
<rect x="42" y="68.8" width="11" height="1.6" fill="#e0202a"/>
<text x="55.2" y="74" font-size="11.5" textLength="89.3" lengthAdjust="spacingAndGlyphs" fill="#e0202a" xml:space="preserve">MA(200) 4109.50</text>
<g fill="#333"><rect x="42" y="81" width="2" height="6"/><rect x="45" y="78" width="2" height="9"/><rect x="48" y="80" width="2" height="7"/><rect x="51" y="82" width="2" height="5"/></g>
<text x="55.2" y="87" font-size="11.5" textLength="115.5" lengthAdjust="spacingAndGlyphs" fill="#222" xml:space="preserve">Volume 1,917,091,584</text>
<g><rect x="42.5" y="39.5" width="2.5" height="6" fill="#222"/><line x1="43.7" y1="38" x2="43.7" y2="47" stroke="#222"/><rect x="47" y="40" width="3" height="5" fill="#fff" stroke="#222"/><line x1="48.5" y1="38" x2="48.5" y2="47" stroke="#222"/><rect x="51.5" y="39.5" width="2.5" height="6" fill="#222"/></g>
<rect x="21.5" y="97.5" width="178" height="28" fill="#fff" stroke="#555" stroke-width="1.2"/>
<line x1="96.5" y1="97.5" x2="96.5" y2="125.5" stroke="#555" stroke-width="1.2"/>
<path d="M23,126.8 L200.8,126.8 L200.8,99" fill="none" stroke="#cfc8d8" stroke-width="1.6"/>
<text x="24.8" y="116.8" font-size="17" font-weight="bold" textLength="70.2" lengthAdjust="spacingAndGlyphs" fill="#d61a36" xml:space="preserve" stroke="#d61a36" stroke-width="0.35">Sunshine</text>
<text x="100.2" y="116.8" font-size="17" font-weight="bold" textLength="84" lengthAdjust="spacingAndGlyphs" fill="#111" xml:space="preserve" stroke="#111" stroke-width="0.35">Profits.com</text>
<rect x="40" y="541" width="116" height="15" fill="#fff"/>
<path d="M42,552.5 L44.5,546 L47,549 L49.5,545 L52.5,550.5 L52.5,552.5 Z" fill="#6f9772" stroke="#222" stroke-width="1.1"/>
<text x="57.6" y="552.3" font-size="12.5" textLength="95.7" lengthAdjust="spacing" fill="#222" xml:space="preserve">RSI(14) 33.48</text>
<rect x="40" y="712" width="290" height="15" fill="#fff"/>
<rect x="42.2" y="718.8" width="11.3" height="2.6" fill="#111"/>
<text x="57.25" y="723.75" font-size="12.5" textLength="102.5" lengthAdjust="spacing" fill="#222" xml:space="preserve">MACD(12,26,9)</text>
<text x="166" y="723.75" font-size="12.5" textLength="50" lengthAdjust="spacing" fill="#222" xml:space="preserve">-10.817</text>
<text x="217.25" y="723.75" font-size="12.5" textLength="48.75" lengthAdjust="spacing" fill="#ee2a2a" xml:space="preserve">, 9.457</text>
<text x="267.25" y="723.75" font-size="12.5" textLength="61.25" lengthAdjust="spacing" fill="#3a8ad0" xml:space="preserve">, -20.274</text></g>
</svg>
</body></html>
